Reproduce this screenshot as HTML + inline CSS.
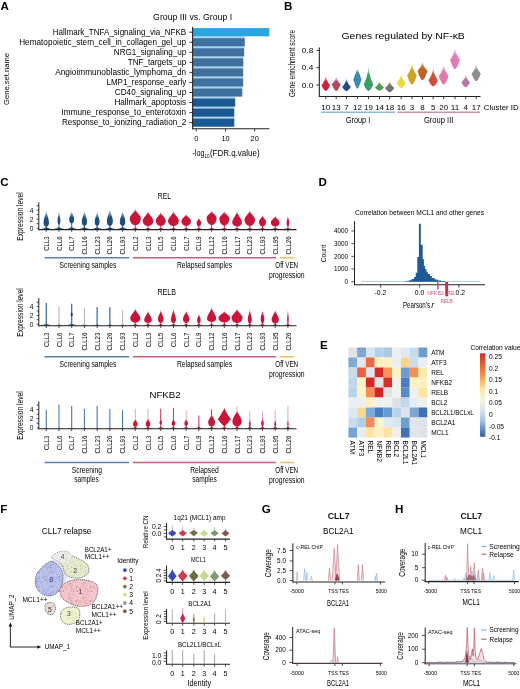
<!DOCTYPE html>
<html><head><meta charset="utf-8"><style>
html,body{margin:0;padding:0;background:#fff;}
svg{display:block;will-change:transform;}
text{font-family:"Liberation Sans", sans-serif;}
</style></head><body>
<svg width="520" height="689" viewBox="0 0 520 689">
<rect width="520" height="689" fill="#fff"/>
<text x="0.40" y="9.60" font-size="11.6" font-weight="bold" fill="#000">A</text>
<text x="284.00" y="9.70" font-size="11.6" font-weight="bold" fill="#000">B</text>
<text x="0.30" y="185.60" font-size="11.6" font-weight="bold" fill="#000">C</text>
<text x="318.50" y="185.90" font-size="11.6" font-weight="bold" fill="#000">D</text>
<text x="320.00" y="348.70" font-size="11.6" font-weight="bold" fill="#000">E</text>
<text x="0.20" y="512.60" font-size="11.6" font-weight="bold" fill="#000">F</text>
<text x="261.80" y="512.50" font-size="11.6" font-weight="bold" fill="#000">G</text>
<text x="395.00" y="512.70" font-size="11.6" font-weight="bold" fill="#000">H</text>
<text x="153.10" y="20.10" font-size="9.9" textLength="79.00" lengthAdjust="spacingAndGlyphs">Group III vs. Group I</text>
<rect x="193.00" y="36.30" width="51.80" height="1.85" fill="#a4d2f0"/>
<rect x="193.00" y="46.35" width="51.20" height="1.85" fill="#a4d2f0"/>
<rect x="193.00" y="56.40" width="50.30" height="1.85" fill="#a4d2f0"/>
<rect x="193.00" y="66.45" width="50.20" height="1.85" fill="#a4d2f0"/>
<rect x="193.00" y="76.50" width="50.20" height="1.85" fill="#a4d2f0"/>
<rect x="193.00" y="86.55" width="49.30" height="1.85" fill="#a4d2f0"/>
<rect x="193.00" y="96.60" width="42.20" height="1.85" fill="#a4d2f0"/>
<rect x="193.00" y="106.65" width="41.30" height="1.85" fill="#a4d2f0"/>
<rect x="193.00" y="116.70" width="41.30" height="1.85" fill="#a4d2f0"/>
<rect x="193.00" y="28.10" width="76.40" height="8.20" fill="#27a6e0"/>
<text x="186.20" y="34.70" font-size="8.2" text-anchor="end" textLength="133.50" lengthAdjust="spacingAndGlyphs">Hallmark_TNFA_signaling_via_NFKB</text>
<line x1="189.30" y1="32.20" x2="192.50" y2="32.20" stroke="#222" stroke-width="0.9"/>
<rect x="193.00" y="38.15" width="51.80" height="8.20" fill="#3f71a0"/>
<text x="186.20" y="44.75" font-size="8.2" text-anchor="end" textLength="167.00" lengthAdjust="spacingAndGlyphs">Hematopoietic_stem_cell_in_collagen_gel_up</text>
<line x1="189.30" y1="42.25" x2="192.50" y2="42.25" stroke="#222" stroke-width="0.9"/>
<rect x="193.00" y="48.20" width="51.20" height="8.20" fill="#3f71a0"/>
<text x="186.20" y="54.80" font-size="8.2" text-anchor="end" textLength="72.40" lengthAdjust="spacingAndGlyphs">NRG1_signaling_up</text>
<line x1="189.30" y1="52.30" x2="192.50" y2="52.30" stroke="#222" stroke-width="0.9"/>
<rect x="193.00" y="58.25" width="50.30" height="8.20" fill="#3f71a0"/>
<text x="186.20" y="64.85" font-size="8.2" text-anchor="end" textLength="58.50" lengthAdjust="spacingAndGlyphs">TNF_targets_up</text>
<line x1="189.30" y1="62.35" x2="192.50" y2="62.35" stroke="#222" stroke-width="0.9"/>
<rect x="193.00" y="68.30" width="50.20" height="8.20" fill="#3f71a0"/>
<text x="186.20" y="74.90" font-size="8.2" text-anchor="end" textLength="131.00" lengthAdjust="spacingAndGlyphs">Angioimmunoblastic_lymphoma_dn</text>
<line x1="189.30" y1="72.40" x2="192.50" y2="72.40" stroke="#222" stroke-width="0.9"/>
<rect x="193.00" y="78.35" width="50.20" height="8.20" fill="#3f71a0"/>
<text x="186.20" y="84.95" font-size="8.2" text-anchor="end" textLength="79.70" lengthAdjust="spacingAndGlyphs">LMP1_response_early</text>
<line x1="189.30" y1="82.45" x2="192.50" y2="82.45" stroke="#222" stroke-width="0.9"/>
<rect x="193.00" y="88.40" width="49.30" height="8.20" fill="#3f71a0"/>
<text x="186.20" y="95.00" font-size="8.2" text-anchor="end" textLength="71.40" lengthAdjust="spacingAndGlyphs">CD40_signaling_up</text>
<line x1="189.30" y1="92.50" x2="192.50" y2="92.50" stroke="#222" stroke-width="0.9"/>
<rect x="193.00" y="98.45" width="42.20" height="8.20" fill="#1a5a93"/>
<text x="186.20" y="105.05" font-size="8.2" text-anchor="end" textLength="71.80" lengthAdjust="spacingAndGlyphs">Hallmark_apoptosis</text>
<line x1="189.30" y1="102.55" x2="192.50" y2="102.55" stroke="#222" stroke-width="0.9"/>
<rect x="193.00" y="108.50" width="41.30" height="8.20" fill="#1a5a93"/>
<text x="186.20" y="115.10" font-size="8.2" text-anchor="end" textLength="124.70" lengthAdjust="spacingAndGlyphs">Immune_response_to_enterotoxin</text>
<line x1="189.30" y1="112.60" x2="192.50" y2="112.60" stroke="#222" stroke-width="0.9"/>
<rect x="193.00" y="118.55" width="41.30" height="8.20" fill="#1a5a93"/>
<text x="186.20" y="125.15" font-size="8.2" text-anchor="end" textLength="124.30" lengthAdjust="spacingAndGlyphs">Response_to_ionizing_radiation_2</text>
<line x1="189.30" y1="122.65" x2="192.50" y2="122.65" stroke="#222" stroke-width="0.9"/>
<line x1="192.60" y1="27.00" x2="192.60" y2="129.20" stroke="#222" stroke-width="1.1"/>
<line x1="192.00" y1="128.80" x2="269.40" y2="128.80" stroke="#222" stroke-width="1.1"/>
<line x1="196.30" y1="128.80" x2="196.30" y2="131.50" stroke="#222" stroke-width="0.9"/>
<text x="196.30" y="141.30" font-size="7.4" text-anchor="middle">0</text>
<line x1="225.50" y1="128.80" x2="225.50" y2="131.50" stroke="#222" stroke-width="0.9"/>
<text x="225.50" y="141.30" font-size="7.4" text-anchor="middle">10</text>
<line x1="254.70" y1="128.80" x2="254.70" y2="131.50" stroke="#222" stroke-width="0.9"/>
<text x="254.70" y="141.30" font-size="7.4" text-anchor="middle">20</text>
<text x="192.40" y="155.60" font-size="8.6" textLength="12.00" lengthAdjust="spacingAndGlyphs">-log</text>
<text x="204.50" y="157.60" font-size="5.8" textLength="5.10" lengthAdjust="spacingAndGlyphs">10</text>
<text x="209.90" y="155.60" font-size="8.6" textLength="49.70" lengthAdjust="spacingAndGlyphs">(FDR.q.value)</text>
<text x="8.60" y="79.00" font-size="7.8" text-anchor="middle" textLength="52.00" lengthAdjust="spacingAndGlyphs" transform="rotate(-90 8.60 79.00)">Gene.set.name</text>
<text x="341.50" y="39.30" font-size="9.4" textLength="123.30" lengthAdjust="spacingAndGlyphs">Genes regulated by NF-κB</text>
<line x1="319.30" y1="47.50" x2="319.30" y2="96.80" stroke="#222" stroke-width="1.1"/>
<line x1="318.80" y1="96.50" x2="480.50" y2="96.50" stroke="#222" stroke-width="1.1"/>
<line x1="316.30" y1="50.40" x2="319.30" y2="50.40" stroke="#222" stroke-width="0.9"/>
<text x="313.30" y="53.10" font-size="7.8" text-anchor="end" textLength="11.50" lengthAdjust="spacingAndGlyphs">0.8</text>
<line x1="316.30" y1="67.70" x2="319.30" y2="67.70" stroke="#222" stroke-width="0.9"/>
<text x="313.30" y="70.40" font-size="7.8" text-anchor="end" textLength="11.50" lengthAdjust="spacingAndGlyphs">0.4</text>
<line x1="316.30" y1="85.00" x2="319.30" y2="85.00" stroke="#222" stroke-width="0.9"/>
<text x="313.30" y="87.70" font-size="7.8" text-anchor="end" textLength="11.50" lengthAdjust="spacingAndGlyphs">0.0</text>
<text x="295.00" y="63.50" font-size="8.6" text-anchor="middle" textLength="67.00" lengthAdjust="spacingAndGlyphs" transform="rotate(-90 295.00 63.50)">Gene enrichment score</text>
<defs><linearGradient id="fg1" x1="0" y1="0" x2="0" y2="1"><stop offset="0" stop-color="#d0203c" stop-opacity="0.15"/><stop offset="0.4" stop-color="#d0203c" stop-opacity="1"/></linearGradient></defs>
<path d="M325.80,74.90 L325.82,75.64 L325.89,76.37 L326.00,77.11 L326.15,77.84 L326.35,78.58 L326.59,79.31 L326.88,80.05 L327.20,80.79 L327.58,81.52 L327.99,82.26 L328.45,82.99 L328.96,83.73 L329.51,84.46 L330.10,85.20 L329.91,85.61 L329.72,86.03 L329.52,86.44 L329.31,86.86 L329.10,87.27 L328.87,87.69 L328.64,88.10 L328.39,88.51 L328.12,88.93 L327.83,89.34 L327.51,89.76 L327.14,90.17 L326.68,90.59 L325.80,91.00 L325.80,91.00 L324.92,90.59 L324.46,90.17 L324.09,89.76 L323.77,89.34 L323.48,88.93 L323.21,88.51 L322.96,88.10 L322.73,87.69 L322.50,87.27 L322.29,86.86 L322.08,86.44 L321.88,86.03 L321.69,85.61 L321.50,85.20 L322.09,84.46 L322.64,83.73 L323.15,82.99 L323.61,82.26 L324.02,81.52 L324.40,80.79 L324.73,80.05 L325.01,79.31 L325.25,78.58 L325.45,77.84 L325.60,77.11 L325.71,76.37 L325.78,75.64 L325.80,74.90Z" fill="url(#fg1)"/>
<line x1="325.80" y1="96.50" x2="325.80" y2="99.20" stroke="#222" stroke-width="0.9"/>
<text x="325.80" y="109.80" font-size="8.0" text-anchor="middle">10</text>
<defs><linearGradient id="fg2" x1="0" y1="0" x2="0" y2="1"><stop offset="0" stop-color="#b04a5e" stop-opacity="0.15"/><stop offset="0.4" stop-color="#b04a5e" stop-opacity="1"/></linearGradient></defs>
<path d="M336.20,75.70 L336.22,76.31 L336.29,76.93 L336.41,77.54 L336.57,78.16 L336.77,78.77 L337.03,79.39 L337.32,80.00 L337.67,80.61 L338.06,81.23 L338.50,81.84 L338.98,82.46 L339.51,83.07 L340.08,83.69 L340.70,84.30 L340.50,84.78 L340.30,85.26 L340.09,85.74 L339.88,86.21 L339.65,86.69 L339.42,87.17 L339.17,87.65 L338.91,88.13 L338.63,88.61 L338.32,89.09 L337.99,89.56 L337.60,90.04 L337.12,90.52 L336.20,91.00 L336.20,91.00 L335.28,90.52 L334.80,90.04 L334.41,89.56 L334.08,89.09 L333.77,88.61 L333.49,88.13 L333.23,87.65 L332.98,87.17 L332.75,86.69 L332.52,86.21 L332.31,85.74 L332.10,85.26 L331.90,84.78 L331.70,84.30 L332.32,83.69 L332.89,83.07 L333.42,82.46 L333.90,81.84 L334.34,81.23 L334.73,80.61 L335.07,80.00 L335.37,79.39 L335.63,78.77 L335.83,78.16 L335.99,77.54 L336.11,76.93 L336.18,76.31 L336.20,75.70Z" fill="url(#fg2)"/>
<line x1="336.20" y1="96.50" x2="336.20" y2="99.20" stroke="#222" stroke-width="0.9"/>
<text x="336.20" y="109.80" font-size="8.0" text-anchor="middle">13</text>
<defs><linearGradient id="fg3" x1="0" y1="0" x2="0" y2="1"><stop offset="0" stop-color="#1d4f80" stop-opacity="0.15"/><stop offset="0.4" stop-color="#1d4f80" stop-opacity="1"/></linearGradient></defs>
<path d="M346.50,77.20 L346.52,77.90 L346.59,78.60 L346.70,79.30 L346.85,80.00 L347.05,80.70 L347.29,81.40 L347.57,82.10 L347.90,82.80 L348.28,83.50 L348.69,84.20 L349.15,84.90 L349.66,85.60 L350.21,86.30 L350.80,87.00 L350.61,87.29 L350.42,87.57 L350.22,87.86 L350.01,88.14 L349.80,88.43 L349.57,88.71 L349.34,89.00 L349.09,89.29 L348.82,89.57 L348.53,89.86 L348.21,90.14 L347.84,90.43 L347.38,90.71 L346.50,91.00 L346.50,91.00 L345.62,90.71 L345.16,90.43 L344.79,90.14 L344.47,89.86 L344.18,89.57 L343.91,89.29 L343.66,89.00 L343.43,88.71 L343.20,88.43 L342.99,88.14 L342.78,87.86 L342.58,87.57 L342.39,87.29 L342.20,87.00 L342.79,86.30 L343.34,85.60 L343.85,84.90 L344.31,84.20 L344.72,83.50 L345.10,82.80 L345.43,82.10 L345.71,81.40 L345.95,80.70 L346.15,80.00 L346.30,79.30 L346.41,78.60 L346.48,77.90 L346.50,77.20Z" fill="url(#fg3)"/>
<line x1="346.50" y1="96.50" x2="346.50" y2="99.20" stroke="#222" stroke-width="0.9"/>
<text x="346.50" y="109.80" font-size="8.0" text-anchor="middle">7</text>
<defs><linearGradient id="fg4" x1="0" y1="0" x2="0" y2="1"><stop offset="0" stop-color="#3a8cb3" stop-opacity="0.3"/><stop offset="0.2" stop-color="#3a8cb3" stop-opacity="1"/></linearGradient></defs>
<path d="M357.40,69.00 L357.78,69.75 L358.11,70.50 L358.42,71.25 L358.73,72.00 L359.02,72.75 L359.31,73.50 L359.60,74.25 L359.88,75.00 L360.15,75.75 L360.43,76.50 L360.70,77.25 L360.97,78.00 L361.24,78.75 L361.50,79.50 L361.29,80.16 L361.08,80.83 L360.86,81.49 L360.64,82.16 L360.41,82.82 L360.17,83.49 L359.92,84.15 L359.67,84.81 L359.39,85.48 L359.11,86.14 L358.79,86.81 L358.45,87.47 L358.05,88.14 L357.40,88.80 L357.40,88.80 L356.75,88.14 L356.35,87.47 L356.01,86.81 L355.69,86.14 L355.41,85.48 L355.13,84.81 L354.88,84.15 L354.63,83.49 L354.39,82.82 L354.16,82.16 L353.94,81.49 L353.72,80.83 L353.51,80.16 L353.30,79.50 L353.56,78.75 L353.83,78.00 L354.10,77.25 L354.37,76.50 L354.65,75.75 L354.92,75.00 L355.20,74.25 L355.49,73.50 L355.78,72.75 L356.07,72.00 L356.38,71.25 L356.69,70.50 L357.02,69.75 L357.40,69.00Z" fill="url(#fg4)"/>
<line x1="357.40" y1="96.50" x2="357.40" y2="99.20" stroke="#222" stroke-width="0.9"/>
<text x="357.40" y="109.80" font-size="8.0" text-anchor="middle">12</text>
<defs><linearGradient id="fg5" x1="0" y1="0" x2="0" y2="1"><stop offset="0" stop-color="#3b9e66" stop-opacity="0.15"/><stop offset="0.4" stop-color="#3b9e66" stop-opacity="1"/></linearGradient></defs>
<path d="M368.50,64.20 L368.52,65.65 L368.60,67.10 L368.72,68.55 L368.89,70.00 L369.11,71.45 L369.38,72.90 L369.70,74.35 L370.07,75.80 L370.48,77.25 L370.95,78.70 L371.46,80.15 L372.03,81.60 L372.64,83.05 L373.30,84.50 L373.09,84.96 L372.88,85.43 L372.65,85.89 L372.42,86.36 L372.18,86.82 L371.93,87.29 L371.67,87.75 L371.39,88.21 L371.09,88.68 L370.76,89.14 L370.40,89.61 L369.99,90.07 L369.49,90.54 L368.50,91.00 L368.50,91.00 L367.51,90.54 L367.01,90.07 L366.60,89.61 L366.24,89.14 L365.91,88.68 L365.61,88.21 L365.33,87.75 L365.07,87.29 L364.82,86.82 L364.58,86.36 L364.35,85.89 L364.12,85.43 L363.91,84.96 L363.70,84.50 L364.36,83.05 L364.97,81.60 L365.54,80.15 L366.05,78.70 L366.52,77.25 L366.93,75.80 L367.30,74.35 L367.62,72.90 L367.89,71.45 L368.11,70.00 L368.28,68.55 L368.40,67.10 L368.48,65.65 L368.50,64.20Z" fill="url(#fg5)"/>
<line x1="368.50" y1="96.50" x2="368.50" y2="99.20" stroke="#222" stroke-width="0.9"/>
<text x="368.50" y="109.80" font-size="8.0" text-anchor="middle">19</text>
<defs><linearGradient id="fg6" x1="0" y1="0" x2="0" y2="1"><stop offset="0" stop-color="#4a9e4e" stop-opacity="0.15"/><stop offset="0.4" stop-color="#4a9e4e" stop-opacity="1"/></linearGradient></defs>
<path d="M379.50,80.30 L379.52,80.81 L379.59,81.33 L379.71,81.84 L379.87,82.36 L380.07,82.87 L380.33,83.39 L380.62,83.90 L380.97,84.41 L381.36,84.93 L381.80,85.44 L382.28,85.96 L382.81,86.47 L383.38,86.99 L384.00,87.50 L383.80,87.72 L383.60,87.94 L383.39,88.16 L383.18,88.39 L382.95,88.61 L382.72,88.83 L382.47,89.05 L382.21,89.27 L381.93,89.49 L381.62,89.71 L381.29,89.94 L380.90,90.16 L380.42,90.38 L379.50,90.60 L379.50,90.60 L378.58,90.38 L378.10,90.16 L377.71,89.94 L377.38,89.71 L377.07,89.49 L376.79,89.27 L376.53,89.05 L376.28,88.83 L376.05,88.61 L375.82,88.39 L375.61,88.16 L375.40,87.94 L375.20,87.72 L375.00,87.50 L375.62,86.99 L376.19,86.47 L376.72,85.96 L377.20,85.44 L377.64,84.93 L378.03,84.41 L378.38,83.90 L378.67,83.39 L378.93,82.87 L379.13,82.36 L379.29,81.84 L379.41,81.33 L379.48,80.81 L379.50,80.30Z" fill="url(#fg6)"/>
<line x1="379.50" y1="96.50" x2="379.50" y2="99.20" stroke="#222" stroke-width="0.9"/>
<text x="379.50" y="109.80" font-size="8.0" text-anchor="middle">14</text>
<defs><linearGradient id="fg7" x1="0" y1="0" x2="0" y2="1"><stop offset="0" stop-color="#727272" stop-opacity="0.15"/><stop offset="0.4" stop-color="#727272" stop-opacity="1"/></linearGradient></defs>
<path d="M389.70,80.30 L389.72,80.85 L389.79,81.40 L389.91,81.95 L390.08,82.50 L390.29,83.05 L390.54,83.60 L390.85,84.15 L391.20,84.70 L391.60,85.25 L392.05,85.80 L392.54,86.35 L393.08,86.90 L393.67,87.45 L394.30,88.00 L394.10,88.30 L393.89,88.60 L393.68,88.90 L393.46,89.20 L393.23,89.50 L392.99,89.80 L392.73,90.10 L392.47,90.40 L392.18,90.70 L391.87,91.00 L391.53,91.30 L391.13,91.60 L390.64,91.90 L389.70,92.20 L389.70,92.20 L388.76,91.90 L388.27,91.60 L387.87,91.30 L387.53,91.00 L387.22,90.70 L386.93,90.40 L386.67,90.10 L386.41,89.80 L386.17,89.50 L385.94,89.20 L385.72,88.90 L385.51,88.60 L385.30,88.30 L385.10,88.00 L385.73,87.45 L386.32,86.90 L386.86,86.35 L387.35,85.80 L387.80,85.25 L388.20,84.70 L388.55,84.15 L388.86,83.60 L389.11,83.05 L389.32,82.50 L389.49,81.95 L389.61,81.40 L389.68,80.85 L389.70,80.30Z" fill="url(#fg7)"/>
<line x1="389.70" y1="96.50" x2="389.70" y2="99.20" stroke="#222" stroke-width="0.9"/>
<text x="389.70" y="109.80" font-size="8.0" text-anchor="middle">18</text>
<defs><linearGradient id="fg8" x1="0" y1="0" x2="0" y2="1"><stop offset="0" stop-color="#e8dc38" stop-opacity="0.15"/><stop offset="0.4" stop-color="#e8dc38" stop-opacity="1"/></linearGradient></defs>
<path d="M401.20,72.60 L401.22,73.34 L401.29,74.07 L401.41,74.81 L401.57,75.54 L401.77,76.28 L402.03,77.01 L402.32,77.75 L402.67,78.49 L403.06,79.22 L403.50,79.96 L403.98,80.69 L404.51,81.43 L405.08,82.16 L405.70,82.90 L405.50,83.27 L405.30,83.64 L405.09,84.01 L404.88,84.39 L404.65,84.76 L404.42,85.13 L404.17,85.50 L403.91,85.87 L403.63,86.24 L403.32,86.61 L402.99,86.99 L402.60,87.36 L402.12,87.73 L401.20,88.10 L401.20,88.10 L400.28,87.73 L399.80,87.36 L399.41,86.99 L399.08,86.61 L398.77,86.24 L398.49,85.87 L398.23,85.50 L397.98,85.13 L397.75,84.76 L397.52,84.39 L397.31,84.01 L397.10,83.64 L396.90,83.27 L396.70,82.90 L397.32,82.16 L397.89,81.43 L398.42,80.69 L398.90,79.96 L399.34,79.22 L399.73,78.49 L400.07,77.75 L400.37,77.01 L400.63,76.28 L400.83,75.54 L400.99,74.81 L401.11,74.07 L401.18,73.34 L401.20,72.60Z" fill="url(#fg8)"/>
<line x1="401.20" y1="96.50" x2="401.20" y2="99.20" stroke="#222" stroke-width="0.9"/>
<text x="401.20" y="109.80" font-size="8.0" text-anchor="middle">16</text>
<defs><linearGradient id="fg9" x1="0" y1="0" x2="0" y2="1"><stop offset="0" stop-color="#d0a22a" stop-opacity="0.15"/><stop offset="0.4" stop-color="#d0a22a" stop-opacity="1"/></linearGradient></defs>
<path d="M412.00,61.30 L412.02,62.29 L412.10,63.29 L412.22,64.28 L412.39,65.27 L412.61,66.26 L412.88,67.26 L413.20,68.25 L413.57,69.24 L413.98,70.24 L414.45,71.23 L414.96,72.22 L415.53,73.21 L416.14,74.21 L416.80,75.20 L416.59,75.88 L416.38,76.56 L416.15,77.24 L415.92,77.91 L415.68,78.59 L415.43,79.27 L415.17,79.95 L414.89,80.63 L414.59,81.31 L414.26,81.99 L413.90,82.66 L413.49,83.34 L412.99,84.02 L412.00,84.70 L412.00,84.70 L411.01,84.02 L410.51,83.34 L410.10,82.66 L409.74,81.99 L409.41,81.31 L409.11,80.63 L408.83,79.95 L408.57,79.27 L408.32,78.59 L408.08,77.91 L407.85,77.24 L407.62,76.56 L407.41,75.88 L407.20,75.20 L407.86,74.21 L408.47,73.21 L409.04,72.22 L409.55,71.23 L410.02,70.24 L410.43,69.24 L410.80,68.25 L411.12,67.26 L411.39,66.26 L411.61,65.27 L411.78,64.28 L411.90,63.29 L411.98,62.29 L412.00,61.30Z" fill="url(#fg9)"/>
<line x1="412.00" y1="96.50" x2="412.00" y2="99.20" stroke="#222" stroke-width="0.9"/>
<text x="412.00" y="109.80" font-size="8.0" text-anchor="middle">3</text>
<defs><linearGradient id="fg10" x1="0" y1="0" x2="0" y2="1"><stop offset="0" stop-color="#c0622a" stop-opacity="0.15"/><stop offset="0.4" stop-color="#c0622a" stop-opacity="1"/></linearGradient></defs>
<path d="M422.50,60.40 L422.53,61.14 L422.60,61.89 L422.73,62.63 L422.91,63.37 L423.14,64.11 L423.42,64.86 L423.75,65.60 L424.13,66.34 L424.57,67.09 L425.05,67.83 L425.59,68.57 L426.17,69.31 L426.81,70.06 L427.50,70.80 L427.28,71.48 L427.06,72.16 L426.83,72.84 L426.59,73.51 L426.34,74.19 L426.07,74.87 L425.80,75.55 L425.51,76.23 L425.20,76.91 L424.86,77.59 L424.48,78.26 L424.06,78.94 L423.53,79.62 L422.50,80.30 L422.50,80.30 L421.47,79.62 L420.94,78.94 L420.52,78.26 L420.14,77.59 L419.80,76.91 L419.49,76.23 L419.20,75.55 L418.93,74.87 L418.66,74.19 L418.41,73.51 L418.17,72.84 L417.94,72.16 L417.72,71.48 L417.50,70.80 L418.19,70.06 L418.83,69.31 L419.41,68.57 L419.95,67.83 L420.43,67.09 L420.87,66.34 L421.25,65.60 L421.58,64.86 L421.86,64.11 L422.09,63.37 L422.27,62.63 L422.40,61.89 L422.47,61.14 L422.50,60.40Z" fill="url(#fg10)"/>
<line x1="422.50" y1="96.50" x2="422.50" y2="99.20" stroke="#222" stroke-width="0.9"/>
<text x="422.50" y="109.80" font-size="8.0" text-anchor="middle">8</text>
<defs><linearGradient id="fg11" x1="0" y1="0" x2="0" y2="1"><stop offset="0" stop-color="#c8523e" stop-opacity="0.15"/><stop offset="0.4" stop-color="#c8523e" stop-opacity="1"/></linearGradient></defs>
<path d="M433.20,66.50 L433.22,67.49 L433.30,68.47 L433.42,69.46 L433.59,70.44 L433.81,71.43 L434.08,72.41 L434.40,73.40 L434.77,74.39 L435.18,75.37 L435.65,76.36 L436.16,77.34 L436.73,78.33 L437.34,79.31 L438.00,80.30 L437.79,80.74 L437.58,81.17 L437.35,81.61 L437.12,82.04 L436.88,82.48 L436.63,82.91 L436.37,83.35 L436.09,83.79 L435.79,84.22 L435.46,84.66 L435.10,85.09 L434.69,85.53 L434.19,85.96 L433.20,86.40 L433.20,86.40 L432.21,85.96 L431.71,85.53 L431.30,85.09 L430.94,84.66 L430.61,84.22 L430.31,83.79 L430.03,83.35 L429.77,82.91 L429.52,82.48 L429.28,82.04 L429.05,81.61 L428.82,81.17 L428.61,80.74 L428.40,80.30 L429.06,79.31 L429.67,78.33 L430.24,77.34 L430.75,76.36 L431.22,75.37 L431.63,74.39 L432.00,73.40 L432.32,72.41 L432.59,71.43 L432.81,70.44 L432.98,69.46 L433.10,68.47 L433.18,67.49 L433.20,66.50Z" fill="url(#fg11)"/>
<line x1="433.20" y1="96.50" x2="433.20" y2="99.20" stroke="#222" stroke-width="0.9"/>
<text x="433.20" y="109.80" font-size="8.0" text-anchor="middle">5</text>
<defs><linearGradient id="fg12" x1="0" y1="0" x2="0" y2="1"><stop offset="0" stop-color="#e478a8" stop-opacity="0.15"/><stop offset="0.4" stop-color="#e478a8" stop-opacity="1"/></linearGradient></defs>
<path d="M443.70,63.00 L443.72,63.93 L443.80,64.86 L443.93,65.79 L444.10,66.71 L444.32,67.64 L444.60,68.57 L444.93,69.50 L445.30,70.43 L445.72,71.36 L446.20,72.29 L446.72,73.21 L447.30,74.14 L447.93,75.07 L448.60,76.00 L448.39,76.62 L448.17,77.24 L447.94,77.86 L447.70,78.49 L447.46,79.11 L447.20,79.73 L446.93,80.35 L446.65,80.97 L446.34,81.59 L446.01,82.21 L445.64,82.84 L445.22,83.46 L444.71,84.08 L443.70,84.70 L443.70,84.70 L442.69,84.08 L442.18,83.46 L441.76,82.84 L441.39,82.21 L441.06,81.59 L440.75,80.97 L440.47,80.35 L440.20,79.73 L439.94,79.11 L439.70,78.49 L439.46,77.86 L439.23,77.24 L439.01,76.62 L438.80,76.00 L439.47,75.07 L440.10,74.14 L440.68,73.21 L441.20,72.29 L441.68,71.36 L442.10,70.43 L442.47,69.50 L442.80,68.57 L443.07,67.64 L443.30,66.71 L443.47,65.79 L443.60,64.86 L443.68,63.93 L443.70,63.00Z" fill="url(#fg12)"/>
<line x1="443.70" y1="96.50" x2="443.70" y2="99.20" stroke="#222" stroke-width="0.9"/>
<text x="443.70" y="109.80" font-size="8.0" text-anchor="middle">20</text>
<defs><linearGradient id="fg13" x1="0" y1="0" x2="0" y2="1"><stop offset="0" stop-color="#e27ab4" stop-opacity="0.15"/><stop offset="0.4" stop-color="#e27ab4" stop-opacity="1"/></linearGradient></defs>
<path d="M455.00,46.60 L455.02,47.53 L455.10,48.46 L455.23,49.39 L455.40,50.31 L455.62,51.24 L455.90,52.17 L456.23,53.10 L456.60,54.03 L457.02,54.96 L457.50,55.89 L458.02,56.81 L458.60,57.74 L459.23,58.67 L459.90,59.60 L459.69,60.28 L459.47,60.96 L459.24,61.64 L459.00,62.31 L458.76,62.99 L458.50,63.67 L458.23,64.35 L457.95,65.03 L457.64,65.71 L457.31,66.39 L456.94,67.06 L456.52,67.74 L456.01,68.42 L455.00,69.10 L455.00,69.10 L453.99,68.42 L453.48,67.74 L453.06,67.06 L452.69,66.39 L452.36,65.71 L452.05,65.03 L451.77,64.35 L451.50,63.67 L451.24,62.99 L451.00,62.31 L450.76,61.64 L450.53,60.96 L450.31,60.28 L450.10,59.60 L450.77,58.67 L451.40,57.74 L451.98,56.81 L452.50,55.89 L452.98,54.96 L453.40,54.03 L453.77,53.10 L454.10,52.17 L454.38,51.24 L454.60,50.31 L454.77,49.39 L454.90,48.46 L454.98,47.53 L455.00,46.60Z" fill="url(#fg13)"/>
<line x1="455.00" y1="96.50" x2="455.00" y2="99.20" stroke="#222" stroke-width="0.9"/>
<text x="455.00" y="109.80" font-size="8.0" text-anchor="middle">11</text>
<defs><linearGradient id="fg14" x1="0" y1="0" x2="0" y2="1"><stop offset="0" stop-color="#b47aa4" stop-opacity="0.15"/><stop offset="0.4" stop-color="#b47aa4" stop-opacity="1"/></linearGradient></defs>
<path d="M465.70,73.40 L465.72,74.04 L465.79,74.69 L465.90,75.33 L466.05,75.97 L466.25,76.61 L466.49,77.26 L466.77,77.90 L467.10,78.54 L467.48,79.19 L467.89,79.83 L468.35,80.47 L468.86,81.11 L469.41,81.76 L470.00,82.40 L469.81,82.75 L469.62,83.10 L469.42,83.45 L469.21,83.80 L469.00,84.15 L468.77,84.50 L468.54,84.85 L468.29,85.20 L468.02,85.55 L467.73,85.90 L467.41,86.25 L467.04,86.60 L466.58,86.95 L465.70,87.30 L465.70,87.30 L464.82,86.95 L464.36,86.60 L463.99,86.25 L463.67,85.90 L463.38,85.55 L463.11,85.20 L462.86,84.85 L462.63,84.50 L462.40,84.15 L462.19,83.80 L461.98,83.45 L461.78,83.10 L461.59,82.75 L461.40,82.40 L461.99,81.76 L462.54,81.11 L463.05,80.47 L463.51,79.83 L463.92,79.19 L464.30,78.54 L464.62,77.90 L464.91,77.26 L465.15,76.61 L465.35,75.97 L465.50,75.33 L465.61,74.69 L465.68,74.04 L465.70,73.40Z" fill="url(#fg14)"/>
<line x1="465.70" y1="96.50" x2="465.70" y2="99.20" stroke="#222" stroke-width="0.9"/>
<text x="465.70" y="109.80" font-size="8.0" text-anchor="middle">4</text>
<defs><linearGradient id="fg15" x1="0" y1="0" x2="0" y2="1"><stop offset="0" stop-color="#8e8e8e" stop-opacity="0.15"/><stop offset="0.4" stop-color="#8e8e8e" stop-opacity="1"/></linearGradient></defs>
<path d="M476.20,63.00 L476.22,63.74 L476.29,64.49 L476.41,65.23 L476.58,65.97 L476.79,66.71 L477.04,67.46 L477.35,68.20 L477.70,68.94 L478.10,69.69 L478.55,70.43 L479.04,71.17 L479.58,71.91 L480.17,72.66 L480.80,73.40 L480.60,73.96 L480.39,74.51 L480.18,75.07 L479.96,75.63 L479.73,76.19 L479.49,76.74 L479.23,77.30 L478.97,77.86 L478.68,78.41 L478.37,78.97 L478.03,79.53 L477.63,80.09 L477.14,80.64 L476.20,81.20 L476.20,81.20 L475.26,80.64 L474.77,80.09 L474.37,79.53 L474.03,78.97 L473.72,78.41 L473.43,77.86 L473.17,77.30 L472.91,76.74 L472.67,76.19 L472.44,75.63 L472.22,75.07 L472.01,74.51 L471.80,73.96 L471.60,73.40 L472.23,72.66 L472.82,71.91 L473.36,71.17 L473.85,70.43 L474.30,69.69 L474.70,68.94 L475.05,68.20 L475.36,67.46 L475.61,66.71 L475.82,65.97 L475.99,65.23 L476.11,64.49 L476.18,63.74 L476.20,63.00Z" fill="url(#fg15)"/>
<line x1="476.20" y1="96.50" x2="476.20" y2="99.20" stroke="#222" stroke-width="0.9"/>
<text x="476.20" y="109.80" font-size="8.0" text-anchor="middle">17</text>
<text x="483.80" y="109.80" font-size="8.0" textLength="34.80" lengthAdjust="spacingAndGlyphs">Cluster ID</text>
<line x1="321.00" y1="112.20" x2="395.00" y2="112.20" stroke="#8fb9cf" stroke-width="1.5"/>
<line x1="397.50" y1="112.20" x2="480.00" y2="112.20" stroke="#c993ab" stroke-width="1.5"/>
<text x="358.00" y="123.20" font-size="9.0" text-anchor="middle" textLength="24.40" lengthAdjust="spacingAndGlyphs">Group I</text>
<text x="438.70" y="123.20" font-size="9.0" text-anchor="middle" textLength="29.50" lengthAdjust="spacingAndGlyphs">Group III</text>
<defs><linearGradient id="gB" x1="0" y1="0" x2="0" y2="1"><stop offset="0" stop-color="#1c4f7e" stop-opacity="0.0"/><stop offset="0.55" stop-color="#1c4f7e" stop-opacity="1"/></linearGradient><linearGradient id="gR" x1="0" y1="0" x2="0" y2="1"><stop offset="0" stop-color="#c8163a" stop-opacity="0.3"/><stop offset="0.3" stop-color="#c8163a" stop-opacity="1"/></linearGradient></defs>
<path d="M39.65,229.30 Q43.94,228.58 46.25,226.90 Q48.56,228.58 52.85,229.30Z" fill="#1c4f7e"/>
<path d="M46.25,208.00 L46.25,208.75 L46.28,209.50 L46.32,210.25 L46.40,211.00 L46.52,211.75 L46.66,212.50 L46.83,213.25 L47.02,214.00 L47.23,214.75 L47.46,215.50 L47.68,216.25 L47.91,217.00 L48.12,217.75 L48.32,218.50 L48.50,219.25 L48.66,220.00 L48.78,220.75 L48.88,221.50 L48.93,222.25 L48.95,223.00 L48.95,223.19 L48.94,223.37 L48.92,223.56 L48.90,223.74 L48.86,223.93 L48.83,224.11 L48.78,224.29 L48.72,224.48 L48.66,224.66 L48.59,224.85 L48.50,225.03 L48.41,225.22 L48.30,225.41 L48.18,225.59 L48.04,225.77 L47.87,225.96 L47.67,226.14 L47.43,226.33 L47.09,226.51 L46.25,226.70 L46.25,226.70 L45.41,226.51 L45.07,226.33 L44.83,226.14 L44.63,225.96 L44.46,225.77 L44.32,225.59 L44.20,225.41 L44.09,225.22 L44.00,225.03 L43.91,224.85 L43.84,224.66 L43.78,224.48 L43.72,224.29 L43.67,224.11 L43.64,223.93 L43.60,223.74 L43.58,223.56 L43.56,223.37 L43.55,223.19 L43.55,223.00 L43.57,222.25 L43.62,221.50 L43.72,220.75 L43.84,220.00 L44.00,219.25 L44.18,218.50 L44.38,217.75 L44.59,217.00 L44.82,216.25 L45.04,215.50 L45.27,214.75 L45.48,214.00 L45.67,213.25 L45.84,212.50 L45.98,211.75 L46.10,211.00 L46.18,210.25 L46.22,209.50 L46.25,208.75 L46.25,208.00Z" fill="url(#gB)"/>
<line x1="46.25" y1="226.20" x2="46.25" y2="229.60" stroke="#1c4f7e" stroke-width="0.9"/>
<path d="M52.37,229.30 Q56.66,228.58 58.97,226.90 Q61.28,228.58 65.57,229.30Z" fill="#1c4f7e"/>
<path d="M58.97,209.00 L58.97,209.62 L58.98,210.25 L59.01,210.88 L59.05,211.50 L59.11,212.12 L59.18,212.75 L59.27,213.38 L59.37,214.00 L59.48,214.62 L59.60,215.25 L59.71,215.88 L59.83,216.50 L59.94,217.12 L60.05,217.75 L60.14,218.38 L60.22,219.00 L60.28,219.62 L60.33,220.25 L60.36,220.88 L60.37,221.50 L60.37,221.65 L60.36,221.80 L60.35,221.95 L60.34,222.10 L60.33,222.25 L60.31,222.40 L60.28,222.55 L60.25,222.70 L60.22,222.85 L60.18,223.00 L60.14,223.15 L60.09,223.30 L60.03,223.45 L59.97,223.60 L59.90,223.75 L59.81,223.90 L59.71,224.05 L59.58,224.20 L59.41,224.35 L58.97,224.50 L58.97,224.50 L58.53,224.35 L58.36,224.20 L58.23,224.05 L58.13,223.90 L58.04,223.75 L57.97,223.60 L57.91,223.45 L57.85,223.30 L57.80,223.15 L57.76,223.00 L57.72,222.85 L57.69,222.70 L57.66,222.55 L57.63,222.40 L57.61,222.25 L57.60,222.10 L57.59,221.95 L57.58,221.80 L57.57,221.65 L57.57,221.50 L57.58,220.88 L57.61,220.25 L57.66,219.62 L57.72,219.00 L57.80,218.38 L57.89,217.75 L58.00,217.12 L58.11,216.50 L58.23,215.88 L58.34,215.25 L58.46,214.62 L58.57,214.00 L58.67,213.38 L58.76,212.75 L58.83,212.12 L58.89,211.50 L58.93,210.88 L58.96,210.25 L58.97,209.62 L58.97,209.00Z" fill="url(#gB)"/>
<line x1="58.97" y1="224.00" x2="58.97" y2="229.60" stroke="#1c4f7e" stroke-width="0.9"/>
<path d="M65.09,229.30 Q69.38,228.58 71.69,226.90 Q74.00,228.58 78.29,229.30Z" fill="#1c4f7e"/>
<path d="M71.69,209.50 L71.69,210.00 L71.71,210.50 L71.76,211.00 L71.83,211.50 L71.94,212.00 L72.07,212.50 L72.23,213.00 L72.41,213.50 L72.60,214.00 L72.81,214.50 L73.02,215.00 L73.22,215.50 L73.42,216.00 L73.61,216.50 L73.78,217.00 L73.92,217.50 L74.04,218.00 L74.12,218.50 L74.17,219.00 L74.19,219.50 L74.19,219.70 L74.18,219.90 L74.16,220.10 L74.14,220.30 L74.11,220.50 L74.07,220.70 L74.03,220.90 L73.98,221.10 L73.92,221.30 L73.86,221.50 L73.78,221.70 L73.69,221.90 L73.59,222.10 L73.48,222.30 L73.34,222.50 L73.19,222.70 L73.01,222.90 L72.78,223.10 L72.47,223.30 L71.69,223.50 L71.69,223.50 L70.91,223.30 L70.60,223.10 L70.37,222.90 L70.19,222.70 L70.04,222.50 L69.90,222.30 L69.79,222.10 L69.69,221.90 L69.60,221.70 L69.52,221.50 L69.46,221.30 L69.40,221.10 L69.35,220.90 L69.31,220.70 L69.27,220.50 L69.24,220.30 L69.22,220.10 L69.20,219.90 L69.19,219.70 L69.19,219.50 L69.21,219.00 L69.26,218.50 L69.34,218.00 L69.46,217.50 L69.60,217.00 L69.77,216.50 L69.96,216.00 L70.16,215.50 L70.36,215.00 L70.57,214.50 L70.78,214.00 L70.97,213.50 L71.15,213.00 L71.31,212.50 L71.44,212.00 L71.55,211.50 L71.62,211.00 L71.67,210.50 L71.69,210.00 L71.69,209.50Z" fill="url(#gB)"/>
<line x1="71.69" y1="223.00" x2="71.69" y2="229.60" stroke="#1c4f7e" stroke-width="0.9"/>
<path d="M77.81,229.30 Q82.10,228.58 84.41,226.90 Q86.72,228.58 91.01,229.30Z" fill="#1c4f7e"/>
<path d="M84.41,208.50 L84.41,209.18 L84.43,209.85 L84.48,210.53 L84.56,211.20 L84.67,211.88 L84.80,212.55 L84.97,213.22 L85.16,213.90 L85.36,214.57 L85.57,215.25 L85.79,215.93 L86.01,216.60 L86.21,217.28 L86.41,217.95 L86.58,218.62 L86.73,219.30 L86.85,219.97 L86.94,220.65 L86.99,221.32 L87.01,222.00 L87.01,222.20 L87.00,222.40 L86.98,222.60 L86.96,222.80 L86.93,223.00 L86.89,223.20 L86.85,223.40 L86.79,223.60 L86.73,223.80 L86.66,224.00 L86.58,224.20 L86.49,224.40 L86.39,224.60 L86.27,224.80 L86.13,225.00 L85.97,225.20 L85.78,225.40 L85.54,225.60 L85.22,225.80 L84.41,226.00 L84.41,226.00 L83.60,225.80 L83.28,225.60 L83.04,225.40 L82.85,225.20 L82.69,225.00 L82.55,224.80 L82.43,224.60 L82.33,224.40 L82.24,224.20 L82.16,224.00 L82.09,223.80 L82.03,223.60 L81.97,223.40 L81.93,223.20 L81.89,223.00 L81.86,222.80 L81.84,222.60 L81.82,222.40 L81.81,222.20 L81.81,222.00 L81.83,221.32 L81.88,220.65 L81.97,219.97 L82.09,219.30 L82.24,218.62 L82.41,217.95 L82.61,217.28 L82.81,216.60 L83.03,215.93 L83.25,215.25 L83.46,214.57 L83.66,213.90 L83.85,213.22 L84.02,212.55 L84.15,211.88 L84.26,211.20 L84.34,210.53 L84.39,209.85 L84.41,209.18 L84.41,208.50Z" fill="url(#gB)"/>
<line x1="84.41" y1="225.50" x2="84.41" y2="229.60" stroke="#1c4f7e" stroke-width="0.9"/>
<path d="M90.53,229.30 Q94.82,228.58 97.13,226.90 Q99.44,228.58 103.73,229.30Z" fill="#1c4f7e"/>
<path d="M97.13,209.50 L97.13,210.12 L97.15,210.75 L97.20,211.38 L97.27,212.00 L97.37,212.62 L97.49,213.25 L97.65,213.88 L97.82,214.50 L98.01,215.12 L98.20,215.75 L98.40,216.38 L98.60,217.00 L98.79,217.62 L98.97,218.25 L99.13,218.88 L99.27,219.50 L99.38,220.12 L99.46,220.75 L99.51,221.38 L99.53,222.00 L99.53,222.20 L99.52,222.40 L99.50,222.60 L99.48,222.80 L99.45,223.00 L99.42,223.20 L99.38,223.40 L99.33,223.60 L99.27,223.80 L99.21,224.00 L99.13,224.20 L99.05,224.40 L98.95,224.60 L98.84,224.80 L98.72,225.00 L98.57,225.20 L98.39,225.40 L98.18,225.60 L97.88,225.80 L97.13,226.00 L97.13,226.00 L96.38,225.80 L96.08,225.60 L95.87,225.40 L95.69,225.20 L95.54,225.00 L95.42,224.80 L95.31,224.60 L95.21,224.40 L95.13,224.20 L95.05,224.00 L94.99,223.80 L94.93,223.60 L94.88,223.40 L94.84,223.20 L94.81,223.00 L94.78,222.80 L94.76,222.60 L94.74,222.40 L94.73,222.20 L94.73,222.00 L94.75,221.38 L94.80,220.75 L94.88,220.12 L94.99,219.50 L95.13,218.88 L95.29,218.25 L95.47,217.62 L95.66,217.00 L95.86,216.38 L96.06,215.75 L96.25,215.12 L96.44,214.50 L96.61,213.88 L96.77,213.25 L96.89,212.62 L96.99,212.00 L97.06,211.38 L97.11,210.75 L97.13,210.12 L97.13,209.50Z" fill="url(#gB)"/>
<line x1="97.13" y1="225.50" x2="97.13" y2="229.60" stroke="#1c4f7e" stroke-width="0.9"/>
<path d="M103.25,229.30 Q107.54,228.58 109.85,226.90 Q112.16,228.58 116.45,229.30Z" fill="#1c4f7e"/>
<path d="M109.85,207.00 L109.85,207.72 L109.88,208.45 L109.93,209.18 L110.02,209.90 L110.15,210.62 L110.31,211.35 L110.49,212.07 L110.71,212.80 L110.94,213.53 L111.19,214.25 L111.44,214.97 L111.69,215.70 L111.93,216.43 L112.15,217.15 L112.35,217.88 L112.53,218.60 L112.66,219.32 L112.77,220.05 L112.83,220.78 L112.85,221.50 L112.85,221.72 L112.83,221.95 L112.82,222.18 L112.79,222.40 L112.75,222.62 L112.71,222.85 L112.66,223.07 L112.60,223.30 L112.53,223.53 L112.45,223.75 L112.36,223.97 L112.25,224.20 L112.13,224.43 L111.99,224.65 L111.83,224.88 L111.65,225.10 L111.43,225.32 L111.16,225.55 L110.79,225.78 L109.85,226.00 L109.85,226.00 L108.91,225.78 L108.54,225.55 L108.27,225.32 L108.05,225.10 L107.87,224.88 L107.71,224.65 L107.57,224.43 L107.45,224.20 L107.34,223.97 L107.25,223.75 L107.17,223.53 L107.10,223.30 L107.04,223.07 L106.99,222.85 L106.95,222.62 L106.91,222.40 L106.88,222.18 L106.87,221.95 L106.85,221.72 L106.85,221.50 L106.87,220.78 L106.93,220.05 L107.04,219.32 L107.17,218.60 L107.35,217.88 L107.55,217.15 L107.77,216.43 L108.01,215.70 L108.26,214.97 L108.51,214.25 L108.76,213.53 L108.99,212.80 L109.21,212.07 L109.39,211.35 L109.55,210.62 L109.68,209.90 L109.77,209.18 L109.82,208.45 L109.85,207.72 L109.85,207.00Z" fill="url(#gB)"/>
<line x1="109.85" y1="225.50" x2="109.85" y2="229.60" stroke="#1c4f7e" stroke-width="0.9"/>
<path d="M115.97,229.30 Q120.26,228.58 122.57,226.90 Q124.88,228.58 129.17,229.30Z" fill="#1c4f7e"/>
<path d="M122.57,208.50 L122.57,209.18 L122.60,209.85 L122.64,210.53 L122.72,211.20 L122.84,211.88 L122.98,212.55 L123.15,213.22 L123.34,213.90 L123.55,214.57 L123.78,215.25 L124.00,215.93 L124.23,216.60 L124.44,217.28 L124.64,217.95 L124.82,218.62 L124.98,219.30 L125.10,219.97 L125.20,220.65 L125.25,221.32 L125.27,222.00 L125.27,222.20 L125.26,222.40 L125.24,222.60 L125.22,222.80 L125.18,223.00 L125.15,223.20 L125.10,223.40 L125.04,223.60 L124.98,223.80 L124.91,224.00 L124.82,224.20 L124.73,224.40 L124.62,224.60 L124.50,224.80 L124.36,225.00 L124.19,225.20 L123.99,225.40 L123.75,225.60 L123.41,225.80 L122.57,226.00 L122.57,226.00 L121.73,225.80 L121.39,225.60 L121.15,225.40 L120.95,225.20 L120.78,225.00 L120.64,224.80 L120.52,224.60 L120.41,224.40 L120.32,224.20 L120.23,224.00 L120.16,223.80 L120.10,223.60 L120.04,223.40 L119.99,223.20 L119.96,223.00 L119.92,222.80 L119.90,222.60 L119.88,222.40 L119.87,222.20 L119.87,222.00 L119.89,221.32 L119.94,220.65 L120.04,219.97 L120.16,219.30 L120.32,218.62 L120.50,217.95 L120.70,217.28 L120.91,216.60 L121.14,215.93 L121.36,215.25 L121.59,214.57 L121.80,213.90 L121.99,213.22 L122.16,212.55 L122.30,211.88 L122.42,211.20 L122.50,210.53 L122.54,209.85 L122.57,209.18 L122.57,208.50Z" fill="url(#gB)"/>
<line x1="122.57" y1="225.50" x2="122.57" y2="229.60" stroke="#1c4f7e" stroke-width="0.9"/>
<path d="M129.79,229.30 Q133.37,228.91 135.29,228.00 Q137.22,228.91 140.79,229.30Z" fill="#7a1426"/>
<path d="M135.29,207.50 L135.30,208.04 L135.33,208.59 L135.41,209.13 L135.55,209.68 L135.75,210.22 L136.02,210.77 L136.35,211.31 L136.73,211.86 L137.16,212.41 L137.61,212.95 L138.08,213.50 L138.55,214.04 L139.01,214.59 L139.43,215.13 L139.82,215.68 L140.16,216.22 L140.43,216.77 L140.63,217.31 L140.75,217.86 L140.79,218.40 L140.78,218.75 L140.76,219.09 L140.73,219.44 L140.68,219.78 L140.62,220.12 L140.54,220.47 L140.44,220.81 L140.33,221.16 L140.20,221.50 L140.05,221.85 L139.88,222.20 L139.69,222.54 L139.47,222.89 L139.22,223.23 L138.93,223.58 L138.59,223.92 L138.19,224.27 L137.69,224.61 L137.01,224.96 L135.29,225.30 L135.29,225.30 L133.57,224.96 L132.89,224.61 L132.39,224.27 L131.99,223.92 L131.65,223.58 L131.36,223.23 L131.11,222.89 L130.89,222.54 L130.70,222.20 L130.53,221.85 L130.38,221.50 L130.25,221.16 L130.14,220.81 L130.04,220.47 L129.96,220.12 L129.90,219.78 L129.85,219.44 L129.82,219.09 L129.80,218.75 L129.79,218.40 L129.83,217.86 L129.95,217.31 L130.15,216.77 L130.42,216.22 L130.76,215.68 L131.15,215.13 L131.57,214.59 L132.03,214.04 L132.50,213.50 L132.97,212.95 L133.42,212.41 L133.85,211.86 L134.23,211.31 L134.56,210.77 L134.83,210.22 L135.03,209.68 L135.17,209.13 L135.25,208.59 L135.28,208.04 L135.29,207.50Z" fill="url(#gR)"/>
<line x1="135.29" y1="224.80" x2="135.29" y2="229.60" stroke="#c8163a" stroke-width="0.9"/>
<path d="M142.51,229.30 Q146.08,228.91 148.01,228.00 Q149.94,228.91 153.51,229.30Z" fill="#7a1426"/>
<path d="M148.01,209.70 L148.01,210.26 L148.05,210.83 L148.12,211.39 L148.26,211.96 L148.45,212.52 L148.71,213.09 L149.03,213.66 L149.40,214.22 L149.81,214.78 L150.25,215.35 L150.70,215.91 L151.15,216.48 L151.59,217.04 L152.00,217.61 L152.38,218.18 L152.70,218.74 L152.96,219.31 L153.15,219.87 L153.27,220.44 L153.31,221.00 L153.30,221.25 L153.28,221.50 L153.25,221.75 L153.20,222.00 L153.14,222.25 L153.07,222.50 L152.97,222.75 L152.87,223.00 L152.74,223.25 L152.60,223.50 L152.44,223.75 L152.25,224.00 L152.04,224.25 L151.79,224.50 L151.52,224.75 L151.19,225.00 L150.80,225.25 L150.32,225.50 L149.66,225.75 L148.01,226.00 L148.01,226.00 L146.36,225.75 L145.70,225.50 L145.22,225.25 L144.83,225.00 L144.50,224.75 L144.23,224.50 L143.98,224.25 L143.77,224.00 L143.58,223.75 L143.42,223.50 L143.28,223.25 L143.15,223.00 L143.05,222.75 L142.95,222.50 L142.88,222.25 L142.82,222.00 L142.77,221.75 L142.74,221.50 L142.72,221.25 L142.71,221.00 L142.75,220.44 L142.87,219.87 L143.06,219.31 L143.32,218.74 L143.64,218.18 L144.02,217.61 L144.43,217.04 L144.87,216.48 L145.32,215.91 L145.77,215.35 L146.21,214.78 L146.62,214.22 L146.99,213.66 L147.31,213.09 L147.57,212.52 L147.76,211.96 L147.90,211.39 L147.97,210.83 L148.01,210.26 L148.01,209.70Z" fill="url(#gR)"/>
<line x1="148.01" y1="225.50" x2="148.01" y2="229.60" stroke="#c8163a" stroke-width="0.9"/>
<path d="M155.23,229.30 Q158.81,228.91 160.73,228.00 Q162.66,228.91 166.23,229.30Z" fill="#7a1426"/>
<path d="M160.73,211.00 L160.73,211.48 L160.76,211.96 L160.84,212.44 L160.96,212.92 L161.15,213.40 L161.39,213.88 L161.69,214.36 L162.04,214.84 L162.43,215.32 L162.84,215.80 L163.27,216.28 L163.69,216.76 L164.11,217.24 L164.50,217.72 L164.85,218.20 L165.15,218.68 L165.40,219.16 L165.58,219.64 L165.69,220.12 L165.73,220.60 L165.72,220.87 L165.70,221.14 L165.67,221.41 L165.63,221.68 L165.57,221.95 L165.50,222.22 L165.41,222.49 L165.31,222.76 L165.20,223.03 L165.06,223.30 L164.91,223.57 L164.73,223.84 L164.53,224.11 L164.30,224.38 L164.04,224.65 L163.73,224.92 L163.36,225.19 L162.91,225.46 L162.29,225.73 L160.73,226.00 L160.73,226.00 L159.17,225.73 L158.55,225.46 L158.10,225.19 L157.73,224.92 L157.42,224.65 L157.16,224.38 L156.93,224.11 L156.73,223.84 L156.55,223.57 L156.40,223.30 L156.26,223.03 L156.15,222.76 L156.05,222.49 L155.96,222.22 L155.89,221.95 L155.83,221.68 L155.79,221.41 L155.76,221.14 L155.74,220.87 L155.73,220.60 L155.77,220.12 L155.88,219.64 L156.06,219.16 L156.31,218.68 L156.61,218.20 L156.96,217.72 L157.35,217.24 L157.77,216.76 L158.19,216.28 L158.62,215.80 L159.03,215.32 L159.42,214.84 L159.77,214.36 L160.07,213.88 L160.31,213.40 L160.50,212.92 L160.62,212.44 L160.70,211.96 L160.73,211.48 L160.73,211.00Z" fill="url(#gR)"/>
<line x1="160.73" y1="225.50" x2="160.73" y2="229.60" stroke="#c8163a" stroke-width="0.9"/>
<path d="M167.95,229.30 Q171.52,228.91 173.45,228.00 Q175.38,228.91 178.95,229.30Z" fill="#7a1426"/>
<path d="M173.45,209.70 L173.46,210.26 L173.49,210.83 L173.57,211.39 L173.70,211.96 L173.90,212.52 L174.17,213.09 L174.49,213.66 L174.87,214.22 L175.28,214.78 L175.73,215.35 L176.19,215.91 L176.65,216.48 L177.10,217.04 L177.52,217.61 L177.90,218.18 L178.23,218.74 L178.49,219.31 L178.69,219.87 L178.81,220.44 L178.85,221.00 L178.84,221.25 L178.82,221.50 L178.79,221.75 L178.74,222.00 L178.68,222.25 L178.60,222.50 L178.51,222.75 L178.40,223.00 L178.27,223.25 L178.13,223.50 L177.96,223.75 L177.77,224.00 L177.55,224.25 L177.31,224.50 L177.02,224.75 L176.69,225.00 L176.29,225.25 L175.80,225.50 L175.14,225.75 L173.45,226.00 L173.45,226.00 L171.76,225.75 L171.10,225.50 L170.61,225.25 L170.21,225.00 L169.88,224.75 L169.59,224.50 L169.35,224.25 L169.13,224.00 L168.94,223.75 L168.77,223.50 L168.63,223.25 L168.50,223.00 L168.39,222.75 L168.30,222.50 L168.22,222.25 L168.16,222.00 L168.11,221.75 L168.08,221.50 L168.06,221.25 L168.05,221.00 L168.09,220.44 L168.21,219.87 L168.41,219.31 L168.67,218.74 L169.00,218.18 L169.38,217.61 L169.80,217.04 L170.25,216.48 L170.71,215.91 L171.17,215.35 L171.62,214.78 L172.03,214.22 L172.41,213.66 L172.73,213.09 L173.00,212.52 L173.20,211.96 L173.33,211.39 L173.41,210.83 L173.44,210.26 L173.45,209.70Z" fill="url(#gR)"/>
<line x1="173.45" y1="225.50" x2="173.45" y2="229.60" stroke="#c8163a" stroke-width="0.9"/>
<path d="M180.67,229.30 Q184.25,228.91 186.17,228.00 Q188.10,228.91 191.67,229.30Z" fill="#7a1426"/>
<path d="M186.17,213.00 L186.17,213.40 L186.20,213.80 L186.27,214.20 L186.39,214.60 L186.57,215.00 L186.81,215.40 L187.09,215.80 L187.43,216.20 L187.80,216.60 L188.20,217.00 L188.60,217.40 L189.01,217.80 L189.41,218.20 L189.79,218.60 L190.13,219.00 L190.42,219.40 L190.65,219.80 L190.83,220.20 L190.93,220.60 L190.97,221.00 L190.96,221.25 L190.95,221.50 L190.92,221.75 L190.87,222.00 L190.82,222.25 L190.75,222.50 L190.67,222.75 L190.57,223.00 L190.46,223.25 L190.33,223.50 L190.18,223.75 L190.01,224.00 L189.82,224.25 L189.60,224.50 L189.34,224.75 L189.05,225.00 L188.70,225.25 L188.26,225.50 L187.67,225.75 L186.17,226.00 L186.17,226.00 L184.67,225.75 L184.08,225.50 L183.64,225.25 L183.29,225.00 L183.00,224.75 L182.74,224.50 L182.52,224.25 L182.33,224.00 L182.16,223.75 L182.01,223.50 L181.88,223.25 L181.77,223.00 L181.67,222.75 L181.59,222.50 L181.52,222.25 L181.47,222.00 L181.42,221.75 L181.39,221.50 L181.38,221.25 L181.37,221.00 L181.41,220.60 L181.51,220.20 L181.69,219.80 L181.92,219.40 L182.21,219.00 L182.55,218.60 L182.93,218.20 L183.33,217.80 L183.74,217.40 L184.15,217.00 L184.54,216.60 L184.91,216.20 L185.25,215.80 L185.53,215.40 L185.77,215.00 L185.95,214.60 L186.07,214.20 L186.14,213.80 L186.17,213.40 L186.17,213.00Z" fill="url(#gR)"/>
<line x1="186.17" y1="225.50" x2="186.17" y2="229.60" stroke="#c8163a" stroke-width="0.9"/>
<path d="M193.39,229.30 Q196.97,228.91 198.89,228.00 Q200.82,228.91 204.39,229.30Z" fill="#7a1426"/>
<path d="M198.89,217.00 L198.89,217.28 L198.91,217.57 L198.94,217.85 L199.00,218.14 L199.08,218.43 L199.20,218.71 L199.33,219.00 L199.49,219.28 L199.67,219.56 L199.86,219.85 L200.06,220.13 L200.25,220.42 L200.44,220.70 L200.62,220.99 L200.79,221.27 L200.92,221.56 L201.04,221.84 L201.12,222.13 L201.17,222.41 L201.19,222.70 L201.19,222.89 L201.18,223.08 L201.16,223.27 L201.14,223.46 L201.12,223.65 L201.08,223.84 L201.04,224.03 L201.00,224.22 L200.94,224.41 L200.88,224.60 L200.81,224.79 L200.73,224.98 L200.64,225.17 L200.53,225.36 L200.41,225.55 L200.27,225.74 L200.10,225.93 L199.89,226.12 L199.61,226.31 L198.89,226.50 L198.89,226.50 L198.17,226.31 L197.89,226.12 L197.68,225.93 L197.51,225.74 L197.37,225.55 L197.25,225.36 L197.14,225.17 L197.05,224.98 L196.97,224.79 L196.90,224.60 L196.84,224.41 L196.78,224.22 L196.74,224.03 L196.70,223.84 L196.66,223.65 L196.64,223.46 L196.62,223.27 L196.60,223.08 L196.59,222.89 L196.59,222.70 L196.61,222.41 L196.66,222.13 L196.74,221.84 L196.86,221.56 L196.99,221.27 L197.16,220.99 L197.34,220.70 L197.53,220.42 L197.72,220.13 L197.92,219.85 L198.11,219.56 L198.29,219.28 L198.45,219.00 L198.58,218.71 L198.70,218.43 L198.78,218.14 L198.84,217.85 L198.87,217.57 L198.89,217.28 L198.89,217.00Z" fill="url(#gR)"/>
<line x1="198.89" y1="226.00" x2="198.89" y2="229.60" stroke="#c8163a" stroke-width="0.9"/>
<path d="M206.11,229.30 Q209.69,228.91 211.61,228.00 Q213.54,228.91 217.11,229.30Z" fill="#7a1426"/>
<path d="M211.61,209.50 L211.61,209.91 L211.64,210.33 L211.72,210.75 L211.84,211.16 L212.03,211.57 L212.27,211.99 L212.57,212.41 L212.92,212.82 L213.31,213.24 L213.72,213.65 L214.15,214.06 L214.57,214.48 L214.99,214.90 L215.38,215.31 L215.73,215.73 L216.03,216.14 L216.28,216.56 L216.46,216.97 L216.57,217.39 L216.61,217.80 L216.60,218.16 L216.58,218.52 L216.55,218.88 L216.51,219.24 L216.45,219.60 L216.38,219.96 L216.29,220.32 L216.19,220.68 L216.08,221.04 L215.94,221.40 L215.79,221.76 L215.61,222.12 L215.41,222.48 L215.18,222.84 L214.92,223.20 L214.61,223.56 L214.24,223.92 L213.79,224.28 L213.17,224.64 L211.61,225.00 L211.61,225.00 L210.05,224.64 L209.43,224.28 L208.98,223.92 L208.61,223.56 L208.30,223.20 L208.04,222.84 L207.81,222.48 L207.61,222.12 L207.43,221.76 L207.28,221.40 L207.14,221.04 L207.03,220.68 L206.93,220.32 L206.84,219.96 L206.77,219.60 L206.71,219.24 L206.67,218.88 L206.64,218.52 L206.62,218.16 L206.61,217.80 L206.65,217.39 L206.76,216.97 L206.94,216.56 L207.19,216.14 L207.49,215.73 L207.84,215.31 L208.23,214.90 L208.65,214.48 L209.07,214.06 L209.50,213.65 L209.91,213.24 L210.30,212.82 L210.65,212.41 L210.95,211.99 L211.19,211.57 L211.38,211.16 L211.50,210.75 L211.58,210.33 L211.61,209.91 L211.61,209.50Z" fill="url(#gR)"/>
<line x1="211.61" y1="224.50" x2="211.61" y2="229.60" stroke="#c8163a" stroke-width="0.9"/>
<path d="M218.83,229.30 Q222.41,228.91 224.33,228.00 Q226.26,228.91 229.83,229.30Z" fill="#7a1426"/>
<path d="M224.33,210.00 L224.33,210.44 L224.36,210.87 L224.44,211.31 L224.56,211.74 L224.75,212.18 L224.99,212.61 L225.29,213.04 L225.64,213.48 L226.03,213.91 L226.44,214.35 L226.87,214.78 L227.29,215.22 L227.71,215.66 L228.10,216.09 L228.45,216.52 L228.75,216.96 L229.00,217.39 L229.18,217.83 L229.29,218.26 L229.33,218.70 L229.32,219.04 L229.30,219.38 L229.27,219.72 L229.23,220.06 L229.17,220.40 L229.10,220.74 L229.01,221.08 L228.91,221.42 L228.80,221.76 L228.66,222.10 L228.51,222.44 L228.33,222.78 L228.13,223.12 L227.90,223.46 L227.64,223.80 L227.33,224.14 L226.96,224.48 L226.51,224.82 L225.89,225.16 L224.33,225.50 L224.33,225.50 L222.77,225.16 L222.15,224.82 L221.70,224.48 L221.33,224.14 L221.02,223.80 L220.76,223.46 L220.53,223.12 L220.33,222.78 L220.15,222.44 L220.00,222.10 L219.86,221.76 L219.75,221.42 L219.65,221.08 L219.56,220.74 L219.49,220.40 L219.43,220.06 L219.39,219.72 L219.36,219.38 L219.34,219.04 L219.33,218.70 L219.37,218.26 L219.48,217.83 L219.66,217.39 L219.91,216.96 L220.21,216.52 L220.56,216.09 L220.95,215.66 L221.37,215.22 L221.79,214.78 L222.22,214.35 L222.63,213.91 L223.02,213.48 L223.37,213.04 L223.67,212.61 L223.91,212.18 L224.10,211.74 L224.22,211.31 L224.30,210.87 L224.33,210.44 L224.33,210.00Z" fill="url(#gR)"/>
<line x1="224.33" y1="225.00" x2="224.33" y2="229.60" stroke="#c8163a" stroke-width="0.9"/>
<path d="M231.55,229.30 Q235.12,228.91 237.05,228.00 Q238.98,228.91 242.55,229.30Z" fill="#7a1426"/>
<path d="M237.05,209.60 L237.05,210.24 L237.08,210.88 L237.15,211.52 L237.27,212.16 L237.45,212.80 L237.69,213.44 L237.97,214.08 L238.31,214.72 L238.68,215.36 L239.08,216.00 L239.48,216.64 L239.89,217.28 L240.29,217.92 L240.67,218.56 L241.01,219.20 L241.30,219.84 L241.53,220.48 L241.71,221.12 L241.81,221.76 L241.85,222.40 L241.84,222.61 L241.83,222.81 L241.80,223.02 L241.75,223.22 L241.70,223.43 L241.63,223.63 L241.55,223.84 L241.45,224.04 L241.34,224.25 L241.21,224.45 L241.06,224.66 L240.89,224.86 L240.70,225.06 L240.48,225.27 L240.22,225.47 L239.93,225.68 L239.58,225.88 L239.14,226.09 L238.55,226.29 L237.05,226.50 L237.05,226.50 L235.55,226.29 L234.96,226.09 L234.52,225.88 L234.17,225.68 L233.88,225.47 L233.62,225.27 L233.40,225.06 L233.21,224.86 L233.04,224.66 L232.89,224.45 L232.76,224.25 L232.65,224.04 L232.55,223.84 L232.47,223.63 L232.40,223.43 L232.35,223.22 L232.30,223.02 L232.27,222.81 L232.26,222.61 L232.25,222.40 L232.29,221.76 L232.39,221.12 L232.57,220.48 L232.80,219.84 L233.09,219.20 L233.43,218.56 L233.81,217.92 L234.21,217.28 L234.62,216.64 L235.03,216.00 L235.42,215.36 L235.79,214.72 L236.13,214.08 L236.41,213.44 L236.65,212.80 L236.83,212.16 L236.95,211.52 L237.02,210.88 L237.05,210.24 L237.05,209.60Z" fill="url(#gR)"/>
<line x1="237.05" y1="226.00" x2="237.05" y2="229.60" stroke="#c8163a" stroke-width="0.9"/>
<path d="M244.27,229.30 Q247.84,228.91 249.77,228.00 Q251.70,228.91 255.27,229.30Z" fill="#7a1426"/>
<path d="M249.77,209.00 L249.77,209.53 L249.81,210.07 L249.88,210.60 L250.01,211.14 L250.21,211.68 L250.46,212.21 L250.77,212.75 L251.13,213.28 L251.53,213.81 L251.96,214.35 L252.41,214.88 L252.85,215.42 L253.28,215.95 L253.69,216.49 L254.05,217.02 L254.37,217.56 L254.63,218.09 L254.82,218.63 L254.93,219.16 L254.97,219.70 L254.96,220.01 L254.94,220.33 L254.91,220.64 L254.86,220.96 L254.80,221.27 L254.73,221.59 L254.64,221.91 L254.54,222.22 L254.41,222.53 L254.27,222.85 L254.11,223.16 L253.93,223.48 L253.72,223.79 L253.48,224.11 L253.21,224.43 L252.89,224.74 L252.51,225.06 L252.04,225.37 L251.39,225.69 L249.77,226.00 L249.77,226.00 L248.15,225.69 L247.50,225.37 L247.03,225.06 L246.65,224.74 L246.33,224.43 L246.06,224.11 L245.82,223.79 L245.61,223.48 L245.43,223.16 L245.27,222.85 L245.13,222.53 L245.00,222.22 L244.90,221.91 L244.81,221.59 L244.74,221.27 L244.68,220.96 L244.63,220.64 L244.60,220.33 L244.58,220.01 L244.57,219.70 L244.61,219.16 L244.72,218.63 L244.91,218.09 L245.17,217.56 L245.49,217.02 L245.85,216.49 L246.26,215.95 L246.69,215.42 L247.13,214.88 L247.58,214.35 L248.01,213.81 L248.41,213.28 L248.77,212.75 L249.08,212.21 L249.33,211.68 L249.53,211.14 L249.66,210.60 L249.73,210.07 L249.77,209.53 L249.77,209.00Z" fill="url(#gR)"/>
<line x1="249.77" y1="225.50" x2="249.77" y2="229.60" stroke="#c8163a" stroke-width="0.9"/>
<path d="M256.99,229.30 Q260.56,228.91 262.49,228.00 Q264.42,228.91 267.99,229.30Z" fill="#7a1426"/>
<path d="M262.49,214.00 L262.49,214.40 L262.51,214.80 L262.56,215.20 L262.65,215.60 L262.78,216.00 L262.95,216.40 L263.16,216.80 L263.41,217.20 L263.68,217.60 L263.97,218.00 L264.27,218.40 L264.56,218.80 L264.85,219.20 L265.13,219.60 L265.37,220.00 L265.59,220.40 L265.76,220.80 L265.89,221.20 L265.96,221.60 L265.99,222.00 L265.99,222.22 L265.97,222.45 L265.95,222.68 L265.92,222.90 L265.88,223.12 L265.83,223.35 L265.77,223.57 L265.70,223.80 L265.62,224.03 L265.52,224.25 L265.41,224.47 L265.29,224.70 L265.15,224.93 L264.99,225.15 L264.81,225.38 L264.59,225.60 L264.33,225.82 L264.02,226.05 L263.58,226.28 L262.49,226.50 L262.49,226.50 L261.40,226.28 L260.96,226.05 L260.65,225.82 L260.39,225.60 L260.17,225.38 L259.99,225.15 L259.83,224.93 L259.69,224.70 L259.57,224.47 L259.46,224.25 L259.36,224.03 L259.28,223.80 L259.21,223.57 L259.15,223.35 L259.10,223.12 L259.06,222.90 L259.03,222.68 L259.01,222.45 L258.99,222.22 L258.99,222.00 L259.02,221.60 L259.09,221.20 L259.22,220.80 L259.39,220.40 L259.61,220.00 L259.85,219.60 L260.13,219.20 L260.42,218.80 L260.71,218.40 L261.01,218.00 L261.30,217.60 L261.57,217.20 L261.82,216.80 L262.03,216.40 L262.20,216.00 L262.33,215.60 L262.42,215.20 L262.47,214.80 L262.49,214.40 L262.49,214.00Z" fill="url(#gR)"/>
<line x1="262.49" y1="226.00" x2="262.49" y2="229.60" stroke="#c8163a" stroke-width="0.9"/>
<path d="M269.71,229.30 Q273.29,228.91 275.21,228.00 Q277.14,228.91 280.71,229.30Z" fill="#7a1426"/>
<path d="M275.21,215.00 L275.21,215.37 L275.24,215.74 L275.30,216.11 L275.42,216.48 L275.58,216.85 L275.79,217.22 L276.06,217.59 L276.36,217.96 L276.70,218.33 L277.07,218.70 L277.44,219.07 L277.82,219.44 L278.18,219.81 L278.53,220.18 L278.84,220.55 L279.10,220.92 L279.32,221.29 L279.48,221.66 L279.58,222.03 L279.61,222.40 L279.60,222.61 L279.59,222.81 L279.56,223.02 L279.52,223.22 L279.47,223.43 L279.41,223.63 L279.33,223.84 L279.24,224.04 L279.14,224.25 L279.02,224.45 L278.88,224.66 L278.73,224.86 L278.55,225.06 L278.35,225.27 L278.12,225.47 L277.85,225.68 L277.53,225.88 L277.13,226.09 L276.58,226.29 L275.21,226.50 L275.21,226.50 L273.84,226.29 L273.29,226.09 L272.89,225.88 L272.57,225.68 L272.30,225.47 L272.07,225.27 L271.87,225.06 L271.69,224.86 L271.54,224.66 L271.40,224.45 L271.28,224.25 L271.18,224.04 L271.09,223.84 L271.01,223.63 L270.95,223.43 L270.90,223.22 L270.86,223.02 L270.83,222.81 L270.82,222.61 L270.81,222.40 L270.84,222.03 L270.94,221.66 L271.10,221.29 L271.32,220.92 L271.58,220.55 L271.89,220.18 L272.24,219.81 L272.60,219.44 L272.98,219.07 L273.35,218.70 L273.72,218.33 L274.06,217.96 L274.36,217.59 L274.63,217.22 L274.84,216.85 L275.00,216.48 L275.12,216.11 L275.18,215.74 L275.21,215.37 L275.21,215.00Z" fill="url(#gR)"/>
<line x1="275.21" y1="226.00" x2="275.21" y2="229.60" stroke="#c8163a" stroke-width="0.9"/>
<path d="M282.43,229.30 Q286.00,228.91 287.93,228.00 Q289.86,228.91 293.43,229.30Z" fill="#7a1426"/>
<path d="M287.93,215.00 L287.93,215.37 L287.94,215.74 L287.96,216.11 L287.99,216.48 L288.04,216.85 L288.10,217.22 L288.18,217.59 L288.27,217.96 L288.37,218.33 L288.48,218.70 L288.59,219.07 L288.70,219.44 L288.81,219.81 L288.91,220.18 L289.00,220.55 L289.08,220.92 L289.14,221.29 L289.19,221.66 L289.22,222.03 L289.23,222.40 L289.23,222.61 L289.22,222.81 L289.22,223.02 L289.20,223.22 L289.19,223.43 L289.17,223.63 L289.15,223.84 L289.12,224.04 L289.09,224.25 L289.06,224.45 L289.02,224.66 L288.97,224.86 L288.92,225.06 L288.86,225.27 L288.79,225.47 L288.71,225.68 L288.61,225.88 L288.50,226.09 L288.34,226.29 L287.93,226.50 L287.93,226.50 L287.52,226.29 L287.36,226.09 L287.25,225.88 L287.15,225.68 L287.07,225.47 L287.00,225.27 L286.94,225.06 L286.89,224.86 L286.84,224.66 L286.80,224.45 L286.77,224.25 L286.74,224.04 L286.71,223.84 L286.69,223.63 L286.67,223.43 L286.66,223.22 L286.64,223.02 L286.64,222.81 L286.63,222.61 L286.63,222.40 L286.64,222.03 L286.67,221.66 L286.72,221.29 L286.78,220.92 L286.86,220.55 L286.95,220.18 L287.05,219.81 L287.16,219.44 L287.27,219.07 L287.38,218.70 L287.49,218.33 L287.59,217.96 L287.68,217.59 L287.76,217.22 L287.82,216.85 L287.87,216.48 L287.90,216.11 L287.92,215.74 L287.93,215.37 L287.93,215.00Z" fill="url(#gR)"/>
<line x1="287.93" y1="226.00" x2="287.93" y2="229.60" stroke="#c8163a" stroke-width="0.9"/>
<line x1="38.80" y1="202.40" x2="38.80" y2="230.10" stroke="#222" stroke-width="1.0"/>
<line x1="38.30" y1="229.60" x2="296.50" y2="229.60" stroke="#222" stroke-width="1.1"/>
<line x1="36.60" y1="228.20" x2="38.80" y2="228.20" stroke="#222" stroke-width="0.8"/>
<line x1="36.60" y1="223.70" x2="38.80" y2="223.70" stroke="#222" stroke-width="0.8"/>
<line x1="36.60" y1="219.20" x2="38.80" y2="219.20" stroke="#222" stroke-width="0.8"/>
<line x1="36.60" y1="214.70" x2="38.80" y2="214.70" stroke="#222" stroke-width="0.8"/>
<line x1="36.60" y1="210.20" x2="38.80" y2="210.20" stroke="#222" stroke-width="0.8"/>
<line x1="36.60" y1="205.70" x2="38.80" y2="205.70" stroke="#222" stroke-width="0.8"/>
<text x="33.30" y="230.50" font-size="6.6" text-anchor="end">0</text>
<text x="33.30" y="221.50" font-size="6.6" text-anchor="end">2</text>
<text x="33.30" y="212.50" font-size="6.6" text-anchor="end">4</text>
<line x1="46.25" y1="229.60" x2="46.25" y2="231.80" stroke="#222" stroke-width="0.8"/>
<line x1="58.97" y1="229.60" x2="58.97" y2="231.80" stroke="#222" stroke-width="0.8"/>
<line x1="71.69" y1="229.60" x2="71.69" y2="231.80" stroke="#222" stroke-width="0.8"/>
<line x1="84.41" y1="229.60" x2="84.41" y2="231.80" stroke="#222" stroke-width="0.8"/>
<line x1="97.13" y1="229.60" x2="97.13" y2="231.80" stroke="#222" stroke-width="0.8"/>
<line x1="109.85" y1="229.60" x2="109.85" y2="231.80" stroke="#222" stroke-width="0.8"/>
<line x1="122.57" y1="229.60" x2="122.57" y2="231.80" stroke="#222" stroke-width="0.8"/>
<line x1="135.29" y1="229.60" x2="135.29" y2="231.80" stroke="#222" stroke-width="0.8"/>
<line x1="148.01" y1="229.60" x2="148.01" y2="231.80" stroke="#222" stroke-width="0.8"/>
<line x1="160.73" y1="229.60" x2="160.73" y2="231.80" stroke="#222" stroke-width="0.8"/>
<line x1="173.45" y1="229.60" x2="173.45" y2="231.80" stroke="#222" stroke-width="0.8"/>
<line x1="186.17" y1="229.60" x2="186.17" y2="231.80" stroke="#222" stroke-width="0.8"/>
<line x1="198.89" y1="229.60" x2="198.89" y2="231.80" stroke="#222" stroke-width="0.8"/>
<line x1="211.61" y1="229.60" x2="211.61" y2="231.80" stroke="#222" stroke-width="0.8"/>
<line x1="224.33" y1="229.60" x2="224.33" y2="231.80" stroke="#222" stroke-width="0.8"/>
<line x1="237.05" y1="229.60" x2="237.05" y2="231.80" stroke="#222" stroke-width="0.8"/>
<line x1="249.77" y1="229.60" x2="249.77" y2="231.80" stroke="#222" stroke-width="0.8"/>
<line x1="262.49" y1="229.60" x2="262.49" y2="231.80" stroke="#222" stroke-width="0.8"/>
<line x1="275.21" y1="229.60" x2="275.21" y2="231.80" stroke="#222" stroke-width="0.8"/>
<line x1="287.93" y1="229.60" x2="287.93" y2="231.80" stroke="#222" stroke-width="0.8"/>
<text x="157.80" y="199.00" font-size="8.4" textLength="13.20" lengthAdjust="spacingAndGlyphs">REL</text>
<text x="22.60" y="216.50" font-size="8.2" text-anchor="middle" textLength="48.50" lengthAdjust="spacingAndGlyphs" transform="rotate(-90 22.60 216.50)">Expression level</text>
<text x="48.85" y="236.40" font-size="7.2" text-anchor="end" textLength="14.40" lengthAdjust="spacingAndGlyphs" transform="rotate(-90 48.85 236.40)">CLL3</text>
<text x="61.57" y="236.40" font-size="7.2" text-anchor="end" textLength="14.40" lengthAdjust="spacingAndGlyphs" transform="rotate(-90 61.57 236.40)">CLL6</text>
<text x="74.29" y="236.40" font-size="7.2" text-anchor="end" textLength="14.40" lengthAdjust="spacingAndGlyphs" transform="rotate(-90 74.29 236.40)">CLL7</text>
<text x="87.01" y="236.40" font-size="7.2" text-anchor="end" textLength="18.00" lengthAdjust="spacingAndGlyphs" transform="rotate(-90 87.01 236.40)">CLL16</text>
<text x="99.73" y="236.40" font-size="7.2" text-anchor="end" textLength="18.00" lengthAdjust="spacingAndGlyphs" transform="rotate(-90 99.73 236.40)">CLL23</text>
<text x="112.45" y="236.40" font-size="7.2" text-anchor="end" textLength="18.00" lengthAdjust="spacingAndGlyphs" transform="rotate(-90 112.45 236.40)">CLL26</text>
<text x="125.17" y="236.40" font-size="7.2" text-anchor="end" textLength="18.00" lengthAdjust="spacingAndGlyphs" transform="rotate(-90 125.17 236.40)">CLL93</text>
<text x="137.89" y="236.40" font-size="7.2" text-anchor="end" textLength="14.40" lengthAdjust="spacingAndGlyphs" transform="rotate(-90 137.89 236.40)">CLL2</text>
<text x="150.61" y="236.40" font-size="7.2" text-anchor="end" textLength="14.40" lengthAdjust="spacingAndGlyphs" transform="rotate(-90 150.61 236.40)">CLL3</text>
<text x="163.33" y="236.40" font-size="7.2" text-anchor="end" textLength="14.40" lengthAdjust="spacingAndGlyphs" transform="rotate(-90 163.33 236.40)">CLL5</text>
<text x="176.05" y="236.40" font-size="7.2" text-anchor="end" textLength="14.40" lengthAdjust="spacingAndGlyphs" transform="rotate(-90 176.05 236.40)">CLL6</text>
<text x="188.77" y="236.40" font-size="7.2" text-anchor="end" textLength="14.40" lengthAdjust="spacingAndGlyphs" transform="rotate(-90 188.77 236.40)">CLL7</text>
<text x="201.49" y="236.40" font-size="7.2" text-anchor="end" textLength="14.40" lengthAdjust="spacingAndGlyphs" transform="rotate(-90 201.49 236.40)">CLL9</text>
<text x="214.21" y="236.40" font-size="7.2" text-anchor="end" textLength="18.00" lengthAdjust="spacingAndGlyphs" transform="rotate(-90 214.21 236.40)">CLL12</text>
<text x="226.93" y="236.40" font-size="7.2" text-anchor="end" textLength="18.00" lengthAdjust="spacingAndGlyphs" transform="rotate(-90 226.93 236.40)">CLL16</text>
<text x="239.65" y="236.40" font-size="7.2" text-anchor="end" textLength="18.00" lengthAdjust="spacingAndGlyphs" transform="rotate(-90 239.65 236.40)">CLL17</text>
<text x="252.37" y="236.40" font-size="7.2" text-anchor="end" textLength="18.00" lengthAdjust="spacingAndGlyphs" transform="rotate(-90 252.37 236.40)">CLL23</text>
<text x="265.09" y="236.40" font-size="7.2" text-anchor="end" textLength="18.00" lengthAdjust="spacingAndGlyphs" transform="rotate(-90 265.09 236.40)">CLL93</text>
<text x="277.81" y="236.40" font-size="7.2" text-anchor="end" textLength="18.00" lengthAdjust="spacingAndGlyphs" transform="rotate(-90 277.81 236.40)">CLL95</text>
<text x="290.53" y="236.40" font-size="7.2" text-anchor="end" textLength="18.00" lengthAdjust="spacingAndGlyphs" transform="rotate(-90 290.53 236.40)">CLL26</text>
<line x1="44.50" y1="257.80" x2="129.20" y2="257.80" stroke="#5a82aa" stroke-width="1.4"/>
<line x1="133.00" y1="257.80" x2="276.10" y2="257.80" stroke="#c0627a" stroke-width="1.4"/>
<line x1="279.80" y1="257.80" x2="294.20" y2="257.80" stroke="#f2b865" stroke-width="1.4"/>
<text x="88.00" y="267.60" font-size="8.7" text-anchor="middle" textLength="56.80" lengthAdjust="spacingAndGlyphs">Screening samples</text>
<text x="204.50" y="267.60" font-size="8.7" text-anchor="middle" textLength="55.20" lengthAdjust="spacingAndGlyphs">Relapsed samples</text>
<text x="286.70" y="267.60" font-size="8.7" text-anchor="middle" textLength="22.80" lengthAdjust="spacingAndGlyphs">Off VEN</text>
<text x="286.80" y="277.90" font-size="8.7" text-anchor="middle" textLength="35.60" lengthAdjust="spacingAndGlyphs">progression</text>
<path d="M39.75,325.50 Q43.98,324.96 46.25,323.70 Q48.52,324.96 52.75,325.50Z" fill="#1c4f7e"/>
<line x1="46.25" y1="303.10" x2="46.25" y2="325.80" stroke="#2f6a9c" stroke-width="1.2"/>
<path d="M54.47,325.50 Q57.39,325.23 58.97,324.60 Q60.55,325.23 63.47,325.50Z" fill="#1c4f7e"/>
<line x1="58.97" y1="305.90" x2="58.97" y2="325.80" stroke="#9a9a9a" stroke-width="0.8"/>
<path d="M65.19,325.50 Q69.41,324.96 71.69,323.70 Q73.97,324.96 78.19,325.50Z" fill="#1c4f7e"/>
<line x1="71.69" y1="303.80" x2="71.69" y2="325.80" stroke="#2f6a9c" stroke-width="1.2"/>
<path d="M79.91,325.50 Q82.83,325.23 84.41,324.60 Q85.98,325.23 88.91,325.50Z" fill="#1c4f7e"/>
<line x1="84.41" y1="308.00" x2="84.41" y2="325.80" stroke="#a0a0a0" stroke-width="0.8"/>
<path d="M92.63,325.50 Q95.55,325.23 97.13,324.60 Q98.70,325.23 101.63,325.50Z" fill="#1c4f7e"/>
<line x1="97.13" y1="306.90" x2="97.13" y2="325.80" stroke="#2f6a9c" stroke-width="1.2"/>
<path d="M105.35,325.50 Q108.27,325.23 109.85,324.60 Q111.42,325.23 114.35,325.50Z" fill="#1c4f7e"/>
<line x1="109.85" y1="307.30" x2="109.85" y2="325.80" stroke="#2f6a9c" stroke-width="1.2"/>
<path d="M118.07,325.50 Q121.00,325.23 122.57,324.60 Q124.15,325.23 127.07,325.50Z" fill="#1c4f7e"/>
<line x1="122.57" y1="310.10" x2="122.57" y2="325.80" stroke="#a8a8a8" stroke-width="0.8"/>
<path d="M71.69,311.50 L71.78,311.72 L71.88,311.94 L71.97,312.16 L72.06,312.39 L72.15,312.61 L72.25,312.83 L72.34,313.05 L72.43,313.27 L72.53,313.49 L72.62,313.71 L72.71,313.94 L72.80,314.16 L72.90,314.38 L72.99,314.60 L72.90,314.81 L72.80,315.01 L72.71,315.22 L72.62,315.43 L72.53,315.64 L72.43,315.84 L72.34,316.05 L72.25,316.26 L72.15,316.46 L72.06,316.67 L71.97,316.88 L71.88,317.09 L71.78,317.29 L71.69,317.50 L71.69,317.50 L71.60,317.29 L71.50,317.09 L71.41,316.88 L71.32,316.67 L71.23,316.46 L71.13,316.26 L71.04,316.05 L70.95,315.84 L70.85,315.64 L70.76,315.43 L70.67,315.22 L70.58,315.01 L70.48,314.81 L70.39,314.60 L70.48,314.38 L70.58,314.16 L70.67,313.94 L70.76,313.71 L70.85,313.49 L70.95,313.27 L71.04,313.05 L71.13,312.83 L71.23,312.61 L71.32,312.39 L71.41,312.16 L71.50,311.94 L71.60,311.72 L71.69,311.50Z" fill="#1c4f7e"/>
<path d="M129.79,325.50 Q133.37,325.05 135.29,324.00 Q137.22,325.05 140.79,325.50Z" fill="#6a1020"/>
<path d="M135.29,307.00 L135.29,307.57 L135.32,308.14 L135.40,308.71 L135.52,309.28 L135.71,309.85 L135.95,310.42 L136.25,310.99 L136.60,311.56 L136.99,312.13 L137.40,312.70 L137.83,313.27 L138.25,313.84 L138.67,314.41 L139.06,314.98 L139.41,315.55 L139.71,316.12 L139.96,316.69 L140.14,317.26 L140.25,317.83 L140.29,318.40 L140.28,318.61 L140.26,318.83 L140.23,319.04 L140.19,319.26 L140.13,319.47 L140.06,319.69 L139.97,319.90 L139.87,320.12 L139.76,320.33 L139.62,320.55 L139.47,320.76 L139.29,320.98 L139.09,321.19 L138.86,321.41 L138.60,321.62 L138.29,321.84 L137.92,322.06 L137.47,322.27 L136.85,322.49 L135.29,322.70 L135.29,322.70 L133.73,322.49 L133.11,322.27 L132.66,322.06 L132.29,321.84 L131.98,321.62 L131.72,321.41 L131.49,321.19 L131.29,320.98 L131.11,320.76 L130.96,320.55 L130.82,320.33 L130.71,320.12 L130.61,319.90 L130.52,319.69 L130.45,319.47 L130.39,319.26 L130.35,319.04 L130.32,318.83 L130.30,318.61 L130.29,318.40 L130.33,317.83 L130.44,317.26 L130.62,316.69 L130.87,316.12 L131.17,315.55 L131.52,314.98 L131.91,314.41 L132.33,313.84 L132.75,313.27 L133.18,312.70 L133.59,312.13 L133.98,311.56 L134.33,310.99 L134.63,310.42 L134.87,309.85 L135.06,309.28 L135.18,308.71 L135.26,308.14 L135.29,307.57 L135.29,307.00Z" fill="url(#gR)"/>
<line x1="135.29" y1="322.20" x2="135.29" y2="325.80" stroke="#c8163a" stroke-width="0.9"/>
<path d="M142.51,325.50 Q146.08,325.05 148.01,324.00 Q149.94,325.05 153.51,325.50Z" fill="#6a1020"/>
<path d="M148.01,309.50 L148.01,310.02 L148.04,310.55 L148.09,311.07 L148.19,311.60 L148.33,312.12 L148.51,312.65 L148.74,313.18 L149.01,313.70 L149.30,314.23 L149.61,314.75 L149.94,315.27 L150.26,315.80 L150.58,316.32 L150.87,316.85 L151.14,317.38 L151.37,317.90 L151.56,318.43 L151.70,318.95 L151.78,319.48 L151.81,320.00 L151.81,320.15 L151.79,320.30 L151.77,320.45 L151.73,320.60 L151.69,320.75 L151.63,320.90 L151.57,321.05 L151.49,321.20 L151.40,321.35 L151.30,321.50 L151.18,321.65 L151.05,321.80 L150.90,321.95 L150.72,322.10 L150.52,322.25 L150.29,322.40 L150.01,322.55 L149.67,322.70 L149.20,322.85 L148.01,323.00 L148.01,323.00 L146.82,322.85 L146.35,322.70 L146.01,322.55 L145.73,322.40 L145.50,322.25 L145.30,322.10 L145.12,321.95 L144.97,321.80 L144.84,321.65 L144.72,321.50 L144.62,321.35 L144.53,321.20 L144.45,321.05 L144.39,320.90 L144.33,320.75 L144.29,320.60 L144.25,320.45 L144.23,320.30 L144.21,320.15 L144.21,320.00 L144.24,319.48 L144.32,318.95 L144.46,318.43 L144.65,317.90 L144.88,317.38 L145.15,316.85 L145.44,316.32 L145.76,315.80 L146.08,315.27 L146.41,314.75 L146.72,314.23 L147.01,313.70 L147.28,313.18 L147.51,312.65 L147.69,312.12 L147.83,311.60 L147.93,311.07 L147.98,310.55 L148.01,310.02 L148.01,309.50Z" fill="url(#gR)"/>
<line x1="148.01" y1="322.50" x2="148.01" y2="325.80" stroke="#c8163a" stroke-width="0.9"/>
<path d="M155.23,325.50 Q158.81,325.05 160.73,324.00 Q162.66,325.05 166.23,325.50Z" fill="#6a1020"/>
<path d="M160.73,308.50 L160.73,309.04 L160.75,309.57 L160.79,310.11 L160.86,310.64 L160.96,311.18 L161.10,311.71 L161.27,312.25 L161.46,312.78 L161.68,313.31 L161.91,313.85 L162.15,314.38 L162.39,314.92 L162.62,315.45 L162.84,315.99 L163.04,316.52 L163.21,317.06 L163.35,317.59 L163.45,318.13 L163.51,318.66 L163.53,319.20 L163.53,319.39 L163.52,319.58 L163.50,319.77 L163.47,319.96 L163.44,320.15 L163.40,320.34 L163.35,320.53 L163.30,320.72 L163.23,320.91 L163.15,321.10 L163.07,321.29 L162.97,321.48 L162.86,321.67 L162.73,321.86 L162.58,322.05 L162.41,322.24 L162.20,322.43 L161.95,322.62 L161.60,322.81 L160.73,323.00 L160.73,323.00 L159.86,322.81 L159.51,322.62 L159.26,322.43 L159.05,322.24 L158.88,322.05 L158.73,321.86 L158.60,321.67 L158.49,321.48 L158.39,321.29 L158.31,321.10 L158.23,320.91 L158.16,320.72 L158.11,320.53 L158.06,320.34 L158.02,320.15 L157.99,319.96 L157.96,319.77 L157.94,319.58 L157.93,319.39 L157.93,319.20 L157.95,318.66 L158.01,318.13 L158.11,317.59 L158.25,317.06 L158.42,316.52 L158.62,315.99 L158.84,315.45 L159.07,314.92 L159.31,314.38 L159.55,313.85 L159.78,313.31 L160.00,312.78 L160.19,312.25 L160.36,311.71 L160.50,311.18 L160.60,310.64 L160.67,310.11 L160.71,309.57 L160.73,309.04 L160.73,308.50Z" fill="url(#gR)"/>
<line x1="160.73" y1="322.50" x2="160.73" y2="325.80" stroke="#c8163a" stroke-width="0.9"/>
<path d="M167.95,325.50 Q171.52,325.05 173.45,324.00 Q175.38,325.05 178.95,325.50Z" fill="#6a1020"/>
<path d="M173.45,307.00 L173.45,307.65 L173.47,308.30 L173.50,308.95 L173.57,309.60 L173.66,310.25 L173.78,310.90 L173.93,311.55 L174.11,312.20 L174.30,312.85 L174.50,313.50 L174.72,314.15 L174.93,314.80 L175.14,315.45 L175.33,316.10 L175.51,316.75 L175.66,317.40 L175.79,318.05 L175.88,318.70 L175.93,319.35 L175.95,320.00 L175.95,320.15 L175.94,320.30 L175.92,320.45 L175.90,320.60 L175.87,320.75 L175.83,320.90 L175.79,321.05 L175.74,321.20 L175.68,321.35 L175.62,321.50 L175.54,321.65 L175.45,321.80 L175.35,321.95 L175.24,322.10 L175.10,322.25 L174.95,322.40 L174.77,322.55 L174.54,322.70 L174.23,322.85 L173.45,323.00 L173.45,323.00 L172.67,322.85 L172.36,322.70 L172.13,322.55 L171.95,322.40 L171.80,322.25 L171.66,322.10 L171.55,321.95 L171.45,321.80 L171.36,321.65 L171.28,321.50 L171.22,321.35 L171.16,321.20 L171.11,321.05 L171.07,320.90 L171.03,320.75 L171.00,320.60 L170.98,320.45 L170.96,320.30 L170.95,320.15 L170.95,320.00 L170.97,319.35 L171.02,318.70 L171.11,318.05 L171.24,317.40 L171.39,316.75 L171.57,316.10 L171.76,315.45 L171.97,314.80 L172.18,314.15 L172.40,313.50 L172.60,312.85 L172.79,312.20 L172.97,311.55 L173.12,310.90 L173.24,310.25 L173.33,309.60 L173.40,308.95 L173.43,308.30 L173.45,307.65 L173.45,307.00Z" fill="url(#gR)"/>
<line x1="173.45" y1="322.50" x2="173.45" y2="325.80" stroke="#c8163a" stroke-width="0.9"/>
<path d="M180.67,325.50 Q184.25,325.05 186.17,324.00 Q188.10,325.05 191.67,325.50Z" fill="#6a1020"/>
<path d="M186.17,309.50 L186.17,309.99 L186.19,310.47 L186.24,310.95 L186.32,311.44 L186.44,311.93 L186.59,312.41 L186.79,312.89 L187.01,313.38 L187.26,313.87 L187.52,314.35 L187.79,314.83 L188.07,315.32 L188.33,315.81 L188.58,316.29 L188.81,316.77 L189.00,317.26 L189.16,317.75 L189.27,318.23 L189.35,318.71 L189.37,319.20 L189.37,319.39 L189.35,319.58 L189.33,319.77 L189.31,319.96 L189.27,320.15 L189.22,320.34 L189.17,320.53 L189.10,320.72 L189.03,320.91 L188.94,321.10 L188.84,321.29 L188.73,321.48 L188.60,321.67 L188.46,321.86 L188.29,322.05 L188.09,322.24 L187.86,322.43 L187.56,322.62 L187.17,322.81 L186.17,323.00 L186.17,323.00 L185.17,322.81 L184.78,322.62 L184.48,322.43 L184.25,322.24 L184.05,322.05 L183.88,321.86 L183.74,321.67 L183.61,321.48 L183.50,321.29 L183.40,321.10 L183.31,320.91 L183.24,320.72 L183.17,320.53 L183.12,320.34 L183.07,320.15 L183.03,319.96 L183.01,319.77 L182.99,319.58 L182.97,319.39 L182.97,319.20 L182.99,318.71 L183.07,318.23 L183.18,317.75 L183.34,317.26 L183.53,316.77 L183.76,316.29 L184.01,315.81 L184.27,315.32 L184.55,314.83 L184.82,314.35 L185.08,313.87 L185.33,313.38 L185.55,312.89 L185.75,312.41 L185.90,311.93 L186.02,311.44 L186.10,310.95 L186.15,310.47 L186.17,309.99 L186.17,309.50Z" fill="url(#gR)"/>
<line x1="186.17" y1="322.50" x2="186.17" y2="325.80" stroke="#c8163a" stroke-width="0.9"/>
<path d="M193.39,325.50 Q196.97,325.05 198.89,324.00 Q200.82,325.05 204.39,325.50Z" fill="#6a1020"/>
<path d="M198.89,313.00 L198.89,313.35 L198.90,313.70 L198.93,314.05 L198.97,314.40 L199.04,314.75 L199.13,315.10 L199.24,315.45 L199.36,315.80 L199.50,316.15 L199.65,316.50 L199.80,316.85 L199.96,317.20 L200.11,317.55 L200.25,317.90 L200.37,318.25 L200.48,318.60 L200.57,318.95 L200.64,319.30 L200.68,319.65 L200.69,320.00 L200.69,320.18 L200.68,320.35 L200.67,320.52 L200.65,320.70 L200.63,320.88 L200.61,321.05 L200.58,321.23 L200.54,321.40 L200.50,321.57 L200.45,321.75 L200.39,321.93 L200.33,322.10 L200.26,322.27 L200.18,322.45 L200.08,322.62 L199.97,322.80 L199.84,322.98 L199.67,323.15 L199.45,323.32 L198.89,323.50 L198.89,323.50 L198.33,323.32 L198.11,323.15 L197.94,322.98 L197.81,322.80 L197.70,322.62 L197.60,322.45 L197.52,322.27 L197.45,322.10 L197.39,321.93 L197.33,321.75 L197.28,321.57 L197.24,321.40 L197.20,321.23 L197.17,321.05 L197.15,320.88 L197.13,320.70 L197.11,320.52 L197.10,320.35 L197.09,320.18 L197.09,320.00 L197.10,319.65 L197.14,319.30 L197.21,318.95 L197.30,318.60 L197.41,318.25 L197.53,317.90 L197.67,317.55 L197.82,317.20 L197.98,316.85 L198.13,316.50 L198.28,316.15 L198.42,315.80 L198.54,315.45 L198.65,315.10 L198.74,314.75 L198.81,314.40 L198.85,314.05 L198.88,313.70 L198.89,313.35 L198.89,313.00Z" fill="url(#gR)"/>
<line x1="198.89" y1="323.00" x2="198.89" y2="325.80" stroke="#c8163a" stroke-width="0.9"/>
<path d="M206.11,325.50 Q209.69,325.05 211.61,324.00 Q213.54,325.05 217.11,325.50Z" fill="#6a1020"/>
<path d="M211.61,305.50 L211.61,306.16 L211.64,306.82 L211.71,307.48 L211.82,308.14 L212.00,308.80 L212.22,309.46 L212.50,310.12 L212.82,310.78 L213.17,311.44 L213.55,312.10 L213.94,312.76 L214.34,313.42 L214.72,314.08 L215.08,314.74 L215.40,315.40 L215.68,316.06 L215.91,316.72 L216.07,317.38 L216.18,318.04 L216.21,318.70 L216.20,318.87 L216.19,319.03 L216.16,319.19 L216.12,319.36 L216.06,319.52 L216.00,319.69 L215.92,319.86 L215.83,320.02 L215.72,320.19 L215.59,320.35 L215.45,320.51 L215.29,320.68 L215.11,320.84 L214.90,321.01 L214.65,321.18 L214.37,321.34 L214.03,321.50 L213.62,321.67 L213.05,321.83 L211.61,322.00 L211.61,322.00 L210.17,321.83 L209.60,321.67 L209.19,321.50 L208.85,321.34 L208.57,321.18 L208.32,321.01 L208.11,320.84 L207.93,320.68 L207.77,320.51 L207.63,320.35 L207.50,320.19 L207.39,320.02 L207.30,319.86 L207.22,319.69 L207.16,319.52 L207.10,319.36 L207.06,319.19 L207.03,319.03 L207.02,318.87 L207.01,318.70 L207.04,318.04 L207.15,317.38 L207.31,316.72 L207.54,316.06 L207.82,315.40 L208.14,314.74 L208.50,314.08 L208.88,313.42 L209.28,312.76 L209.67,312.10 L210.05,311.44 L210.40,310.78 L210.72,310.12 L211.00,309.46 L211.22,308.80 L211.40,308.14 L211.51,307.48 L211.58,306.82 L211.61,306.16 L211.61,305.50Z" fill="url(#gR)"/>
<line x1="211.61" y1="321.50" x2="211.61" y2="325.80" stroke="#c8163a" stroke-width="0.9"/>
<path d="M218.83,325.50 Q222.41,325.05 224.33,324.00 Q226.26,325.05 229.83,325.50Z" fill="#6a1020"/>
<path d="M224.33,310.00 L224.34,310.39 L224.37,310.78 L224.46,311.17 L224.61,311.56 L224.82,311.95 L225.11,312.34 L225.47,312.73 L225.88,313.12 L226.33,313.51 L226.82,313.90 L227.32,314.29 L227.83,314.68 L228.32,315.07 L228.78,315.46 L229.19,315.85 L229.55,316.24 L229.84,316.63 L230.05,317.02 L230.19,317.41 L230.23,317.80 L230.22,318.04 L230.20,318.27 L230.16,318.50 L230.11,318.74 L230.04,318.98 L229.96,319.21 L229.86,319.44 L229.74,319.68 L229.60,319.92 L229.44,320.15 L229.26,320.38 L229.05,320.62 L228.81,320.86 L228.54,321.09 L228.23,321.32 L227.87,321.56 L227.44,321.80 L226.90,322.03 L226.17,322.26 L224.33,322.50 L224.33,322.50 L222.49,322.26 L221.76,322.03 L221.22,321.80 L220.79,321.56 L220.43,321.32 L220.12,321.09 L219.85,320.86 L219.61,320.62 L219.40,320.38 L219.22,320.15 L219.06,319.92 L218.92,319.68 L218.80,319.44 L218.70,319.21 L218.62,318.98 L218.55,318.74 L218.50,318.50 L218.46,318.27 L218.44,318.04 L218.43,317.80 L218.47,317.41 L218.61,317.02 L218.82,316.63 L219.11,316.24 L219.47,315.85 L219.88,315.46 L220.34,315.07 L220.83,314.68 L221.34,314.29 L221.84,313.90 L222.33,313.51 L222.78,313.12 L223.19,312.73 L223.55,312.34 L223.84,311.95 L224.05,311.56 L224.20,311.17 L224.29,310.78 L224.32,310.39 L224.33,310.00Z" fill="url(#gR)"/>
<line x1="224.33" y1="322.00" x2="224.33" y2="325.80" stroke="#c8163a" stroke-width="0.9"/>
<path d="M231.55,325.50 Q235.12,325.05 237.05,324.00 Q238.98,325.05 242.55,325.50Z" fill="#6a1020"/>
<path d="M237.05,307.50 L237.06,308.01 L237.09,308.53 L237.17,309.05 L237.31,309.56 L237.51,310.07 L237.78,310.59 L238.11,311.11 L238.49,311.62 L238.92,312.13 L239.37,312.65 L239.84,313.17 L240.31,313.68 L240.77,314.19 L241.19,314.71 L241.58,315.23 L241.92,315.74 L242.19,316.25 L242.39,316.77 L242.51,317.29 L242.55,317.80 L242.54,318.06 L242.52,318.32 L242.49,318.58 L242.44,318.84 L242.38,319.10 L242.30,319.36 L242.20,319.62 L242.09,319.88 L241.96,320.14 L241.81,320.40 L241.64,320.66 L241.45,320.92 L241.23,321.18 L240.98,321.44 L240.69,321.70 L240.35,321.96 L239.95,322.22 L239.45,322.48 L238.77,322.74 L237.05,323.00 L237.05,323.00 L235.33,322.74 L234.65,322.48 L234.15,322.22 L233.75,321.96 L233.41,321.70 L233.12,321.44 L232.87,321.18 L232.65,320.92 L232.46,320.66 L232.29,320.40 L232.14,320.14 L232.01,319.88 L231.90,319.62 L231.80,319.36 L231.72,319.10 L231.66,318.84 L231.61,318.58 L231.58,318.32 L231.56,318.06 L231.55,317.80 L231.59,317.29 L231.71,316.77 L231.91,316.25 L232.18,315.74 L232.52,315.23 L232.91,314.71 L233.33,314.19 L233.79,313.68 L234.26,313.17 L234.73,312.65 L235.18,312.13 L235.61,311.62 L235.99,311.11 L236.32,310.59 L236.59,310.07 L236.79,309.56 L236.93,309.05 L237.01,308.53 L237.04,308.01 L237.05,307.50Z" fill="url(#gR)"/>
<line x1="237.05" y1="322.50" x2="237.05" y2="325.80" stroke="#c8163a" stroke-width="0.9"/>
<path d="M244.27,325.50 Q247.84,325.05 249.77,324.00 Q251.70,325.05 255.27,325.50Z" fill="#6a1020"/>
<path d="M249.77,307.80 L249.77,308.39 L249.78,308.99 L249.81,309.59 L249.86,310.18 L249.94,310.77 L250.04,311.37 L250.16,311.97 L250.29,312.56 L250.45,313.15 L250.61,313.75 L250.78,314.35 L250.96,314.94 L251.12,315.53 L251.28,316.13 L251.42,316.73 L251.54,317.32 L251.64,317.91 L251.71,318.51 L251.76,319.11 L251.77,319.70 L251.77,319.89 L251.76,320.08 L251.75,320.27 L251.73,320.46 L251.71,320.65 L251.68,320.84 L251.64,321.03 L251.60,321.22 L251.56,321.41 L251.50,321.60 L251.44,321.79 L251.37,321.98 L251.29,322.17 L251.20,322.36 L251.09,322.55 L250.97,322.74 L250.82,322.93 L250.64,323.12 L250.39,323.31 L249.77,323.50 L249.77,323.50 L249.15,323.31 L248.90,323.12 L248.72,322.93 L248.57,322.74 L248.45,322.55 L248.34,322.36 L248.25,322.17 L248.17,321.98 L248.10,321.79 L248.04,321.60 L247.98,321.41 L247.94,321.22 L247.90,321.03 L247.86,320.84 L247.83,320.65 L247.81,320.46 L247.79,320.27 L247.78,320.08 L247.77,319.89 L247.77,319.70 L247.78,319.11 L247.83,318.51 L247.90,317.91 L248.00,317.32 L248.12,316.73 L248.26,316.13 L248.42,315.53 L248.58,314.94 L248.76,314.35 L248.93,313.75 L249.09,313.15 L249.25,312.56 L249.38,311.97 L249.50,311.37 L249.60,310.77 L249.68,310.18 L249.73,309.59 L249.76,308.99 L249.77,308.39 L249.77,307.80Z" fill="url(#gR)"/>
<line x1="249.77" y1="323.00" x2="249.77" y2="325.80" stroke="#c8163a" stroke-width="0.9"/>
<path d="M256.99,325.50 Q260.56,325.05 262.49,324.00 Q264.42,325.05 267.99,325.50Z" fill="#6a1020"/>
<path d="M262.49,309.20 L262.49,309.68 L262.50,310.15 L262.53,310.62 L262.57,311.10 L262.64,311.57 L262.73,312.05 L262.84,312.52 L262.96,313.00 L263.10,313.47 L263.25,313.95 L263.40,314.43 L263.56,314.90 L263.71,315.38 L263.85,315.85 L263.97,316.32 L264.08,316.80 L264.17,317.27 L264.24,317.75 L264.28,318.22 L264.29,318.70 L264.29,318.94 L264.28,319.18 L264.27,319.42 L264.25,319.66 L264.23,319.90 L264.21,320.14 L264.18,320.38 L264.14,320.62 L264.10,320.86 L264.05,321.10 L263.99,321.34 L263.93,321.58 L263.86,321.82 L263.78,322.06 L263.68,322.30 L263.57,322.54 L263.44,322.78 L263.27,323.02 L263.05,323.26 L262.49,323.50 L262.49,323.50 L261.93,323.26 L261.71,323.02 L261.54,322.78 L261.41,322.54 L261.30,322.30 L261.20,322.06 L261.12,321.82 L261.05,321.58 L260.99,321.34 L260.93,321.10 L260.88,320.86 L260.84,320.62 L260.80,320.38 L260.77,320.14 L260.75,319.90 L260.73,319.66 L260.71,319.42 L260.70,319.18 L260.69,318.94 L260.69,318.70 L260.70,318.22 L260.74,317.75 L260.81,317.27 L260.90,316.80 L261.01,316.32 L261.13,315.85 L261.27,315.38 L261.42,314.90 L261.58,314.43 L261.73,313.95 L261.88,313.47 L262.02,313.00 L262.14,312.52 L262.25,312.05 L262.34,311.57 L262.41,311.10 L262.45,310.62 L262.48,310.15 L262.49,309.68 L262.49,309.20Z" fill="url(#gR)"/>
<line x1="262.49" y1="323.00" x2="262.49" y2="325.80" stroke="#c8163a" stroke-width="0.9"/>
<path d="M269.71,325.50 Q273.29,325.05 275.21,324.00 Q277.14,325.05 280.71,325.50Z" fill="#6a1020"/>
<path d="M275.21,308.50 L275.21,309.06 L275.23,309.62 L275.29,310.18 L275.38,310.74 L275.51,311.30 L275.69,311.86 L275.90,312.42 L276.15,312.98 L276.43,313.54 L276.73,314.10 L277.04,314.66 L277.34,315.22 L277.64,315.78 L277.92,316.34 L278.18,316.90 L278.40,317.46 L278.57,318.02 L278.70,318.58 L278.78,319.14 L278.81,319.70 L278.81,319.89 L278.79,320.08 L278.77,320.27 L278.74,320.46 L278.70,320.65 L278.64,320.84 L278.58,321.03 L278.51,321.22 L278.42,321.41 L278.33,321.60 L278.22,321.79 L278.09,321.98 L277.95,322.17 L277.78,322.36 L277.59,322.55 L277.37,322.74 L277.11,322.93 L276.78,323.12 L276.33,323.31 L275.21,323.50 L275.21,323.50 L274.09,323.31 L273.64,323.12 L273.31,322.93 L273.05,322.74 L272.83,322.55 L272.64,322.36 L272.47,322.17 L272.33,321.98 L272.20,321.79 L272.09,321.60 L272.00,321.41 L271.91,321.22 L271.84,321.03 L271.78,320.84 L271.72,320.65 L271.68,320.46 L271.65,320.27 L271.63,320.08 L271.61,319.89 L271.61,319.70 L271.64,319.14 L271.72,318.58 L271.85,318.02 L272.02,317.46 L272.24,316.90 L272.50,316.34 L272.78,315.78 L273.08,315.22 L273.38,314.66 L273.69,314.10 L273.99,313.54 L274.27,312.98 L274.52,312.42 L274.73,311.86 L274.91,311.30 L275.04,310.74 L275.13,310.18 L275.19,309.62 L275.21,309.06 L275.21,308.50Z" fill="url(#gR)"/>
<line x1="275.21" y1="323.00" x2="275.21" y2="325.80" stroke="#c8163a" stroke-width="0.9"/>
<path d="M282.43,325.50 Q286.00,325.05 287.93,324.00 Q289.86,325.05 293.43,325.50Z" fill="#6a1020"/>
<path d="M287.93,307.80 L287.93,308.41 L287.94,309.02 L287.95,309.63 L287.97,310.24 L288.00,310.85 L288.04,311.46 L288.08,312.07 L288.14,312.68 L288.20,313.29 L288.27,313.90 L288.34,314.51 L288.40,315.12 L288.47,315.73 L288.53,316.34 L288.59,316.95 L288.64,317.56 L288.68,318.17 L288.71,318.78 L288.72,319.39 L288.73,320.00 L288.73,320.20 L288.73,320.40 L288.72,320.60 L288.71,320.80 L288.70,321.00 L288.69,321.20 L288.68,321.40 L288.66,321.60 L288.64,321.80 L288.62,322.00 L288.60,322.20 L288.57,322.40 L288.54,322.60 L288.50,322.80 L288.46,323.00 L288.41,323.20 L288.35,323.40 L288.28,323.60 L288.18,323.80 L287.93,324.00 L287.93,324.00 L287.68,323.80 L287.58,323.60 L287.51,323.40 L287.45,323.20 L287.40,323.00 L287.36,322.80 L287.32,322.60 L287.29,322.40 L287.26,322.20 L287.24,322.00 L287.22,321.80 L287.20,321.60 L287.18,321.40 L287.17,321.20 L287.16,321.00 L287.15,320.80 L287.14,320.60 L287.13,320.40 L287.13,320.20 L287.13,320.00 L287.14,319.39 L287.15,318.78 L287.18,318.17 L287.22,317.56 L287.27,316.95 L287.33,316.34 L287.39,315.73 L287.46,315.12 L287.52,314.51 L287.59,313.90 L287.66,313.29 L287.72,312.68 L287.78,312.07 L287.82,311.46 L287.86,310.85 L287.89,310.24 L287.91,309.63 L287.92,309.02 L287.93,308.41 L287.93,307.80Z" fill="url(#gR)"/>
<line x1="287.93" y1="323.50" x2="287.93" y2="325.80" stroke="#c8163a" stroke-width="0.9"/>
<line x1="38.80" y1="298.00" x2="38.80" y2="326.30" stroke="#222" stroke-width="1.0"/>
<line x1="38.30" y1="325.80" x2="296.50" y2="325.80" stroke="#222" stroke-width="1.1"/>
<line x1="36.60" y1="324.20" x2="38.80" y2="324.20" stroke="#222" stroke-width="0.8"/>
<line x1="36.60" y1="319.80" x2="38.80" y2="319.80" stroke="#222" stroke-width="0.8"/>
<line x1="36.60" y1="315.40" x2="38.80" y2="315.40" stroke="#222" stroke-width="0.8"/>
<line x1="36.60" y1="311.00" x2="38.80" y2="311.00" stroke="#222" stroke-width="0.8"/>
<line x1="36.60" y1="306.60" x2="38.80" y2="306.60" stroke="#222" stroke-width="0.8"/>
<line x1="36.60" y1="302.20" x2="38.80" y2="302.20" stroke="#222" stroke-width="0.8"/>
<text x="33.30" y="326.50" font-size="6.6" text-anchor="end">0</text>
<text x="33.30" y="317.70" font-size="6.6" text-anchor="end">2</text>
<text x="33.30" y="308.90" font-size="6.6" text-anchor="end">4</text>
<line x1="46.25" y1="325.80" x2="46.25" y2="328.00" stroke="#222" stroke-width="0.8"/>
<line x1="58.97" y1="325.80" x2="58.97" y2="328.00" stroke="#222" stroke-width="0.8"/>
<line x1="71.69" y1="325.80" x2="71.69" y2="328.00" stroke="#222" stroke-width="0.8"/>
<line x1="84.41" y1="325.80" x2="84.41" y2="328.00" stroke="#222" stroke-width="0.8"/>
<line x1="97.13" y1="325.80" x2="97.13" y2="328.00" stroke="#222" stroke-width="0.8"/>
<line x1="109.85" y1="325.80" x2="109.85" y2="328.00" stroke="#222" stroke-width="0.8"/>
<line x1="122.57" y1="325.80" x2="122.57" y2="328.00" stroke="#222" stroke-width="0.8"/>
<line x1="135.29" y1="325.80" x2="135.29" y2="328.00" stroke="#222" stroke-width="0.8"/>
<line x1="148.01" y1="325.80" x2="148.01" y2="328.00" stroke="#222" stroke-width="0.8"/>
<line x1="160.73" y1="325.80" x2="160.73" y2="328.00" stroke="#222" stroke-width="0.8"/>
<line x1="173.45" y1="325.80" x2="173.45" y2="328.00" stroke="#222" stroke-width="0.8"/>
<line x1="186.17" y1="325.80" x2="186.17" y2="328.00" stroke="#222" stroke-width="0.8"/>
<line x1="198.89" y1="325.80" x2="198.89" y2="328.00" stroke="#222" stroke-width="0.8"/>
<line x1="211.61" y1="325.80" x2="211.61" y2="328.00" stroke="#222" stroke-width="0.8"/>
<line x1="224.33" y1="325.80" x2="224.33" y2="328.00" stroke="#222" stroke-width="0.8"/>
<line x1="237.05" y1="325.80" x2="237.05" y2="328.00" stroke="#222" stroke-width="0.8"/>
<line x1="249.77" y1="325.80" x2="249.77" y2="328.00" stroke="#222" stroke-width="0.8"/>
<line x1="262.49" y1="325.80" x2="262.49" y2="328.00" stroke="#222" stroke-width="0.8"/>
<line x1="275.21" y1="325.80" x2="275.21" y2="328.00" stroke="#222" stroke-width="0.8"/>
<line x1="287.93" y1="325.80" x2="287.93" y2="328.00" stroke="#222" stroke-width="0.8"/>
<text x="157.40" y="295.30" font-size="8.4" textLength="18.60" lengthAdjust="spacingAndGlyphs">RELB</text>
<text x="22.60" y="312.40" font-size="8.2" text-anchor="middle" textLength="48.50" lengthAdjust="spacingAndGlyphs" transform="rotate(-90 22.60 312.40)">Expression level</text>
<text x="48.85" y="332.60" font-size="7.2" text-anchor="end" textLength="14.40" lengthAdjust="spacingAndGlyphs" transform="rotate(-90 48.85 332.60)">CLL3</text>
<text x="61.57" y="332.60" font-size="7.2" text-anchor="end" textLength="14.40" lengthAdjust="spacingAndGlyphs" transform="rotate(-90 61.57 332.60)">CLL6</text>
<text x="74.29" y="332.60" font-size="7.2" text-anchor="end" textLength="14.40" lengthAdjust="spacingAndGlyphs" transform="rotate(-90 74.29 332.60)">CLL7</text>
<text x="87.01" y="332.60" font-size="7.2" text-anchor="end" textLength="18.00" lengthAdjust="spacingAndGlyphs" transform="rotate(-90 87.01 332.60)">CLL16</text>
<text x="99.73" y="332.60" font-size="7.2" text-anchor="end" textLength="18.00" lengthAdjust="spacingAndGlyphs" transform="rotate(-90 99.73 332.60)">CLL23</text>
<text x="112.45" y="332.60" font-size="7.2" text-anchor="end" textLength="18.00" lengthAdjust="spacingAndGlyphs" transform="rotate(-90 112.45 332.60)">CLL26</text>
<text x="125.17" y="332.60" font-size="7.2" text-anchor="end" textLength="18.00" lengthAdjust="spacingAndGlyphs" transform="rotate(-90 125.17 332.60)">CLL93</text>
<text x="137.89" y="332.60" font-size="7.2" text-anchor="end" textLength="14.40" lengthAdjust="spacingAndGlyphs" transform="rotate(-90 137.89 332.60)">CLL2</text>
<text x="150.61" y="332.60" font-size="7.2" text-anchor="end" textLength="14.40" lengthAdjust="spacingAndGlyphs" transform="rotate(-90 150.61 332.60)">CLL3</text>
<text x="163.33" y="332.60" font-size="7.2" text-anchor="end" textLength="14.40" lengthAdjust="spacingAndGlyphs" transform="rotate(-90 163.33 332.60)">CLL5</text>
<text x="176.05" y="332.60" font-size="7.2" text-anchor="end" textLength="14.40" lengthAdjust="spacingAndGlyphs" transform="rotate(-90 176.05 332.60)">CLL6</text>
<text x="188.77" y="332.60" font-size="7.2" text-anchor="end" textLength="14.40" lengthAdjust="spacingAndGlyphs" transform="rotate(-90 188.77 332.60)">CLL7</text>
<text x="201.49" y="332.60" font-size="7.2" text-anchor="end" textLength="14.40" lengthAdjust="spacingAndGlyphs" transform="rotate(-90 201.49 332.60)">CLL9</text>
<text x="214.21" y="332.60" font-size="7.2" text-anchor="end" textLength="18.00" lengthAdjust="spacingAndGlyphs" transform="rotate(-90 214.21 332.60)">CLL12</text>
<text x="226.93" y="332.60" font-size="7.2" text-anchor="end" textLength="18.00" lengthAdjust="spacingAndGlyphs" transform="rotate(-90 226.93 332.60)">CLL16</text>
<text x="239.65" y="332.60" font-size="7.2" text-anchor="end" textLength="18.00" lengthAdjust="spacingAndGlyphs" transform="rotate(-90 239.65 332.60)">CLL17</text>
<text x="252.37" y="332.60" font-size="7.2" text-anchor="end" textLength="18.00" lengthAdjust="spacingAndGlyphs" transform="rotate(-90 252.37 332.60)">CLL23</text>
<text x="265.09" y="332.60" font-size="7.2" text-anchor="end" textLength="18.00" lengthAdjust="spacingAndGlyphs" transform="rotate(-90 265.09 332.60)">CLL93</text>
<text x="277.81" y="332.60" font-size="7.2" text-anchor="end" textLength="18.00" lengthAdjust="spacingAndGlyphs" transform="rotate(-90 277.81 332.60)">CLL95</text>
<text x="290.53" y="332.60" font-size="7.2" text-anchor="end" textLength="18.00" lengthAdjust="spacingAndGlyphs" transform="rotate(-90 290.53 332.60)">CLL26</text>
<line x1="44.50" y1="356.80" x2="129.20" y2="356.80" stroke="#5a82aa" stroke-width="1.4"/>
<line x1="133.00" y1="356.80" x2="276.10" y2="356.80" stroke="#c0627a" stroke-width="1.4"/>
<line x1="279.80" y1="356.80" x2="294.20" y2="356.80" stroke="#f2b865" stroke-width="1.4"/>
<text x="88.00" y="367.00" font-size="8.7" text-anchor="middle" textLength="56.80" lengthAdjust="spacingAndGlyphs">Screening samples</text>
<text x="204.50" y="367.00" font-size="8.7" text-anchor="middle" textLength="55.20" lengthAdjust="spacingAndGlyphs">Relapsed samples</text>
<text x="286.70" y="367.00" font-size="8.7" text-anchor="middle" textLength="22.80" lengthAdjust="spacingAndGlyphs">Off VEN</text>
<text x="286.80" y="377.30" font-size="8.7" text-anchor="middle" textLength="35.60" lengthAdjust="spacingAndGlyphs">progression</text>
<path d="M42.25,428.50 Q44.85,428.26 46.25,427.70 Q47.65,428.26 50.25,428.50Z" fill="#1c4f7e"/>
<line x1="46.25" y1="409.80" x2="46.25" y2="428.80" stroke="#4a7aa8" stroke-width="1.1"/>
<path d="M54.97,428.50 Q57.57,428.26 58.97,427.70 Q60.37,428.26 62.97,428.50Z" fill="#1c4f7e"/>
<line x1="58.97" y1="404.50" x2="58.97" y2="428.80" stroke="#4a7aa8" stroke-width="1.1"/>
<path d="M67.69,428.50 Q70.29,428.26 71.69,427.70 Q73.09,428.26 75.69,428.50Z" fill="#1c4f7e"/>
<line x1="71.69" y1="406.00" x2="71.69" y2="428.80" stroke="#4a7aa8" stroke-width="1.1"/>
<path d="M80.41,428.50 Q83.01,428.26 84.41,427.70 Q85.81,428.26 88.41,428.50Z" fill="#1c4f7e"/>
<line x1="84.41" y1="408.80" x2="84.41" y2="428.80" stroke="#4a7aa8" stroke-width="1.1"/>
<path d="M93.13,428.50 Q95.73,428.26 97.13,427.70 Q98.53,428.26 101.13,428.50Z" fill="#1c4f7e"/>
<line x1="97.13" y1="406.00" x2="97.13" y2="428.80" stroke="#4a7aa8" stroke-width="1.1"/>
<path d="M105.85,428.50 Q108.45,428.26 109.85,427.70 Q111.25,428.26 113.85,428.50Z" fill="#1c4f7e"/>
<line x1="109.85" y1="408.80" x2="109.85" y2="428.80" stroke="#4a7aa8" stroke-width="1.1"/>
<path d="M118.57,428.50 Q121.17,428.26 122.57,427.70 Q123.97,428.26 126.57,428.50Z" fill="#1c4f7e"/>
<line x1="122.57" y1="410.20" x2="122.57" y2="428.80" stroke="#4a7aa8" stroke-width="1.1"/>
<path d="M129.79,428.50 Q133.37,428.05 135.29,427.00 Q137.22,428.05 140.79,428.50Z" fill="#6a1020"/>
<line x1="135.29" y1="408.70" x2="135.29" y2="420.40" stroke="#e39aae" stroke-width="0.9"/>
<path d="M135.29,419.40 L135.36,419.64 L135.48,419.88 L135.63,420.12 L135.79,420.36 L135.96,420.60 L136.13,420.84 L136.30,421.08 L136.47,421.32 L136.63,421.56 L136.78,421.80 L136.93,422.04 L137.06,422.28 L137.18,422.52 L137.29,422.76 L137.38,423.00 L137.45,423.24 L137.51,423.48 L137.56,423.72 L137.58,423.96 L137.59,424.20 L137.59,424.33 L137.58,424.46 L137.56,424.59 L137.54,424.72 L137.52,424.85 L137.48,424.98 L137.44,425.11 L137.40,425.24 L137.34,425.37 L137.28,425.50 L137.21,425.63 L137.13,425.76 L137.04,425.89 L136.93,426.02 L136.81,426.15 L136.67,426.28 L136.50,426.41 L136.29,426.54 L136.01,426.67 L135.29,426.80 L135.29,426.80 L134.57,426.67 L134.29,426.54 L134.08,426.41 L133.91,426.28 L133.77,426.15 L133.65,426.02 L133.54,425.89 L133.45,425.76 L133.37,425.63 L133.30,425.50 L133.24,425.37 L133.18,425.24 L133.14,425.11 L133.10,424.98 L133.06,424.85 L133.04,424.72 L133.02,424.59 L133.00,424.46 L132.99,424.33 L132.99,424.20 L133.00,423.96 L133.02,423.72 L133.07,423.48 L133.13,423.24 L133.20,423.00 L133.29,422.76 L133.40,422.52 L133.52,422.28 L133.65,422.04 L133.80,421.80 L133.95,421.56 L134.11,421.32 L134.28,421.08 L134.45,420.84 L134.62,420.60 L134.79,420.36 L134.95,420.12 L135.10,419.88 L135.22,419.64 L135.29,419.40Z" fill="#c8163a"/>
<line x1="135.29" y1="426.30" x2="135.29" y2="428.80" stroke="#c8163a" stroke-width="0.9"/>
<path d="M142.51,428.50 Q146.08,428.05 148.01,427.00 Q149.94,428.05 153.51,428.50Z" fill="#6a1020"/>
<line x1="148.01" y1="408.70" x2="148.01" y2="420.00" stroke="#e39aae" stroke-width="0.9"/>
<path d="M148.01,419.00 L148.08,419.25 L148.20,419.50 L148.35,419.75 L148.51,420.00 L148.68,420.25 L148.85,420.50 L149.02,420.75 L149.19,421.00 L149.35,421.25 L149.50,421.50 L149.65,421.75 L149.78,422.00 L149.90,422.25 L150.01,422.50 L150.10,422.75 L150.17,423.00 L150.23,423.25 L150.28,423.50 L150.30,423.75 L150.31,424.00 L150.31,424.14 L150.30,424.28 L150.28,424.42 L150.26,424.56 L150.24,424.70 L150.20,424.84 L150.16,424.98 L150.12,425.12 L150.06,425.26 L150.00,425.40 L149.93,425.54 L149.85,425.68 L149.76,425.82 L149.65,425.96 L149.53,426.10 L149.39,426.24 L149.22,426.38 L149.01,426.52 L148.73,426.66 L148.01,426.80 L148.01,426.80 L147.29,426.66 L147.01,426.52 L146.80,426.38 L146.63,426.24 L146.49,426.10 L146.37,425.96 L146.26,425.82 L146.17,425.68 L146.09,425.54 L146.02,425.40 L145.96,425.26 L145.90,425.12 L145.86,424.98 L145.82,424.84 L145.78,424.70 L145.76,424.56 L145.74,424.42 L145.72,424.28 L145.71,424.14 L145.71,424.00 L145.72,423.75 L145.74,423.50 L145.79,423.25 L145.85,423.00 L145.92,422.75 L146.01,422.50 L146.12,422.25 L146.24,422.00 L146.37,421.75 L146.52,421.50 L146.67,421.25 L146.83,421.00 L147.00,420.75 L147.17,420.50 L147.34,420.25 L147.51,420.00 L147.67,419.75 L147.82,419.50 L147.94,419.25 L148.01,419.00Z" fill="#c8163a"/>
<line x1="148.01" y1="426.30" x2="148.01" y2="428.80" stroke="#c8163a" stroke-width="0.9"/>
<path d="M155.23,428.50 Q158.81,428.05 160.73,427.00 Q162.66,428.05 166.23,428.50Z" fill="#6a1020"/>
<line x1="160.73" y1="408.70" x2="160.73" y2="420.50" stroke="#c8163a" stroke-width="0.9"/>
<path d="M160.73,419.50 L160.77,419.63 L160.83,419.77 L160.91,419.90 L160.99,420.04 L161.08,420.18 L161.17,420.31 L161.26,420.44 L161.34,420.58 L161.43,420.71 L161.51,420.85 L161.58,420.99 L161.65,421.12 L161.72,421.25 L161.77,421.39 L161.82,421.52 L161.86,421.66 L161.89,421.80 L161.91,421.93 L161.93,422.06 L161.93,422.20 L161.93,422.34 L161.92,422.48 L161.92,422.62 L161.91,422.76 L161.89,422.90 L161.87,423.04 L161.85,423.18 L161.83,423.32 L161.80,423.46 L161.77,423.60 L161.73,423.74 L161.69,423.88 L161.64,424.02 L161.59,424.16 L161.52,424.30 L161.45,424.44 L161.36,424.58 L161.25,424.72 L161.10,424.86 L160.73,425.00 L160.73,425.00 L160.36,424.86 L160.21,424.72 L160.10,424.58 L160.01,424.44 L159.94,424.30 L159.87,424.16 L159.82,424.02 L159.77,423.88 L159.73,423.74 L159.69,423.60 L159.66,423.46 L159.63,423.32 L159.61,423.18 L159.59,423.04 L159.57,422.90 L159.55,422.76 L159.54,422.62 L159.54,422.48 L159.53,422.34 L159.53,422.20 L159.53,422.06 L159.55,421.93 L159.57,421.80 L159.60,421.66 L159.64,421.52 L159.69,421.39 L159.74,421.25 L159.81,421.12 L159.88,420.99 L159.95,420.85 L160.03,420.71 L160.12,420.58 L160.20,420.44 L160.29,420.31 L160.38,420.18 L160.47,420.04 L160.55,419.90 L160.63,419.77 L160.69,419.63 L160.73,419.50Z" fill="#c8163a"/>
<line x1="160.73" y1="424.50" x2="160.73" y2="428.80" stroke="#c8163a" stroke-width="0.9"/>
<path d="M167.95,428.50 Q171.52,428.05 173.45,427.00 Q175.38,428.05 178.95,428.50Z" fill="#6a1020"/>
<line x1="173.45" y1="407.80" x2="173.45" y2="420.50" stroke="#c8163a" stroke-width="0.9"/>
<path d="M173.45,419.50 L173.50,419.69 L173.60,419.89 L173.71,420.08 L173.84,420.28 L173.97,420.48 L174.11,420.67 L174.24,420.87 L174.37,421.06 L174.50,421.25 L174.62,421.45 L174.73,421.64 L174.84,421.84 L174.93,422.03 L175.01,422.23 L175.08,422.42 L175.14,422.62 L175.19,422.81 L175.22,423.01 L175.24,423.20 L175.25,423.40 L175.25,423.53 L175.24,423.66 L175.23,423.79 L175.21,423.92 L175.19,424.05 L175.17,424.18 L175.14,424.31 L175.10,424.44 L175.06,424.57 L175.01,424.70 L174.95,424.83 L174.89,424.96 L174.82,425.09 L174.74,425.22 L174.64,425.35 L174.53,425.48 L174.40,425.61 L174.23,425.74 L174.01,425.87 L173.45,426.00 L173.45,426.00 L172.89,425.87 L172.67,425.74 L172.50,425.61 L172.37,425.48 L172.26,425.35 L172.16,425.22 L172.08,425.09 L172.01,424.96 L171.95,424.83 L171.89,424.70 L171.84,424.57 L171.80,424.44 L171.76,424.31 L171.73,424.18 L171.71,424.05 L171.69,423.92 L171.67,423.79 L171.66,423.66 L171.65,423.53 L171.65,423.40 L171.66,423.20 L171.68,423.01 L171.71,422.81 L171.76,422.62 L171.82,422.42 L171.89,422.23 L171.97,422.03 L172.06,421.84 L172.17,421.64 L172.28,421.45 L172.40,421.25 L172.53,421.06 L172.66,420.87 L172.79,420.67 L172.93,420.48 L173.06,420.28 L173.19,420.08 L173.30,419.89 L173.40,419.69 L173.45,419.50Z" fill="#c8163a"/>
<line x1="173.45" y1="425.50" x2="173.45" y2="428.80" stroke="#c8163a" stroke-width="0.9"/>
<path d="M180.67,428.50 Q184.25,428.05 186.17,427.00 Q188.10,428.05 191.67,428.50Z" fill="#6a1020"/>
<line x1="186.17" y1="410.40" x2="186.17" y2="420.50" stroke="#e39aae" stroke-width="0.9"/>
<path d="M186.17,419.50 L186.22,419.69 L186.32,419.89 L186.43,420.08 L186.56,420.28 L186.69,420.48 L186.83,420.67 L186.96,420.87 L187.09,421.06 L187.22,421.25 L187.34,421.45 L187.45,421.64 L187.56,421.84 L187.65,422.03 L187.73,422.23 L187.80,422.42 L187.86,422.62 L187.91,422.81 L187.94,423.01 L187.96,423.20 L187.97,423.40 L187.97,423.53 L187.96,423.66 L187.95,423.79 L187.93,423.92 L187.91,424.05 L187.89,424.18 L187.86,424.31 L187.82,424.44 L187.78,424.57 L187.73,424.70 L187.67,424.83 L187.61,424.96 L187.54,425.09 L187.46,425.22 L187.36,425.35 L187.25,425.48 L187.12,425.61 L186.95,425.74 L186.73,425.87 L186.17,426.00 L186.17,426.00 L185.61,425.87 L185.39,425.74 L185.22,425.61 L185.09,425.48 L184.98,425.35 L184.88,425.22 L184.80,425.09 L184.73,424.96 L184.67,424.83 L184.61,424.70 L184.56,424.57 L184.52,424.44 L184.48,424.31 L184.45,424.18 L184.43,424.05 L184.41,423.92 L184.39,423.79 L184.38,423.66 L184.37,423.53 L184.37,423.40 L184.38,423.20 L184.40,423.01 L184.43,422.81 L184.48,422.62 L184.54,422.42 L184.61,422.23 L184.69,422.03 L184.78,421.84 L184.89,421.64 L185.00,421.45 L185.12,421.25 L185.25,421.06 L185.38,420.87 L185.51,420.67 L185.65,420.48 L185.78,420.28 L185.91,420.08 L186.02,419.89 L186.12,419.69 L186.17,419.50Z" fill="#c8163a"/>
<line x1="186.17" y1="425.50" x2="186.17" y2="428.80" stroke="#c8163a" stroke-width="0.9"/>
<path d="M193.39,428.50 Q196.97,428.05 198.89,427.00 Q200.82,428.05 204.39,428.50Z" fill="#6a1020"/>
<line x1="198.89" y1="415.60" x2="198.89" y2="425.00" stroke="#c8163a" stroke-width="0.9"/>
<path d="M198.89,424.00 L198.91,424.10 L198.94,424.20 L198.98,424.30 L199.02,424.40 L199.06,424.50 L199.11,424.60 L199.15,424.70 L199.20,424.80 L199.24,424.90 L199.28,425.00 L199.32,425.10 L199.35,425.20 L199.38,425.30 L199.41,425.40 L199.43,425.50 L199.45,425.60 L199.47,425.70 L199.48,425.80 L199.49,425.90 L199.49,426.00 L199.49,426.07 L199.49,426.15 L199.48,426.23 L199.48,426.30 L199.47,426.38 L199.46,426.45 L199.45,426.52 L199.44,426.60 L199.43,426.68 L199.41,426.75 L199.39,426.82 L199.37,426.90 L199.35,426.98 L199.32,427.05 L199.29,427.12 L199.25,427.20 L199.21,427.27 L199.15,427.35 L199.08,427.43 L198.89,427.50 L198.89,427.50 L198.70,427.43 L198.63,427.35 L198.57,427.27 L198.53,427.20 L198.49,427.12 L198.46,427.05 L198.43,426.98 L198.41,426.90 L198.39,426.82 L198.37,426.75 L198.35,426.68 L198.34,426.60 L198.33,426.52 L198.32,426.45 L198.31,426.38 L198.30,426.30 L198.30,426.23 L198.29,426.15 L198.29,426.07 L198.29,426.00 L198.29,425.90 L198.30,425.80 L198.31,425.70 L198.33,425.60 L198.35,425.50 L198.37,425.40 L198.40,425.30 L198.43,425.20 L198.46,425.10 L198.50,425.00 L198.54,424.90 L198.58,424.80 L198.63,424.70 L198.67,424.60 L198.72,424.50 L198.76,424.40 L198.80,424.30 L198.84,424.20 L198.87,424.10 L198.89,424.00Z" fill="#c8163a"/>
<line x1="198.89" y1="427.00" x2="198.89" y2="428.80" stroke="#c8163a" stroke-width="0.9"/>
<path d="M206.11,428.50 Q209.69,428.05 211.61,427.00 Q213.54,428.05 217.11,428.50Z" fill="#6a1020"/>
<line x1="211.61" y1="409.50" x2="211.61" y2="415.70" stroke="#c8163a" stroke-width="0.9"/>
<path d="M211.61,414.70 L211.71,415.09 L211.89,415.48 L212.11,415.87 L212.34,416.26 L212.59,416.65 L212.85,417.04 L213.10,417.43 L213.35,417.82 L213.59,418.21 L213.82,418.60 L214.03,418.99 L214.23,419.38 L214.40,419.77 L214.56,420.16 L214.70,420.55 L214.81,420.94 L214.90,421.33 L214.96,421.72 L215.00,422.11 L215.01,422.50 L215.01,422.70 L214.99,422.90 L214.97,423.10 L214.94,423.30 L214.90,423.50 L214.85,423.70 L214.79,423.90 L214.73,424.10 L214.65,424.30 L214.55,424.50 L214.45,424.70 L214.33,424.90 L214.19,425.10 L214.04,425.30 L213.86,425.50 L213.65,425.70 L213.40,425.90 L213.09,426.10 L212.67,426.30 L211.61,426.50 L211.61,426.50 L210.55,426.30 L210.13,426.10 L209.82,425.90 L209.57,425.70 L209.36,425.50 L209.18,425.30 L209.03,425.10 L208.89,424.90 L208.77,424.70 L208.67,424.50 L208.57,424.30 L208.49,424.10 L208.43,423.90 L208.37,423.70 L208.32,423.50 L208.28,423.30 L208.25,423.10 L208.23,422.90 L208.21,422.70 L208.21,422.50 L208.22,422.11 L208.26,421.72 L208.32,421.33 L208.41,420.94 L208.52,420.55 L208.66,420.16 L208.82,419.77 L208.99,419.38 L209.19,418.99 L209.40,418.60 L209.63,418.21 L209.87,417.82 L210.12,417.43 L210.37,417.04 L210.63,416.65 L210.88,416.26 L211.11,415.87 L211.33,415.48 L211.51,415.09 L211.61,414.70Z" fill="#c8163a"/>
<line x1="211.61" y1="426.00" x2="211.61" y2="428.80" stroke="#c8163a" stroke-width="0.9"/>
<path d="M218.83,428.50 Q222.41,428.05 224.33,427.00 Q226.26,428.05 229.83,428.50Z" fill="#6a1020"/>
<line x1="224.33" y1="407.90" x2="224.33" y2="411.00" stroke="#e39aae" stroke-width="0.9"/>
<path d="M224.33,408.50 L224.69,409.27 L225.11,410.04 L225.54,410.81 L225.99,411.59 L226.46,412.36 L226.93,413.13 L227.41,413.90 L227.90,414.67 L228.39,415.44 L228.89,416.21 L229.39,416.99 L229.90,417.76 L230.41,418.53 L230.93,419.30 L230.50,419.81 L230.08,420.33 L229.64,420.84 L229.21,421.36 L228.76,421.87 L228.32,422.39 L227.87,422.90 L227.41,423.41 L226.94,423.93 L226.47,424.44 L225.98,424.96 L225.48,425.47 L224.94,425.99 L224.33,426.50 L224.33,426.50 L223.72,425.99 L223.18,425.47 L222.68,424.96 L222.19,424.44 L221.72,423.93 L221.25,423.41 L220.79,422.90 L220.34,422.39 L219.90,421.87 L219.45,421.36 L219.02,420.84 L218.58,420.33 L218.16,419.81 L217.73,419.30 L218.25,418.53 L218.76,417.76 L219.27,416.99 L219.77,416.21 L220.27,415.44 L220.76,414.67 L221.25,413.90 L221.73,413.13 L222.20,412.36 L222.67,411.59 L223.12,410.81 L223.55,410.04 L223.97,409.27 L224.33,408.50Z" fill="#c8163a"/>
<line x1="224.33" y1="426.00" x2="224.33" y2="428.80" stroke="#c8163a" stroke-width="0.9"/>
<path d="M231.55,428.50 Q235.12,428.05 237.05,427.00 Q238.98,428.05 242.55,428.50Z" fill="#6a1020"/>
<line x1="237.05" y1="406.20" x2="237.05" y2="412.00" stroke="#e39aae" stroke-width="0.9"/>
<path d="M237.05,411.00 L237.19,411.54 L237.43,412.07 L237.72,412.61 L238.04,413.14 L238.38,413.68 L238.73,414.21 L239.07,414.75 L239.41,415.28 L239.73,415.81 L240.04,416.35 L240.33,416.88 L240.59,417.42 L240.83,417.95 L241.04,418.49 L241.23,419.02 L241.38,419.56 L241.50,420.09 L241.58,420.63 L241.63,421.16 L241.65,421.70 L241.64,421.94 L241.63,422.18 L241.60,422.42 L241.56,422.66 L241.50,422.90 L241.44,423.14 L241.36,423.38 L241.27,423.62 L241.16,423.86 L241.03,424.10 L240.89,424.34 L240.73,424.58 L240.55,424.82 L240.34,425.06 L240.09,425.30 L239.81,425.54 L239.47,425.78 L239.06,426.02 L238.49,426.26 L237.05,426.50 L237.05,426.50 L235.61,426.26 L235.04,426.02 L234.63,425.78 L234.29,425.54 L234.01,425.30 L233.76,425.06 L233.55,424.82 L233.37,424.58 L233.21,424.34 L233.07,424.10 L232.94,423.86 L232.83,423.62 L232.74,423.38 L232.66,423.14 L232.60,422.90 L232.54,422.66 L232.50,422.42 L232.47,422.18 L232.46,421.94 L232.45,421.70 L232.47,421.16 L232.52,420.63 L232.60,420.09 L232.72,419.56 L232.87,419.02 L233.06,418.49 L233.27,417.95 L233.51,417.42 L233.77,416.88 L234.06,416.35 L234.37,415.81 L234.69,415.28 L235.03,414.75 L235.37,414.21 L235.72,413.68 L236.06,413.14 L236.38,412.61 L236.67,412.07 L236.91,411.54 L237.05,411.00Z" fill="#c8163a"/>
<line x1="237.05" y1="426.00" x2="237.05" y2="428.80" stroke="#c8163a" stroke-width="0.9"/>
<path d="M244.27,428.50 Q247.84,428.05 249.77,427.00 Q251.70,428.05 255.27,428.50Z" fill="#6a1020"/>
<line x1="249.77" y1="411.30" x2="249.77" y2="421.00" stroke="#e39aae" stroke-width="0.9"/>
<path d="M249.77,420.00 L249.80,420.20 L249.84,420.40 L249.90,420.60 L249.96,420.80 L250.03,421.00 L250.10,421.20 L250.16,421.40 L250.23,421.60 L250.29,421.80 L250.35,422.00 L250.41,422.20 L250.46,422.40 L250.51,422.60 L250.55,422.80 L250.59,423.00 L250.62,423.20 L250.64,423.40 L250.66,423.60 L250.67,423.80 L250.67,424.00 L250.67,424.15 L250.67,424.30 L250.66,424.45 L250.65,424.60 L250.64,424.75 L250.63,424.90 L250.61,425.05 L250.59,425.20 L250.57,425.35 L250.55,425.50 L250.52,425.65 L250.49,425.80 L250.45,425.95 L250.41,426.10 L250.37,426.25 L250.31,426.40 L250.24,426.55 L250.16,426.70 L250.05,426.85 L249.77,427.00 L249.77,427.00 L249.49,426.85 L249.38,426.70 L249.30,426.55 L249.23,426.40 L249.17,426.25 L249.13,426.10 L249.09,425.95 L249.05,425.80 L249.02,425.65 L248.99,425.50 L248.97,425.35 L248.95,425.20 L248.93,425.05 L248.91,424.90 L248.90,424.75 L248.89,424.60 L248.88,424.45 L248.87,424.30 L248.87,424.15 L248.87,424.00 L248.87,423.80 L248.88,423.60 L248.90,423.40 L248.92,423.20 L248.95,423.00 L248.99,422.80 L249.03,422.60 L249.08,422.40 L249.13,422.20 L249.19,422.00 L249.25,421.80 L249.31,421.60 L249.38,421.40 L249.44,421.20 L249.51,421.00 L249.58,420.80 L249.64,420.60 L249.70,420.40 L249.74,420.20 L249.77,420.00Z" fill="#c8163a"/>
<line x1="249.77" y1="426.50" x2="249.77" y2="428.80" stroke="#c8163a" stroke-width="0.9"/>
<path d="M256.99,428.50 Q260.56,428.05 262.49,427.00 Q264.42,428.05 267.99,428.50Z" fill="#6a1020"/>
<line x1="262.49" y1="411.30" x2="262.49" y2="420.00" stroke="#e39aae" stroke-width="0.9"/>
<path d="M262.49,419.00 L262.53,419.20 L262.60,419.40 L262.68,419.60 L262.77,419.80 L262.87,420.00 L262.96,420.20 L263.06,420.40 L263.16,420.60 L263.25,420.80 L263.33,421.00 L263.42,421.20 L263.49,421.40 L263.56,421.60 L263.62,421.80 L263.67,422.00 L263.71,422.20 L263.75,422.40 L263.77,422.60 L263.79,422.80 L263.79,423.00 L263.79,423.18 L263.78,423.35 L263.78,423.52 L263.76,423.70 L263.75,423.88 L263.73,424.05 L263.71,424.23 L263.68,424.40 L263.65,424.57 L263.62,424.75 L263.58,424.93 L263.53,425.10 L263.48,425.27 L263.42,425.45 L263.35,425.62 L263.27,425.80 L263.17,425.98 L263.06,426.15 L262.90,426.32 L262.49,426.50 L262.49,426.50 L262.08,426.32 L261.92,426.15 L261.81,425.98 L261.71,425.80 L261.63,425.62 L261.56,425.45 L261.50,425.27 L261.45,425.10 L261.40,424.93 L261.36,424.75 L261.33,424.57 L261.30,424.40 L261.27,424.23 L261.25,424.05 L261.23,423.88 L261.22,423.70 L261.20,423.52 L261.20,423.35 L261.19,423.18 L261.19,423.00 L261.19,422.80 L261.21,422.60 L261.23,422.40 L261.27,422.20 L261.31,422.00 L261.36,421.80 L261.42,421.60 L261.49,421.40 L261.56,421.20 L261.65,421.00 L261.73,420.80 L261.82,420.60 L261.92,420.40 L262.02,420.20 L262.11,420.00 L262.21,419.80 L262.30,419.60 L262.38,419.40 L262.45,419.20 L262.49,419.00Z" fill="#c8163a"/>
<line x1="262.49" y1="426.00" x2="262.49" y2="428.80" stroke="#c8163a" stroke-width="0.9"/>
<path d="M269.71,428.50 Q273.29,428.05 275.21,427.00 Q277.14,428.05 280.71,428.50Z" fill="#6a1020"/>
<line x1="275.21" y1="410.60" x2="275.21" y2="421.00" stroke="#e39aae" stroke-width="0.9"/>
<path d="M275.21,420.00 L275.24,420.20 L275.28,420.40 L275.34,420.60 L275.40,420.80 L275.47,421.00 L275.54,421.20 L275.60,421.40 L275.67,421.60 L275.73,421.80 L275.79,422.00 L275.85,422.20 L275.90,422.40 L275.95,422.60 L275.99,422.80 L276.03,423.00 L276.06,423.20 L276.08,423.40 L276.10,423.60 L276.11,423.80 L276.11,424.00 L276.11,424.15 L276.11,424.30 L276.10,424.45 L276.09,424.60 L276.08,424.75 L276.07,424.90 L276.05,425.05 L276.03,425.20 L276.01,425.35 L275.99,425.50 L275.96,425.65 L275.93,425.80 L275.89,425.95 L275.85,426.10 L275.81,426.25 L275.75,426.40 L275.68,426.55 L275.60,426.70 L275.49,426.85 L275.21,427.00 L275.21,427.00 L274.93,426.85 L274.82,426.70 L274.74,426.55 L274.67,426.40 L274.61,426.25 L274.57,426.10 L274.53,425.95 L274.49,425.80 L274.46,425.65 L274.43,425.50 L274.41,425.35 L274.39,425.20 L274.37,425.05 L274.35,424.90 L274.34,424.75 L274.33,424.60 L274.32,424.45 L274.31,424.30 L274.31,424.15 L274.31,424.00 L274.31,423.80 L274.32,423.60 L274.34,423.40 L274.36,423.20 L274.39,423.00 L274.43,422.80 L274.47,422.60 L274.52,422.40 L274.57,422.20 L274.63,422.00 L274.69,421.80 L274.75,421.60 L274.82,421.40 L274.88,421.20 L274.95,421.00 L275.02,420.80 L275.08,420.60 L275.14,420.40 L275.18,420.20 L275.21,420.00Z" fill="#c8163a"/>
<line x1="275.21" y1="426.50" x2="275.21" y2="428.80" stroke="#c8163a" stroke-width="0.9"/>
<path d="M282.43,428.50 Q286.00,428.05 287.93,427.00 Q289.86,428.05 293.43,428.50Z" fill="#6a1020"/>
<line x1="287.93" y1="406.20" x2="287.93" y2="421.00" stroke="#e39aae" stroke-width="0.9"/>
<path d="M287.93,420.00 L287.95,420.20 L287.99,420.40 L288.03,420.60 L288.08,420.80 L288.13,421.00 L288.18,421.20 L288.24,421.40 L288.29,421.60 L288.34,421.80 L288.38,422.00 L288.43,422.20 L288.47,422.40 L288.51,422.60 L288.54,422.80 L288.57,423.00 L288.59,423.20 L288.61,423.40 L288.62,423.60 L288.63,423.80 L288.63,424.00 L288.63,424.15 L288.63,424.30 L288.62,424.45 L288.62,424.60 L288.61,424.75 L288.60,424.90 L288.59,425.05 L288.57,425.20 L288.56,425.35 L288.54,425.50 L288.51,425.65 L288.49,425.80 L288.46,425.95 L288.43,426.10 L288.39,426.25 L288.35,426.40 L288.30,426.55 L288.24,426.70 L288.15,426.85 L287.93,427.00 L287.93,427.00 L287.71,426.85 L287.62,426.70 L287.56,426.55 L287.51,426.40 L287.47,426.25 L287.43,426.10 L287.40,425.95 L287.37,425.80 L287.35,425.65 L287.32,425.50 L287.30,425.35 L287.29,425.20 L287.27,425.05 L287.26,424.90 L287.25,424.75 L287.24,424.60 L287.24,424.45 L287.23,424.30 L287.23,424.15 L287.23,424.00 L287.23,423.80 L287.24,423.60 L287.25,423.40 L287.27,423.20 L287.29,423.00 L287.32,422.80 L287.35,422.60 L287.39,422.40 L287.43,422.20 L287.48,422.00 L287.52,421.80 L287.57,421.60 L287.62,421.40 L287.68,421.20 L287.73,421.00 L287.78,420.80 L287.83,420.60 L287.87,420.40 L287.91,420.20 L287.93,420.00Z" fill="#c8163a"/>
<line x1="287.93" y1="426.50" x2="287.93" y2="428.80" stroke="#c8163a" stroke-width="0.9"/>
<line x1="38.80" y1="401.30" x2="38.80" y2="429.30" stroke="#222" stroke-width="1.0"/>
<line x1="38.30" y1="428.80" x2="296.50" y2="428.80" stroke="#222" stroke-width="1.1"/>
<line x1="36.60" y1="427.80" x2="38.80" y2="427.80" stroke="#222" stroke-width="0.8"/>
<line x1="36.60" y1="423.25" x2="38.80" y2="423.25" stroke="#222" stroke-width="0.8"/>
<line x1="36.60" y1="418.70" x2="38.80" y2="418.70" stroke="#222" stroke-width="0.8"/>
<line x1="36.60" y1="414.15" x2="38.80" y2="414.15" stroke="#222" stroke-width="0.8"/>
<line x1="36.60" y1="409.60" x2="38.80" y2="409.60" stroke="#222" stroke-width="0.8"/>
<line x1="36.60" y1="405.05" x2="38.80" y2="405.05" stroke="#222" stroke-width="0.8"/>
<text x="33.30" y="430.10" font-size="6.6" text-anchor="end">0</text>
<text x="33.30" y="421.00" font-size="6.6" text-anchor="end">2</text>
<text x="33.30" y="411.90" font-size="6.6" text-anchor="end">4</text>
<line x1="46.25" y1="428.80" x2="46.25" y2="431.00" stroke="#222" stroke-width="0.8"/>
<line x1="58.97" y1="428.80" x2="58.97" y2="431.00" stroke="#222" stroke-width="0.8"/>
<line x1="71.69" y1="428.80" x2="71.69" y2="431.00" stroke="#222" stroke-width="0.8"/>
<line x1="84.41" y1="428.80" x2="84.41" y2="431.00" stroke="#222" stroke-width="0.8"/>
<line x1="97.13" y1="428.80" x2="97.13" y2="431.00" stroke="#222" stroke-width="0.8"/>
<line x1="109.85" y1="428.80" x2="109.85" y2="431.00" stroke="#222" stroke-width="0.8"/>
<line x1="122.57" y1="428.80" x2="122.57" y2="431.00" stroke="#222" stroke-width="0.8"/>
<line x1="135.29" y1="428.80" x2="135.29" y2="431.00" stroke="#222" stroke-width="0.8"/>
<line x1="148.01" y1="428.80" x2="148.01" y2="431.00" stroke="#222" stroke-width="0.8"/>
<line x1="160.73" y1="428.80" x2="160.73" y2="431.00" stroke="#222" stroke-width="0.8"/>
<line x1="173.45" y1="428.80" x2="173.45" y2="431.00" stroke="#222" stroke-width="0.8"/>
<line x1="186.17" y1="428.80" x2="186.17" y2="431.00" stroke="#222" stroke-width="0.8"/>
<line x1="198.89" y1="428.80" x2="198.89" y2="431.00" stroke="#222" stroke-width="0.8"/>
<line x1="211.61" y1="428.80" x2="211.61" y2="431.00" stroke="#222" stroke-width="0.8"/>
<line x1="224.33" y1="428.80" x2="224.33" y2="431.00" stroke="#222" stroke-width="0.8"/>
<line x1="237.05" y1="428.80" x2="237.05" y2="431.00" stroke="#222" stroke-width="0.8"/>
<line x1="249.77" y1="428.80" x2="249.77" y2="431.00" stroke="#222" stroke-width="0.8"/>
<line x1="262.49" y1="428.80" x2="262.49" y2="431.00" stroke="#222" stroke-width="0.8"/>
<line x1="275.21" y1="428.80" x2="275.21" y2="431.00" stroke="#222" stroke-width="0.8"/>
<line x1="287.93" y1="428.80" x2="287.93" y2="431.00" stroke="#222" stroke-width="0.8"/>
<text x="149.40" y="397.50" font-size="8.4" textLength="31.20" lengthAdjust="spacingAndGlyphs">NFKB2</text>
<text x="22.60" y="415.55" font-size="8.2" text-anchor="middle" textLength="48.50" lengthAdjust="spacingAndGlyphs" transform="rotate(-90 22.60 415.55)">Expression level</text>
<text x="48.85" y="435.60" font-size="7.2" text-anchor="end" textLength="14.40" lengthAdjust="spacingAndGlyphs" transform="rotate(-90 48.85 435.60)">CLL3</text>
<text x="61.57" y="435.60" font-size="7.2" text-anchor="end" textLength="14.40" lengthAdjust="spacingAndGlyphs" transform="rotate(-90 61.57 435.60)">CLL6</text>
<text x="74.29" y="435.60" font-size="7.2" text-anchor="end" textLength="14.40" lengthAdjust="spacingAndGlyphs" transform="rotate(-90 74.29 435.60)">CLL7</text>
<text x="87.01" y="435.60" font-size="7.2" text-anchor="end" textLength="18.00" lengthAdjust="spacingAndGlyphs" transform="rotate(-90 87.01 435.60)">CLL16</text>
<text x="99.73" y="435.60" font-size="7.2" text-anchor="end" textLength="18.00" lengthAdjust="spacingAndGlyphs" transform="rotate(-90 99.73 435.60)">CLL23</text>
<text x="112.45" y="435.60" font-size="7.2" text-anchor="end" textLength="18.00" lengthAdjust="spacingAndGlyphs" transform="rotate(-90 112.45 435.60)">CLL26</text>
<text x="125.17" y="435.60" font-size="7.2" text-anchor="end" textLength="18.00" lengthAdjust="spacingAndGlyphs" transform="rotate(-90 125.17 435.60)">CLL93</text>
<text x="137.89" y="435.60" font-size="7.2" text-anchor="end" textLength="14.40" lengthAdjust="spacingAndGlyphs" transform="rotate(-90 137.89 435.60)">CLL2</text>
<text x="150.61" y="435.60" font-size="7.2" text-anchor="end" textLength="14.40" lengthAdjust="spacingAndGlyphs" transform="rotate(-90 150.61 435.60)">CLL3</text>
<text x="163.33" y="435.60" font-size="7.2" text-anchor="end" textLength="14.40" lengthAdjust="spacingAndGlyphs" transform="rotate(-90 163.33 435.60)">CLL5</text>
<text x="176.05" y="435.60" font-size="7.2" text-anchor="end" textLength="14.40" lengthAdjust="spacingAndGlyphs" transform="rotate(-90 176.05 435.60)">CLL6</text>
<text x="188.77" y="435.60" font-size="7.2" text-anchor="end" textLength="14.40" lengthAdjust="spacingAndGlyphs" transform="rotate(-90 188.77 435.60)">CLL7</text>
<text x="201.49" y="435.60" font-size="7.2" text-anchor="end" textLength="14.40" lengthAdjust="spacingAndGlyphs" transform="rotate(-90 201.49 435.60)">CLL9</text>
<text x="214.21" y="435.60" font-size="7.2" text-anchor="end" textLength="18.00" lengthAdjust="spacingAndGlyphs" transform="rotate(-90 214.21 435.60)">CLL12</text>
<text x="226.93" y="435.60" font-size="7.2" text-anchor="end" textLength="18.00" lengthAdjust="spacingAndGlyphs" transform="rotate(-90 226.93 435.60)">CLL16</text>
<text x="239.65" y="435.60" font-size="7.2" text-anchor="end" textLength="18.00" lengthAdjust="spacingAndGlyphs" transform="rotate(-90 239.65 435.60)">CLL17</text>
<text x="252.37" y="435.60" font-size="7.2" text-anchor="end" textLength="18.00" lengthAdjust="spacingAndGlyphs" transform="rotate(-90 252.37 435.60)">CLL23</text>
<text x="265.09" y="435.60" font-size="7.2" text-anchor="end" textLength="18.00" lengthAdjust="spacingAndGlyphs" transform="rotate(-90 265.09 435.60)">CLL93</text>
<text x="277.81" y="435.60" font-size="7.2" text-anchor="end" textLength="18.00" lengthAdjust="spacingAndGlyphs" transform="rotate(-90 277.81 435.60)">CLL95</text>
<text x="290.53" y="435.60" font-size="7.2" text-anchor="end" textLength="18.00" lengthAdjust="spacingAndGlyphs" transform="rotate(-90 290.53 435.60)">CLL26</text>
<line x1="44.50" y1="462.50" x2="129.20" y2="462.50" stroke="#5a82aa" stroke-width="1.4"/>
<line x1="133.00" y1="462.50" x2="276.10" y2="462.50" stroke="#c0627a" stroke-width="1.4"/>
<line x1="279.80" y1="462.50" x2="294.20" y2="462.50" stroke="#f2b865" stroke-width="1.4"/>
<text x="86.80" y="473.10" font-size="8.7" text-anchor="middle" textLength="30.20" lengthAdjust="spacingAndGlyphs">Screening</text>
<text x="86.50" y="481.70" font-size="8.7" text-anchor="middle" textLength="24.50" lengthAdjust="spacingAndGlyphs">samples</text>
<text x="204.50" y="473.10" font-size="8.7" text-anchor="middle" textLength="28.50" lengthAdjust="spacingAndGlyphs">Relapsed</text>
<text x="204.50" y="481.70" font-size="8.7" text-anchor="middle" textLength="24.50" lengthAdjust="spacingAndGlyphs">samples</text>
<text x="286.70" y="473.10" font-size="8.7" text-anchor="middle" textLength="22.80" lengthAdjust="spacingAndGlyphs">Off VEN</text>
<text x="286.80" y="483.40" font-size="8.7" text-anchor="middle" textLength="35.60" lengthAdjust="spacingAndGlyphs">progression</text>
<text x="355.00" y="214.80" font-size="6.4" textLength="129.00" lengthAdjust="spacingAndGlyphs">Correlation between MCL1 and other genes</text>
<line x1="354.50" y1="221.20" x2="354.50" y2="285.20" stroke="#222" stroke-width="1.0"/>
<line x1="354.00" y1="284.80" x2="485.00" y2="284.80" stroke="#222" stroke-width="1.1"/>
<line x1="351.40" y1="281.70" x2="354.50" y2="281.70" stroke="#222" stroke-width="0.8"/>
<text x="348.10" y="283.90" font-size="6.4" text-anchor="end">0</text>
<line x1="351.40" y1="269.02" x2="354.50" y2="269.02" stroke="#222" stroke-width="0.8"/>
<text x="348.10" y="271.22" font-size="6.4" text-anchor="end">1000</text>
<line x1="351.40" y1="256.34" x2="354.50" y2="256.34" stroke="#222" stroke-width="0.8"/>
<text x="348.10" y="258.54" font-size="6.4" text-anchor="end">2000</text>
<line x1="351.40" y1="243.66" x2="354.50" y2="243.66" stroke="#222" stroke-width="0.8"/>
<text x="348.10" y="245.86" font-size="6.4" text-anchor="end">3000</text>
<line x1="351.40" y1="230.98" x2="354.50" y2="230.98" stroke="#222" stroke-width="0.8"/>
<text x="348.10" y="233.18" font-size="6.4" text-anchor="end">4000</text>
<text x="326.40" y="253.30" font-size="7.6" text-anchor="middle" textLength="17.80" lengthAdjust="spacingAndGlyphs" transform="rotate(-90 326.40 253.30)">Count</text>
<line x1="380.60" y1="284.80" x2="380.60" y2="287.50" stroke="#222" stroke-width="0.8"/>
<text x="380.40" y="295.20" font-size="6.8" text-anchor="middle">-0.2</text>
<line x1="419.70" y1="284.80" x2="419.70" y2="287.50" stroke="#222" stroke-width="0.8"/>
<text x="419.60" y="295.20" font-size="6.8" text-anchor="middle">0.0</text>
<line x1="458.80" y1="284.80" x2="458.80" y2="287.50" stroke="#222" stroke-width="0.8"/>
<text x="460.20" y="295.20" font-size="6.8" text-anchor="middle">0.2</text>
<line x1="361.50" y1="281.40" x2="480.00" y2="281.40" stroke="#a9c3da" stroke-width="0.9"/>
<path d="M405,281.8 L405,281.3 L408.8,281.3 L408.8,280.3 L411.7,280.3 L411.7,278.9 L414.1,278.9 L414.1,277.0 L415.7,277.0 L415.7,272.7 L417.3,272.7 L417.3,256.9 L418.9,256.9 L418.9,223.8 L420.8,223.8 L420.8,244.7 L422.7,244.7 L422.7,259.3 L423.9,259.3 L423.9,266.0 L425.1,266.0 L425.1,269.3 L426.6,269.3 L426.6,272.2 L428.0,272.2 L428.0,274.1 L429.9,274.1 L429.9,276.0 L431.8,276.0 L431.8,277.9 L434.7,277.9 L434.7,279.4 L437.6,279.4 L437.6,280.4 L441.0,280.4 L441.0,281.0 L445.0,281.0 L445,281.8Z" fill="#1f5a96"/>
<line x1="437.90" y1="282.00" x2="437.90" y2="289.40" stroke="#b84868" stroke-width="1.4"/>
<rect x="445.20" y="282.00" width="2.90" height="14.30" fill="#d02a4c"/>
<text x="427.20" y="295.20" font-size="5.6" textLength="16.60" lengthAdjust="spacingAndGlyphs" fill="#d8507a">NFKB2</text>
<text x="447.30" y="295.20" font-size="5.6" textLength="8.50" lengthAdjust="spacingAndGlyphs" fill="#d8507a">REL</text>
<text x="440.40" y="302.70" font-size="5.6" textLength="12.20" lengthAdjust="spacingAndGlyphs" fill="#d8507a">RELB</text>
<text x="403.00" y="308.40" font-size="8.6" textLength="27.00" lengthAdjust="spacingAndGlyphs">Pearson's</text>
<text x="431.20" y="308.40" font-size="8.6" font-style="italic">r</text>
<rect x="348.40" y="347.50" width="8.81" height="10.05" fill="#dfe3e8"/>
<rect x="357.16" y="347.50" width="8.81" height="10.05" fill="#7aa6d0"/>
<rect x="365.92" y="347.50" width="8.81" height="10.05" fill="#d4e6f4"/>
<rect x="374.68" y="347.50" width="8.81" height="10.05" fill="#b4d0e8"/>
<rect x="383.44" y="347.50" width="8.81" height="10.05" fill="#a8c8e6"/>
<rect x="392.20" y="347.50" width="8.81" height="10.05" fill="#e8f0f2"/>
<rect x="400.96" y="347.50" width="8.81" height="10.05" fill="#dce8f2"/>
<rect x="409.72" y="347.50" width="8.81" height="10.05" fill="#c4dbec"/>
<rect x="418.48" y="347.50" width="8.81" height="10.05" fill="#6c9ccc"/>
<rect x="348.40" y="357.50" width="8.81" height="10.05" fill="#7eaad2"/>
<rect x="357.16" y="357.50" width="8.81" height="10.05" fill="#e4e6ea"/>
<rect x="365.92" y="357.50" width="8.81" height="10.05" fill="#ea6a44"/>
<rect x="374.68" y="357.50" width="8.81" height="10.05" fill="#fff0c0"/>
<rect x="383.44" y="357.50" width="8.81" height="10.05" fill="#fff0c4"/>
<rect x="392.20" y="357.50" width="8.81" height="10.05" fill="#eaf0f0"/>
<rect x="400.96" y="357.50" width="8.81" height="10.05" fill="#fdd488"/>
<rect x="409.72" y="357.50" width="8.81" height="10.05" fill="#c8dcec"/>
<rect x="418.48" y="357.50" width="8.81" height="10.05" fill="#e8eef4"/>
<rect x="348.40" y="367.50" width="8.81" height="10.05" fill="#c4dcec"/>
<rect x="357.16" y="367.50" width="8.81" height="10.05" fill="#ea6040"/>
<rect x="365.92" y="367.50" width="8.81" height="10.05" fill="#e2e4e8"/>
<rect x="374.68" y="367.50" width="8.81" height="10.05" fill="#d62a26"/>
<rect x="383.44" y="367.50" width="8.81" height="10.05" fill="#f4945a"/>
<rect x="392.20" y="367.50" width="8.81" height="10.05" fill="#fff2c0"/>
<rect x="400.96" y="367.50" width="8.81" height="10.05" fill="#6a9cd0"/>
<rect x="409.72" y="367.50" width="8.81" height="10.05" fill="#f49050"/>
<rect x="418.48" y="367.50" width="8.81" height="10.05" fill="#ffe9a8"/>
<rect x="348.40" y="377.50" width="8.81" height="10.05" fill="#bcd6ea"/>
<rect x="357.16" y="377.50" width="8.81" height="10.05" fill="#fff2c2"/>
<rect x="365.92" y="377.50" width="8.81" height="10.05" fill="#d42a26"/>
<rect x="374.68" y="377.50" width="8.81" height="10.05" fill="#e2e4e8"/>
<rect x="383.44" y="377.50" width="8.81" height="10.05" fill="#d83028"/>
<rect x="392.20" y="377.50" width="8.81" height="10.05" fill="#eef2ea"/>
<rect x="400.96" y="377.50" width="8.81" height="10.05" fill="#4a7cc0"/>
<rect x="409.72" y="377.50" width="8.81" height="10.05" fill="#fff0c0"/>
<rect x="418.48" y="377.50" width="8.81" height="10.05" fill="#ffeec0"/>
<rect x="348.40" y="387.50" width="8.81" height="10.05" fill="#b8d4ea"/>
<rect x="357.16" y="387.50" width="8.81" height="10.05" fill="#fff2c4"/>
<rect x="365.92" y="387.50" width="8.81" height="10.05" fill="#f48c58"/>
<rect x="374.68" y="387.50" width="8.81" height="10.05" fill="#d42426"/>
<rect x="383.44" y="387.50" width="8.81" height="10.05" fill="#e0e2e6"/>
<rect x="392.20" y="387.50" width="8.81" height="10.05" fill="#eef2f0"/>
<rect x="400.96" y="387.50" width="8.81" height="10.05" fill="#5a8cc8"/>
<rect x="409.72" y="387.50" width="8.81" height="10.05" fill="#eef0f0"/>
<rect x="418.48" y="387.50" width="8.81" height="10.05" fill="#ffe4a0"/>
<rect x="348.40" y="397.50" width="8.81" height="10.05" fill="#e8eef2"/>
<rect x="357.16" y="397.50" width="8.81" height="10.05" fill="#eaeff2"/>
<rect x="365.92" y="397.50" width="8.81" height="10.05" fill="#fff0c4"/>
<rect x="374.68" y="397.50" width="8.81" height="10.05" fill="#edf1ee"/>
<rect x="383.44" y="397.50" width="8.81" height="10.05" fill="#eef2ee"/>
<rect x="392.20" y="397.50" width="8.81" height="10.05" fill="#dddfe4"/>
<rect x="400.96" y="397.50" width="8.81" height="10.05" fill="#c0d8ec"/>
<rect x="409.72" y="397.50" width="8.81" height="10.05" fill="#e6eef4"/>
<rect x="418.48" y="397.50" width="8.81" height="10.05" fill="#f0f0e8"/>
<rect x="348.40" y="407.50" width="8.81" height="10.05" fill="#dce8f2"/>
<rect x="357.16" y="407.50" width="8.81" height="10.05" fill="#fdd890"/>
<rect x="365.92" y="407.50" width="8.81" height="10.05" fill="#7aaad6"/>
<rect x="374.68" y="407.50" width="8.81" height="10.05" fill="#4a7cc4"/>
<rect x="383.44" y="407.50" width="8.81" height="10.05" fill="#6a9ad0"/>
<rect x="392.20" y="407.50" width="8.81" height="10.05" fill="#b8d4ea"/>
<rect x="400.96" y="407.50" width="8.81" height="10.05" fill="#e0e2e8"/>
<rect x="409.72" y="407.50" width="8.81" height="10.05" fill="#7aa6d2"/>
<rect x="418.48" y="407.50" width="8.81" height="10.05" fill="#3f6fb8"/>
<rect x="348.40" y="417.50" width="8.81" height="10.05" fill="#c8dcec"/>
<rect x="357.16" y="417.50" width="8.81" height="10.05" fill="#b0d0e8"/>
<rect x="365.92" y="417.50" width="8.81" height="10.05" fill="#f48a55"/>
<rect x="374.68" y="417.50" width="8.81" height="10.05" fill="#fff4c8"/>
<rect x="383.44" y="417.50" width="8.81" height="10.05" fill="#dde9f3"/>
<rect x="392.20" y="417.50" width="8.81" height="10.05" fill="#d8e6f2"/>
<rect x="400.96" y="417.50" width="8.81" height="10.05" fill="#6e9ed0"/>
<rect x="409.72" y="417.50" width="8.81" height="10.05" fill="#e2e4e8"/>
<rect x="418.48" y="417.50" width="8.81" height="10.05" fill="#dde3ea"/>
<rect x="348.40" y="427.50" width="8.81" height="10.05" fill="#76a4d2"/>
<rect x="357.16" y="427.50" width="8.81" height="10.05" fill="#e6eef4"/>
<rect x="365.92" y="427.50" width="8.81" height="10.05" fill="#ffe4a4"/>
<rect x="374.68" y="427.50" width="8.81" height="10.05" fill="#fff0c2"/>
<rect x="383.44" y="427.50" width="8.81" height="10.05" fill="#ffe2a0"/>
<rect x="392.20" y="427.50" width="8.81" height="10.05" fill="#f0f0e8"/>
<rect x="400.96" y="427.50" width="8.81" height="10.05" fill="#3e70bc"/>
<rect x="409.72" y="427.50" width="8.81" height="10.05" fill="#dfe5ec"/>
<rect x="418.48" y="427.50" width="8.81" height="10.05" fill="#dee2e8"/>
<text x="431.20" y="354.70" font-size="6.5">ATM</text>
<text x="431.20" y="364.70" font-size="6.5">ATF3</text>
<text x="431.20" y="374.70" font-size="6.5">REL</text>
<text x="431.20" y="384.70" font-size="6.5">NFKB2</text>
<text x="431.20" y="394.70" font-size="6.5">RELB</text>
<text x="431.20" y="404.70" font-size="6.5">BCL2</text>
<text x="431.20" y="414.70" font-size="6.5" textLength="42.60" lengthAdjust="spacingAndGlyphs">BCL2L1/BCLxL</text>
<text x="431.20" y="424.70" font-size="6.5">BCL2A1</text>
<text x="431.20" y="434.70" font-size="6.5">MCL1</text>
<text x="350.48" y="440.60" font-size="6.6" transform="rotate(90 350.48 440.60)">ATM</text>
<text x="359.24" y="440.60" font-size="6.6" transform="rotate(90 359.24 440.60)">ATF3</text>
<text x="368.00" y="440.60" font-size="6.6" transform="rotate(90 368.00 440.60)">REL</text>
<text x="376.76" y="440.60" font-size="6.6" transform="rotate(90 376.76 440.60)">NFKB2</text>
<text x="385.52" y="440.60" font-size="6.6" transform="rotate(90 385.52 440.60)">RELB</text>
<text x="394.28" y="440.60" font-size="6.6" transform="rotate(90 394.28 440.60)">BCL2</text>
<text x="403.04" y="440.60" font-size="6.6" transform="rotate(90 403.04 440.60)">BCL2L1</text>
<text x="411.80" y="440.60" font-size="6.6" transform="rotate(90 411.80 440.60)">BCL2A1</text>
<text x="420.56" y="440.60" font-size="6.6" transform="rotate(90 420.56 440.60)">MCL1</text>
<defs><linearGradient id="cb" x1="0" y1="1" x2="0" y2="0"><stop offset="0" stop-color="#3a62a6"/><stop offset="0.10" stop-color="#6890c4"/><stop offset="0.195" stop-color="#a8c4e0"/><stop offset="0.31" stop-color="#d8e4ec"/><stop offset="0.445" stop-color="#f4f4e0"/><stop offset="0.57" stop-color="#fce8a0"/><stop offset="0.68" stop-color="#f8b060"/><stop offset="0.80" stop-color="#f07838"/><stop offset="0.955" stop-color="#d84030"/><stop offset="1" stop-color="#c83030"/></linearGradient></defs>
<rect x="480.00" y="353.30" width="5.40" height="83.50" fill="url(#cb)"/>
<text x="489.00" y="359.30" font-size="6.6">0.25</text>
<text x="489.00" y="370.80" font-size="6.6">0.2</text>
<text x="489.00" y="382.30" font-size="6.6">0.15</text>
<text x="489.00" y="393.80" font-size="6.6">0.1</text>
<text x="489.00" y="405.30" font-size="6.6">0.05</text>
<text x="489.00" y="416.90" font-size="6.6">0</text>
<text x="489.00" y="428.50" font-size="6.6">-0.05</text>
<text x="489.00" y="440.00" font-size="6.6">-0.1</text>
<text x="470.40" y="349.60" font-size="6.8" textLength="50.00" lengthAdjust="spacingAndGlyphs">Correlation value</text>
<text x="41.70" y="534.00" font-size="9.2" textLength="49.80" lengthAdjust="spacingAndGlyphs">CLL7 relapse</text>
<defs><pattern id="s0" width="14" height="14" patternUnits="userSpaceOnUse"><rect width="14" height="14" fill="#b8bfe8"/><circle cx="4.53" cy="2.11" r="0.43" fill="#5a68c4"/><circle cx="1.01" cy="7.50" r="0.37" fill="#8a94d8"/><circle cx="0.81" cy="7.10" r="0.31" fill="#e8eaf8"/><circle cx="6.07" cy="0.98" r="0.32" fill="#5a68c4"/><circle cx="5.94" cy="11.58" r="0.32" fill="#8a94d8"/><circle cx="3.13" cy="8.78" r="0.49" fill="#e8eaf8"/><circle cx="8.08" cy="5.55" r="0.50" fill="#5a68c4"/><circle cx="0.65" cy="12.02" r="0.36" fill="#8a94d8"/><circle cx="2.02" cy="1.65" r="0.36" fill="#e8eaf8"/><circle cx="11.43" cy="2.53" r="0.42" fill="#5a68c4"/><circle cx="8.94" cy="5.21" r="0.41" fill="#8a94d8"/><circle cx="0.88" cy="0.83" r="0.34" fill="#e8eaf8"/><circle cx="9.53" cy="5.99" r="0.36" fill="#5a68c4"/><circle cx="8.20" cy="6.34" r="0.36" fill="#8a94d8"/><circle cx="11.12" cy="9.79" r="0.35" fill="#e8eaf8"/><circle cx="8.04" cy="7.35" r="0.48" fill="#5a68c4"/><circle cx="10.21" cy="4.03" r="0.50" fill="#8a94d8"/><circle cx="1.65" cy="5.85" r="0.45" fill="#e8eaf8"/><circle cx="2.13" cy="6.85" r="0.31" fill="#5a68c4"/><circle cx="9.36" cy="10.70" r="0.41" fill="#8a94d8"/><circle cx="12.26" cy="4.39" r="0.44" fill="#e8eaf8"/><circle cx="8.32" cy="8.12" r="0.39" fill="#5a68c4"/><circle cx="11.76" cy="13.23" r="0.39" fill="#8a94d8"/><circle cx="9.30" cy="0.85" r="0.44" fill="#e8eaf8"/><circle cx="9.06" cy="13.90" r="0.46" fill="#5a68c4"/><circle cx="3.98" cy="5.40" r="0.43" fill="#8a94d8"/><circle cx="0.32" cy="6.46" r="0.33" fill="#e8eaf8"/><circle cx="1.64" cy="0.83" r="0.45" fill="#5a68c4"/><circle cx="1.81" cy="3.47" r="0.38" fill="#8a94d8"/><circle cx="12.20" cy="1.13" r="0.39" fill="#e8eaf8"/><circle cx="7.69" cy="12.37" r="0.46" fill="#5a68c4"/><circle cx="12.10" cy="3.90" r="0.38" fill="#8a94d8"/><circle cx="5.02" cy="12.38" r="0.49" fill="#e8eaf8"/><circle cx="2.11" cy="2.47" r="0.35" fill="#5a68c4"/><circle cx="3.27" cy="6.79" r="0.42" fill="#8a94d8"/><circle cx="3.68" cy="0.06" r="0.38" fill="#e8eaf8"/><circle cx="5.17" cy="7.93" r="0.49" fill="#5a68c4"/><circle cx="9.67" cy="7.22" r="0.42" fill="#8a94d8"/><circle cx="9.47" cy="0.76" r="0.48" fill="#e8eaf8"/><circle cx="10.92" cy="12.24" r="0.46" fill="#5a68c4"/><circle cx="5.49" cy="5.59" r="0.32" fill="#8a94d8"/><circle cx="8.88" cy="0.87" r="0.31" fill="#e8eaf8"/><circle cx="2.92" cy="2.27" r="0.37" fill="#5a68c4"/><circle cx="0.74" cy="0.00" r="0.33" fill="#8a94d8"/><circle cx="1.42" cy="5.09" r="0.31" fill="#e8eaf8"/><circle cx="12.24" cy="8.60" r="0.33" fill="#5a68c4"/><circle cx="3.53" cy="4.86" r="0.37" fill="#8a94d8"/><circle cx="1.72" cy="11.89" r="0.50" fill="#e8eaf8"/><circle cx="6.52" cy="6.77" r="0.32" fill="#5a68c4"/><circle cx="1.43" cy="4.80" r="0.35" fill="#8a94d8"/><circle cx="11.60" cy="2.26" r="0.30" fill="#e8eaf8"/><circle cx="13.31" cy="7.40" r="0.33" fill="#5a68c4"/><circle cx="7.60" cy="0.38" r="0.41" fill="#8a94d8"/><circle cx="13.70" cy="12.09" r="0.44" fill="#e8eaf8"/><circle cx="3.66" cy="5.13" r="0.33" fill="#5a68c4"/><circle cx="10.81" cy="7.46" r="0.46" fill="#8a94d8"/><circle cx="4.62" cy="3.12" r="0.46" fill="#e8eaf8"/><circle cx="13.79" cy="11.94" r="0.46" fill="#5a68c4"/><circle cx="11.46" cy="10.36" r="0.35" fill="#8a94d8"/><circle cx="7.25" cy="4.98" r="0.31" fill="#e8eaf8"/><circle cx="0.39" cy="3.91" r="0.35" fill="#5a68c4"/><circle cx="9.70" cy="13.39" r="0.39" fill="#8a94d8"/><circle cx="13.12" cy="13.83" r="0.49" fill="#e8eaf8"/><circle cx="5.10" cy="3.09" r="0.35" fill="#5a68c4"/><circle cx="2.75" cy="2.86" r="0.42" fill="#8a94d8"/><circle cx="12.60" cy="11.77" r="0.40" fill="#e8eaf8"/><circle cx="9.14" cy="11.20" r="0.32" fill="#5a68c4"/><circle cx="9.25" cy="12.74" r="0.46" fill="#8a94d8"/><circle cx="10.50" cy="6.69" r="0.34" fill="#e8eaf8"/><circle cx="11.05" cy="4.66" r="0.46" fill="#5a68c4"/></pattern><pattern id="s1" width="14" height="14" patternUnits="userSpaceOnUse"><rect width="14" height="14" fill="#f0c4ca"/><circle cx="13.60" cy="5.54" r="0.38" fill="#d05a6a"/><circle cx="13.26" cy="10.15" r="0.33" fill="#e08a96"/><circle cx="1.78" cy="2.12" r="0.48" fill="#fff0f2"/><circle cx="11.29" cy="2.05" r="0.47" fill="#d05a6a"/><circle cx="13.72" cy="9.20" r="0.37" fill="#e08a96"/><circle cx="7.68" cy="1.83" r="0.30" fill="#fff0f2"/><circle cx="13.59" cy="9.10" r="0.41" fill="#d05a6a"/><circle cx="13.07" cy="6.07" r="0.47" fill="#e08a96"/><circle cx="11.57" cy="2.95" r="0.35" fill="#fff0f2"/><circle cx="4.10" cy="3.37" r="0.42" fill="#d05a6a"/><circle cx="3.63" cy="5.87" r="0.33" fill="#e08a96"/><circle cx="12.74" cy="4.95" r="0.39" fill="#fff0f2"/><circle cx="8.17" cy="12.66" r="0.38" fill="#d05a6a"/><circle cx="12.85" cy="7.02" r="0.41" fill="#e08a96"/><circle cx="7.33" cy="0.26" r="0.39" fill="#fff0f2"/><circle cx="2.56" cy="0.06" r="0.46" fill="#d05a6a"/><circle cx="2.41" cy="6.63" r="0.45" fill="#e08a96"/><circle cx="7.79" cy="4.56" r="0.40" fill="#fff0f2"/><circle cx="7.78" cy="10.98" r="0.32" fill="#d05a6a"/><circle cx="7.84" cy="3.48" r="0.36" fill="#e08a96"/><circle cx="10.81" cy="7.11" r="0.41" fill="#fff0f2"/><circle cx="10.64" cy="12.77" r="0.39" fill="#d05a6a"/><circle cx="8.58" cy="7.08" r="0.40" fill="#e08a96"/><circle cx="9.70" cy="6.33" r="0.41" fill="#fff0f2"/><circle cx="6.69" cy="13.18" r="0.44" fill="#d05a6a"/><circle cx="12.27" cy="13.19" r="0.35" fill="#e08a96"/><circle cx="7.83" cy="13.21" r="0.47" fill="#fff0f2"/><circle cx="1.92" cy="1.70" r="0.39" fill="#d05a6a"/><circle cx="1.02" cy="3.37" r="0.31" fill="#e08a96"/><circle cx="9.37" cy="10.98" r="0.48" fill="#fff0f2"/><circle cx="2.16" cy="10.03" r="0.43" fill="#d05a6a"/><circle cx="2.00" cy="12.36" r="0.49" fill="#e08a96"/><circle cx="3.07" cy="13.34" r="0.38" fill="#fff0f2"/><circle cx="6.82" cy="13.86" r="0.47" fill="#d05a6a"/><circle cx="2.26" cy="6.04" r="0.40" fill="#e08a96"/><circle cx="4.75" cy="2.74" r="0.36" fill="#fff0f2"/><circle cx="10.11" cy="0.27" r="0.41" fill="#d05a6a"/><circle cx="6.17" cy="0.25" r="0.37" fill="#e08a96"/><circle cx="8.73" cy="7.17" r="0.31" fill="#fff0f2"/><circle cx="13.79" cy="11.04" r="0.49" fill="#d05a6a"/><circle cx="1.47" cy="3.72" r="0.31" fill="#e08a96"/><circle cx="10.91" cy="3.79" r="0.33" fill="#fff0f2"/><circle cx="5.91" cy="12.76" r="0.46" fill="#d05a6a"/><circle cx="3.62" cy="2.09" r="0.48" fill="#e08a96"/><circle cx="7.99" cy="9.81" r="0.32" fill="#fff0f2"/><circle cx="0.81" cy="9.63" r="0.39" fill="#d05a6a"/><circle cx="1.01" cy="13.14" r="0.43" fill="#e08a96"/><circle cx="11.22" cy="1.17" r="0.47" fill="#fff0f2"/><circle cx="0.93" cy="12.08" r="0.39" fill="#d05a6a"/><circle cx="4.75" cy="7.74" r="0.49" fill="#e08a96"/><circle cx="3.75" cy="1.81" r="0.41" fill="#fff0f2"/><circle cx="3.34" cy="1.53" r="0.33" fill="#d05a6a"/><circle cx="0.71" cy="2.82" r="0.36" fill="#e08a96"/><circle cx="4.27" cy="10.63" r="0.36" fill="#fff0f2"/><circle cx="7.00" cy="2.49" r="0.37" fill="#d05a6a"/><circle cx="0.25" cy="3.51" r="0.30" fill="#e08a96"/><circle cx="10.26" cy="7.71" r="0.34" fill="#fff0f2"/><circle cx="6.65" cy="13.08" r="0.32" fill="#d05a6a"/><circle cx="11.46" cy="6.05" r="0.40" fill="#e08a96"/><circle cx="11.68" cy="5.50" r="0.40" fill="#fff0f2"/><circle cx="9.63" cy="13.75" r="0.37" fill="#d05a6a"/><circle cx="11.65" cy="9.89" r="0.43" fill="#e08a96"/><circle cx="5.67" cy="4.87" r="0.31" fill="#fff0f2"/><circle cx="1.82" cy="0.99" r="0.45" fill="#d05a6a"/><circle cx="3.58" cy="2.29" r="0.32" fill="#e08a96"/><circle cx="11.78" cy="12.19" r="0.43" fill="#fff0f2"/><circle cx="3.95" cy="3.39" r="0.36" fill="#d05a6a"/><circle cx="6.43" cy="2.21" r="0.39" fill="#e08a96"/><circle cx="3.69" cy="13.47" r="0.49" fill="#fff0f2"/><circle cx="7.66" cy="3.42" r="0.49" fill="#d05a6a"/></pattern><pattern id="s2" width="14" height="14" patternUnits="userSpaceOnUse"><rect width="14" height="14" fill="#e6e9d0"/><circle cx="4.33" cy="4.99" r="0.30" fill="#a8ac78"/><circle cx="5.34" cy="6.65" r="0.40" fill="#c8cca0"/><circle cx="2.81" cy="7.07" r="0.30" fill="#f8f8ee"/><circle cx="3.70" cy="1.26" r="0.38" fill="#a8ac78"/><circle cx="0.58" cy="0.31" r="0.36" fill="#c8cca0"/><circle cx="3.26" cy="8.20" r="0.41" fill="#f8f8ee"/><circle cx="10.51" cy="9.21" r="0.44" fill="#a8ac78"/><circle cx="12.31" cy="5.45" r="0.37" fill="#c8cca0"/><circle cx="13.79" cy="2.09" r="0.44" fill="#f8f8ee"/><circle cx="9.01" cy="0.61" r="0.47" fill="#a8ac78"/><circle cx="12.49" cy="8.78" r="0.45" fill="#c8cca0"/><circle cx="11.37" cy="1.95" r="0.40" fill="#f8f8ee"/><circle cx="7.06" cy="11.69" r="0.46" fill="#a8ac78"/><circle cx="11.57" cy="8.18" r="0.48" fill="#c8cca0"/><circle cx="9.56" cy="9.71" r="0.35" fill="#f8f8ee"/><circle cx="0.44" cy="1.86" r="0.37" fill="#a8ac78"/><circle cx="1.47" cy="11.70" r="0.41" fill="#c8cca0"/><circle cx="8.79" cy="8.77" r="0.44" fill="#f8f8ee"/><circle cx="6.85" cy="0.05" r="0.46" fill="#a8ac78"/><circle cx="10.48" cy="7.04" r="0.41" fill="#c8cca0"/><circle cx="9.23" cy="0.92" r="0.45" fill="#f8f8ee"/><circle cx="3.53" cy="1.04" r="0.35" fill="#a8ac78"/><circle cx="10.21" cy="2.87" r="0.45" fill="#c8cca0"/><circle cx="13.66" cy="6.92" r="0.38" fill="#f8f8ee"/><circle cx="6.71" cy="9.57" r="0.45" fill="#a8ac78"/><circle cx="8.64" cy="9.00" r="0.32" fill="#c8cca0"/><circle cx="2.06" cy="3.56" r="0.45" fill="#f8f8ee"/><circle cx="4.26" cy="7.95" r="0.30" fill="#a8ac78"/><circle cx="0.85" cy="3.76" r="0.43" fill="#c8cca0"/><circle cx="9.69" cy="9.46" r="0.36" fill="#f8f8ee"/><circle cx="7.23" cy="6.51" r="0.39" fill="#a8ac78"/><circle cx="1.66" cy="12.51" r="0.34" fill="#c8cca0"/><circle cx="13.69" cy="13.11" r="0.30" fill="#f8f8ee"/><circle cx="6.43" cy="11.48" r="0.49" fill="#a8ac78"/><circle cx="6.29" cy="3.76" r="0.34" fill="#c8cca0"/><circle cx="13.24" cy="2.95" r="0.42" fill="#f8f8ee"/><circle cx="1.98" cy="7.34" r="0.49" fill="#a8ac78"/><circle cx="1.86" cy="11.48" r="0.40" fill="#c8cca0"/><circle cx="12.42" cy="9.85" r="0.35" fill="#f8f8ee"/><circle cx="12.57" cy="6.81" r="0.30" fill="#a8ac78"/><circle cx="0.05" cy="6.88" r="0.39" fill="#c8cca0"/><circle cx="4.23" cy="1.97" r="0.37" fill="#f8f8ee"/><circle cx="4.43" cy="11.76" r="0.30" fill="#a8ac78"/><circle cx="10.51" cy="11.75" r="0.32" fill="#c8cca0"/><circle cx="12.97" cy="9.98" r="0.48" fill="#f8f8ee"/><circle cx="4.06" cy="5.21" r="0.38" fill="#a8ac78"/><circle cx="13.98" cy="8.25" r="0.37" fill="#c8cca0"/><circle cx="5.99" cy="3.85" r="0.31" fill="#f8f8ee"/><circle cx="1.42" cy="11.69" r="0.36" fill="#a8ac78"/><circle cx="13.10" cy="3.49" r="0.35" fill="#c8cca0"/><circle cx="7.15" cy="2.66" r="0.37" fill="#f8f8ee"/><circle cx="13.39" cy="12.38" r="0.46" fill="#a8ac78"/><circle cx="8.83" cy="12.79" r="0.49" fill="#c8cca0"/><circle cx="7.69" cy="10.07" r="0.31" fill="#f8f8ee"/><circle cx="10.25" cy="6.31" r="0.45" fill="#a8ac78"/><circle cx="9.02" cy="4.01" r="0.31" fill="#c8cca0"/><circle cx="12.97" cy="1.78" r="0.39" fill="#f8f8ee"/><circle cx="4.81" cy="4.17" r="0.45" fill="#a8ac78"/><circle cx="13.67" cy="3.64" r="0.43" fill="#c8cca0"/><circle cx="4.21" cy="7.80" r="0.38" fill="#f8f8ee"/><circle cx="2.34" cy="2.26" r="0.34" fill="#a8ac78"/><circle cx="12.68" cy="6.96" r="0.34" fill="#c8cca0"/><circle cx="12.69" cy="13.95" r="0.39" fill="#f8f8ee"/><circle cx="1.95" cy="2.69" r="0.32" fill="#a8ac78"/><circle cx="4.79" cy="1.28" r="0.35" fill="#c8cca0"/><circle cx="3.62" cy="7.97" r="0.48" fill="#f8f8ee"/><circle cx="10.50" cy="5.78" r="0.38" fill="#a8ac78"/><circle cx="7.34" cy="5.28" r="0.37" fill="#c8cca0"/><circle cx="0.87" cy="3.89" r="0.49" fill="#f8f8ee"/><circle cx="1.76" cy="7.05" r="0.43" fill="#a8ac78"/></pattern><pattern id="s4" width="14" height="14" patternUnits="userSpaceOnUse"><rect width="14" height="14" fill="#ecedea"/><circle cx="12.08" cy="3.02" r="0.35" fill="#b0b4b0"/><circle cx="3.48" cy="5.60" r="0.39" fill="#d0d4d0"/><circle cx="13.36" cy="11.88" r="0.47" fill="#ffffff"/><circle cx="0.31" cy="0.45" r="0.44" fill="#b0b4b0"/><circle cx="12.54" cy="6.63" r="0.42" fill="#d0d4d0"/><circle cx="0.00" cy="5.48" r="0.49" fill="#ffffff"/><circle cx="11.56" cy="11.98" r="0.49" fill="#b0b4b0"/><circle cx="3.48" cy="1.53" r="0.33" fill="#d0d4d0"/><circle cx="7.31" cy="9.55" r="0.49" fill="#ffffff"/><circle cx="10.10" cy="9.06" r="0.45" fill="#b0b4b0"/><circle cx="6.40" cy="7.72" r="0.31" fill="#d0d4d0"/><circle cx="10.95" cy="3.26" r="0.48" fill="#ffffff"/><circle cx="9.04" cy="4.25" r="0.33" fill="#b0b4b0"/><circle cx="3.53" cy="8.91" r="0.44" fill="#d0d4d0"/><circle cx="1.57" cy="0.98" r="0.40" fill="#ffffff"/><circle cx="8.16" cy="5.43" r="0.34" fill="#b0b4b0"/><circle cx="8.41" cy="0.15" r="0.36" fill="#d0d4d0"/><circle cx="6.45" cy="13.43" r="0.43" fill="#ffffff"/><circle cx="12.37" cy="6.65" r="0.35" fill="#b0b4b0"/><circle cx="3.46" cy="13.45" r="0.44" fill="#d0d4d0"/><circle cx="4.30" cy="0.31" r="0.40" fill="#ffffff"/><circle cx="9.44" cy="5.88" r="0.35" fill="#b0b4b0"/><circle cx="9.34" cy="12.95" r="0.35" fill="#d0d4d0"/><circle cx="0.48" cy="4.73" r="0.38" fill="#ffffff"/><circle cx="9.56" cy="2.77" r="0.46" fill="#b0b4b0"/><circle cx="10.35" cy="7.07" r="0.34" fill="#d0d4d0"/><circle cx="13.58" cy="4.36" r="0.46" fill="#ffffff"/><circle cx="3.23" cy="3.10" r="0.45" fill="#b0b4b0"/><circle cx="4.13" cy="13.33" r="0.40" fill="#d0d4d0"/><circle cx="2.62" cy="3.13" r="0.38" fill="#ffffff"/><circle cx="9.31" cy="13.28" r="0.33" fill="#b0b4b0"/><circle cx="5.51" cy="2.98" r="0.49" fill="#d0d4d0"/><circle cx="1.99" cy="0.73" r="0.31" fill="#ffffff"/><circle cx="5.51" cy="12.57" r="0.48" fill="#b0b4b0"/><circle cx="10.26" cy="13.97" r="0.49" fill="#d0d4d0"/><circle cx="4.61" cy="2.60" r="0.49" fill="#ffffff"/><circle cx="10.45" cy="0.45" r="0.43" fill="#b0b4b0"/><circle cx="5.30" cy="5.23" r="0.37" fill="#d0d4d0"/><circle cx="2.37" cy="0.04" r="0.36" fill="#ffffff"/><circle cx="4.92" cy="13.38" r="0.32" fill="#b0b4b0"/><circle cx="13.50" cy="2.90" r="0.37" fill="#d0d4d0"/><circle cx="11.50" cy="11.51" r="0.39" fill="#ffffff"/><circle cx="0.69" cy="6.63" r="0.37" fill="#b0b4b0"/><circle cx="12.87" cy="2.70" r="0.37" fill="#d0d4d0"/><circle cx="12.56" cy="0.42" r="0.38" fill="#ffffff"/><circle cx="11.37" cy="10.73" r="0.31" fill="#b0b4b0"/><circle cx="0.49" cy="0.88" r="0.48" fill="#d0d4d0"/><circle cx="3.60" cy="10.46" r="0.48" fill="#ffffff"/><circle cx="4.75" cy="3.81" r="0.49" fill="#b0b4b0"/><circle cx="8.64" cy="3.67" r="0.44" fill="#d0d4d0"/><circle cx="4.43" cy="3.86" r="0.30" fill="#ffffff"/><circle cx="10.58" cy="12.83" r="0.43" fill="#b0b4b0"/><circle cx="13.21" cy="0.34" r="0.35" fill="#d0d4d0"/><circle cx="6.65" cy="13.39" r="0.49" fill="#ffffff"/><circle cx="5.41" cy="3.51" r="0.39" fill="#b0b4b0"/><circle cx="6.91" cy="12.99" r="0.34" fill="#d0d4d0"/><circle cx="11.24" cy="10.34" r="0.46" fill="#ffffff"/><circle cx="10.82" cy="8.50" r="0.37" fill="#b0b4b0"/><circle cx="4.47" cy="5.07" r="0.46" fill="#d0d4d0"/><circle cx="1.11" cy="2.76" r="0.45" fill="#ffffff"/><circle cx="3.46" cy="0.91" r="0.31" fill="#b0b4b0"/><circle cx="7.74" cy="4.56" r="0.50" fill="#d0d4d0"/><circle cx="12.37" cy="13.83" r="0.35" fill="#ffffff"/><circle cx="1.18" cy="1.35" r="0.40" fill="#b0b4b0"/><circle cx="9.94" cy="6.26" r="0.35" fill="#d0d4d0"/><circle cx="5.84" cy="8.68" r="0.43" fill="#ffffff"/><circle cx="10.47" cy="11.86" r="0.43" fill="#b0b4b0"/><circle cx="1.70" cy="11.77" r="0.36" fill="#d0d4d0"/><circle cx="7.94" cy="5.22" r="0.45" fill="#ffffff"/><circle cx="2.79" cy="3.46" r="0.35" fill="#b0b4b0"/></pattern><pattern id="s3" width="14" height="14" patternUnits="userSpaceOnUse"><rect width="14" height="14" fill="#f0f2d2"/><circle cx="2.15" cy="12.38" r="0.42" fill="#d0d490"/><circle cx="4.57" cy="5.54" r="0.50" fill="#e0e2b0"/><circle cx="7.10" cy="3.24" r="0.46" fill="#ffffff"/><circle cx="9.15" cy="13.87" r="0.32" fill="#d0d490"/><circle cx="6.65" cy="11.47" r="0.47" fill="#e0e2b0"/><circle cx="12.80" cy="0.57" r="0.36" fill="#ffffff"/><circle cx="1.67" cy="2.65" r="0.49" fill="#d0d490"/><circle cx="8.16" cy="13.02" r="0.37" fill="#e0e2b0"/><circle cx="12.13" cy="6.29" r="0.35" fill="#ffffff"/><circle cx="10.89" cy="13.24" r="0.32" fill="#d0d490"/><circle cx="8.35" cy="8.68" r="0.34" fill="#e0e2b0"/><circle cx="5.16" cy="1.98" r="0.34" fill="#ffffff"/><circle cx="3.57" cy="8.39" r="0.43" fill="#d0d490"/><circle cx="2.85" cy="0.16" r="0.37" fill="#e0e2b0"/><circle cx="9.50" cy="2.59" r="0.36" fill="#ffffff"/><circle cx="2.85" cy="11.13" r="0.41" fill="#d0d490"/><circle cx="0.89" cy="1.42" r="0.38" fill="#e0e2b0"/><circle cx="7.70" cy="8.95" r="0.32" fill="#ffffff"/><circle cx="2.29" cy="9.74" r="0.38" fill="#d0d490"/><circle cx="3.97" cy="4.31" r="0.49" fill="#e0e2b0"/><circle cx="4.37" cy="7.93" r="0.37" fill="#ffffff"/><circle cx="5.83" cy="12.10" r="0.50" fill="#d0d490"/><circle cx="5.09" cy="2.76" r="0.45" fill="#e0e2b0"/><circle cx="2.85" cy="0.08" r="0.48" fill="#ffffff"/><circle cx="5.93" cy="11.49" r="0.38" fill="#d0d490"/><circle cx="12.36" cy="6.45" r="0.33" fill="#e0e2b0"/><circle cx="0.21" cy="7.72" r="0.43" fill="#ffffff"/><circle cx="12.74" cy="1.25" r="0.42" fill="#d0d490"/><circle cx="5.19" cy="7.06" r="0.33" fill="#e0e2b0"/><circle cx="3.97" cy="7.30" r="0.49" fill="#ffffff"/><circle cx="1.52" cy="6.87" r="0.46" fill="#d0d490"/><circle cx="13.54" cy="2.76" r="0.33" fill="#e0e2b0"/><circle cx="13.20" cy="13.66" r="0.40" fill="#ffffff"/><circle cx="0.75" cy="12.97" r="0.38" fill="#d0d490"/><circle cx="12.66" cy="8.68" r="0.46" fill="#e0e2b0"/><circle cx="2.24" cy="11.00" r="0.34" fill="#ffffff"/><circle cx="5.66" cy="11.85" r="0.47" fill="#d0d490"/><circle cx="2.56" cy="3.05" r="0.38" fill="#e0e2b0"/><circle cx="7.25" cy="5.37" r="0.32" fill="#ffffff"/><circle cx="3.46" cy="10.15" r="0.48" fill="#d0d490"/><circle cx="0.58" cy="7.87" r="0.45" fill="#e0e2b0"/><circle cx="0.53" cy="11.73" r="0.32" fill="#ffffff"/><circle cx="8.39" cy="7.70" r="0.43" fill="#d0d490"/><circle cx="4.29" cy="5.88" r="0.42" fill="#e0e2b0"/><circle cx="5.96" cy="9.22" r="0.39" fill="#ffffff"/><circle cx="6.14" cy="0.33" r="0.42" fill="#d0d490"/><circle cx="6.85" cy="3.29" r="0.45" fill="#e0e2b0"/><circle cx="10.92" cy="6.42" r="0.34" fill="#ffffff"/><circle cx="6.63" cy="1.50" r="0.33" fill="#d0d490"/><circle cx="6.03" cy="1.28" r="0.39" fill="#e0e2b0"/><circle cx="7.14" cy="0.57" r="0.43" fill="#ffffff"/><circle cx="1.15" cy="10.27" r="0.46" fill="#d0d490"/><circle cx="7.16" cy="0.76" r="0.40" fill="#e0e2b0"/><circle cx="5.29" cy="13.31" r="0.33" fill="#ffffff"/><circle cx="12.00" cy="13.95" r="0.45" fill="#d0d490"/><circle cx="11.41" cy="2.71" r="0.50" fill="#e0e2b0"/><circle cx="6.89" cy="13.39" r="0.48" fill="#ffffff"/><circle cx="2.31" cy="11.04" r="0.49" fill="#d0d490"/><circle cx="0.92" cy="4.91" r="0.45" fill="#e0e2b0"/><circle cx="2.22" cy="12.55" r="0.35" fill="#ffffff"/><circle cx="11.42" cy="2.01" r="0.40" fill="#d0d490"/><circle cx="12.88" cy="2.92" r="0.35" fill="#e0e2b0"/><circle cx="7.08" cy="4.47" r="0.31" fill="#ffffff"/><circle cx="2.55" cy="2.26" r="0.49" fill="#d0d490"/><circle cx="9.52" cy="12.54" r="0.33" fill="#e0e2b0"/><circle cx="10.99" cy="1.61" r="0.41" fill="#ffffff"/><circle cx="8.91" cy="5.04" r="0.47" fill="#d0d490"/><circle cx="7.77" cy="8.12" r="0.48" fill="#e0e2b0"/><circle cx="1.46" cy="13.90" r="0.43" fill="#ffffff"/><circle cx="5.52" cy="11.17" r="0.35" fill="#d0d490"/></pattern><pattern id="s5" width="14" height="14" patternUnits="userSpaceOnUse"><rect width="14" height="14" fill="#e8dedc"/><circle cx="13.87" cy="8.08" r="0.37" fill="#a08078"/><circle cx="10.70" cy="6.19" r="0.34" fill="#c8b4b0"/><circle cx="10.41" cy="0.68" r="0.46" fill="#ffffff"/><circle cx="3.55" cy="8.95" r="0.50" fill="#a08078"/><circle cx="8.20" cy="9.29" r="0.36" fill="#c8b4b0"/><circle cx="0.03" cy="0.47" r="0.33" fill="#ffffff"/><circle cx="8.62" cy="6.05" r="0.40" fill="#a08078"/><circle cx="12.54" cy="1.85" r="0.35" fill="#c8b4b0"/><circle cx="9.14" cy="0.31" r="0.30" fill="#ffffff"/><circle cx="4.97" cy="1.49" r="0.37" fill="#a08078"/><circle cx="3.14" cy="8.17" r="0.42" fill="#c8b4b0"/><circle cx="2.86" cy="8.74" r="0.39" fill="#ffffff"/><circle cx="1.89" cy="13.11" r="0.35" fill="#a08078"/><circle cx="2.09" cy="1.34" r="0.43" fill="#c8b4b0"/><circle cx="12.20" cy="10.95" r="0.38" fill="#ffffff"/><circle cx="3.70" cy="0.16" r="0.43" fill="#a08078"/><circle cx="7.87" cy="4.90" r="0.43" fill="#c8b4b0"/><circle cx="6.21" cy="13.12" r="0.45" fill="#ffffff"/><circle cx="3.48" cy="12.65" r="0.31" fill="#a08078"/><circle cx="7.44" cy="5.68" r="0.35" fill="#c8b4b0"/><circle cx="0.82" cy="10.90" r="0.30" fill="#ffffff"/><circle cx="7.71" cy="13.17" r="0.33" fill="#a08078"/><circle cx="2.79" cy="8.51" r="0.40" fill="#c8b4b0"/><circle cx="8.98" cy="11.39" r="0.33" fill="#ffffff"/><circle cx="4.33" cy="4.20" r="0.31" fill="#a08078"/><circle cx="12.45" cy="10.96" r="0.44" fill="#c8b4b0"/><circle cx="0.09" cy="11.82" r="0.45" fill="#ffffff"/><circle cx="6.51" cy="10.38" r="0.39" fill="#a08078"/><circle cx="3.16" cy="1.47" r="0.35" fill="#c8b4b0"/><circle cx="0.54" cy="4.70" r="0.45" fill="#ffffff"/><circle cx="9.73" cy="11.83" r="0.44" fill="#a08078"/><circle cx="3.72" cy="7.75" r="0.39" fill="#c8b4b0"/><circle cx="11.04" cy="7.33" r="0.35" fill="#ffffff"/><circle cx="8.99" cy="13.51" r="0.34" fill="#a08078"/><circle cx="12.32" cy="0.21" r="0.35" fill="#c8b4b0"/><circle cx="3.31" cy="10.41" r="0.49" fill="#ffffff"/><circle cx="10.45" cy="4.58" r="0.48" fill="#a08078"/><circle cx="4.60" cy="3.35" r="0.48" fill="#c8b4b0"/><circle cx="8.83" cy="9.70" r="0.43" fill="#ffffff"/><circle cx="13.71" cy="6.57" r="0.47" fill="#a08078"/><circle cx="9.77" cy="12.01" r="0.39" fill="#c8b4b0"/><circle cx="10.14" cy="7.98" r="0.36" fill="#ffffff"/><circle cx="2.97" cy="8.72" r="0.32" fill="#a08078"/><circle cx="12.75" cy="2.02" r="0.31" fill="#c8b4b0"/><circle cx="1.49" cy="13.01" r="0.37" fill="#ffffff"/><circle cx="1.99" cy="0.40" r="0.31" fill="#a08078"/><circle cx="9.70" cy="8.87" r="0.44" fill="#c8b4b0"/><circle cx="10.31" cy="0.92" r="0.42" fill="#ffffff"/><circle cx="5.09" cy="11.45" r="0.46" fill="#a08078"/><circle cx="12.48" cy="0.92" r="0.47" fill="#c8b4b0"/><circle cx="12.80" cy="13.22" r="0.32" fill="#ffffff"/><circle cx="2.88" cy="1.57" r="0.31" fill="#a08078"/><circle cx="11.87" cy="11.37" r="0.43" fill="#c8b4b0"/><circle cx="11.55" cy="8.84" r="0.36" fill="#ffffff"/><circle cx="1.40" cy="1.37" r="0.45" fill="#a08078"/><circle cx="2.87" cy="4.47" r="0.38" fill="#c8b4b0"/><circle cx="0.29" cy="3.59" r="0.36" fill="#ffffff"/><circle cx="10.02" cy="5.15" r="0.36" fill="#a08078"/><circle cx="13.50" cy="7.05" r="0.47" fill="#c8b4b0"/><circle cx="8.66" cy="0.43" r="0.38" fill="#ffffff"/><circle cx="6.11" cy="10.82" r="0.37" fill="#a08078"/><circle cx="9.87" cy="7.53" r="0.34" fill="#c8b4b0"/><circle cx="12.07" cy="1.27" r="0.46" fill="#ffffff"/><circle cx="2.39" cy="0.02" r="0.34" fill="#a08078"/><circle cx="10.67" cy="13.69" r="0.30" fill="#c8b4b0"/><circle cx="6.87" cy="6.88" r="0.46" fill="#ffffff"/><circle cx="2.58" cy="6.92" r="0.37" fill="#a08078"/><circle cx="11.65" cy="3.65" r="0.49" fill="#c8b4b0"/><circle cx="3.97" cy="3.01" r="0.44" fill="#ffffff"/><circle cx="6.98" cy="1.54" r="0.43" fill="#a08078"/></pattern></defs>
<path d="M51.10,561.40 C50.85,560.67 53.53,559.42 54.80,559.40 C56.07,559.38 57.42,560.17 58.70,561.30 C59.98,562.43 61.55,564.43 62.50,566.20 C63.45,567.97 63.60,570.30 64.40,571.90 C65.20,573.50 67.03,574.37 67.30,575.80 C67.57,577.23 66.80,578.90 66.00,580.50 C65.20,582.10 63.32,584.27 62.50,585.40 C61.68,586.53 61.07,588.05 61.10,587.30 C61.13,586.55 62.43,583.17 62.70,580.90 C62.97,578.63 63.10,575.83 62.70,573.70 C62.30,571.57 61.37,569.75 60.30,568.10 C59.23,566.45 57.83,564.92 56.30,563.80 C54.77,562.68 51.35,562.13 51.10,561.40Z" fill="#dfe2f2"/>
<path d="M51.40,557.50 C51.23,556.70 52.58,555.48 53.80,554.60 C55.02,553.72 56.93,552.75 58.70,552.20 C60.47,551.65 62.65,551.22 64.40,551.30 C66.15,551.38 67.92,551.98 69.20,552.70 C70.48,553.42 70.82,554.72 72.10,555.60 C73.38,556.48 75.13,557.12 76.90,558.00 C78.67,558.88 81.02,559.87 82.70,560.90 C84.38,561.93 85.97,562.85 87.00,564.20 C88.03,565.55 88.73,567.47 88.90,569.00 C89.07,570.53 88.87,572.12 88.00,573.40 C87.13,574.68 85.38,575.90 83.70,576.70 C82.02,577.50 79.83,578.03 77.90,578.20 C75.97,578.37 73.87,578.10 72.10,577.70 C70.33,577.30 68.58,576.77 67.30,575.80 C66.02,574.83 65.20,573.50 64.40,571.90 C63.60,570.30 63.45,567.97 62.50,566.20 C61.55,564.43 59.98,562.43 58.70,561.30 C57.42,560.17 56.02,560.03 54.80,559.40 C53.58,558.77 51.57,558.30 51.40,557.50Z" fill="url(#s2)" stroke="#333" stroke-width="0.65" stroke-dasharray="1.1 0.8"/>
<path d="M51.40,557.50 C51.23,556.70 52.58,555.48 53.80,554.60 C55.02,553.72 56.93,552.75 58.70,552.20 C60.47,551.65 62.65,551.22 64.40,551.30 C66.15,551.38 67.92,551.98 69.20,552.70 C70.48,553.42 72.05,554.58 72.10,555.60 C72.15,556.62 70.60,557.77 69.50,558.80 C68.40,559.83 66.75,560.97 65.50,561.80 C64.25,562.63 63.13,563.88 62.00,563.80 C60.87,563.72 59.90,562.03 58.70,561.30 C57.50,560.57 56.02,560.03 54.80,559.40 C53.58,558.77 51.57,558.30 51.40,557.50Z" fill="url(#s4)"/>
<path d="M51.10,561.40 C52.82,561.40 54.77,562.68 56.30,563.80 C57.83,564.92 59.23,566.45 60.30,568.10 C61.37,569.75 62.30,571.57 62.70,573.70 C63.10,575.83 62.97,578.63 62.70,580.90 C62.43,583.17 62.03,585.30 61.10,587.30 C60.17,589.30 58.70,591.50 57.10,592.90 C55.50,594.30 53.48,595.30 51.50,595.70 C49.52,596.10 47.18,595.90 45.20,595.30 C43.22,594.70 41.13,593.57 39.60,592.10 C38.07,590.63 36.73,588.50 36.00,586.50 C35.27,584.50 35.07,582.23 35.20,580.10 C35.33,577.97 35.80,575.70 36.80,573.70 C37.80,571.70 39.67,569.75 41.20,568.10 C42.73,566.45 44.35,564.92 46.00,563.80 C47.65,562.68 49.38,561.40 51.10,561.40Z" fill="url(#s0)" stroke="#333" stroke-width="0.65" stroke-dasharray="1.1 0.8"/>
<path d="M62.50,585.40 C63.62,584.35 65.03,582.88 66.80,582.00 C68.57,581.12 70.77,580.50 73.10,580.10 C75.43,579.70 78.23,579.52 80.80,579.60 C83.37,579.68 86.27,580.12 88.50,580.60 C90.73,581.08 92.68,581.55 94.20,582.50 C95.72,583.45 97.03,584.53 97.60,586.30 C98.17,588.07 98.00,590.85 97.60,593.10 C97.20,595.35 96.40,597.88 95.20,599.80 C94.00,601.72 92.48,603.48 90.40,604.60 C88.32,605.72 85.27,606.33 82.70,606.50 C80.13,606.67 77.40,606.23 75.00,605.60 C72.60,604.97 70.38,603.90 68.30,602.70 C66.22,601.50 63.87,600.00 62.50,598.40 C61.13,596.80 60.50,594.78 60.10,593.10 C59.70,591.42 59.70,589.58 60.10,588.30 C60.50,587.02 61.38,586.45 62.50,585.40Z" fill="url(#s1)" stroke="#333" stroke-width="0.65" stroke-dasharray="1.1 0.8"/>
<path d="M45.40,604.40 C46.20,603.57 48.35,602.42 49.80,602.30 C51.25,602.18 53.15,602.62 54.10,603.70 C55.05,604.78 55.62,607.12 55.50,608.80 C55.38,610.48 54.48,612.85 53.40,613.80 C52.32,614.75 50.25,614.87 49.00,614.50 C47.75,614.13 46.57,612.80 45.90,611.60 C45.23,610.40 45.08,608.50 45.00,607.30 C44.92,606.10 44.60,605.23 45.40,604.40Z" fill="url(#s5)" stroke="#333" stroke-width="0.65" stroke-dasharray="1.1 0.8"/>
<path d="M61.00,612.80 C61.67,611.25 62.80,609.47 64.60,608.50 C66.40,607.53 69.52,607.00 71.80,607.00 C74.08,607.00 76.97,607.30 78.30,608.50 C79.63,609.70 79.92,612.05 79.80,614.20 C79.68,616.35 79.17,619.72 77.60,621.40 C76.03,623.08 72.68,624.05 70.40,624.30 C68.12,624.55 65.53,623.98 63.90,622.90 C62.27,621.82 61.08,619.48 60.60,617.80 C60.12,616.12 60.33,614.35 61.00,612.80Z" fill="url(#s3)" stroke="#333" stroke-width="0.65" stroke-dasharray="1.1 0.8"/>
<text x="62.50" y="559.00" font-size="6.6" text-anchor="middle" fill="#444">4</text>
<text x="75.20" y="572.70" font-size="6.6" text-anchor="middle" fill="#3a3a20">2</text>
<text x="51.30" y="582.20" font-size="6.6" text-anchor="middle" fill="#1a2060">0</text>
<text x="80.30" y="594.30" font-size="6.6" text-anchor="middle" fill="#601020">1</text>
<text x="49.80" y="612.40" font-size="6.6" text-anchor="middle" fill="#402820">5</text>
<text x="68.90" y="615.70" font-size="6.6" text-anchor="middle" fill="#444">3</text>
<text x="84.80" y="551.90" font-size="6.6" textLength="26.60" lengthAdjust="spacingAndGlyphs">BCL2A1+</text>
<text x="84.80" y="559.20" font-size="6.6" textLength="24.70" lengthAdjust="spacingAndGlyphs">MCL1++</text>
<text x="22.40" y="602.30" font-size="6.6" textLength="25.20" lengthAdjust="spacingAndGlyphs">MCL1++</text>
<text x="91.50" y="609.40" font-size="6.6" textLength="31.50" lengthAdjust="spacingAndGlyphs">BCL2A1++</text>
<text x="91.50" y="617.00" font-size="6.6" textLength="25.00" lengthAdjust="spacingAndGlyphs">MCL1++</text>
<text x="75.80" y="625.40" font-size="6.6" textLength="26.90" lengthAdjust="spacingAndGlyphs">BCL2A1+</text>
<text x="75.80" y="633.00" font-size="6.6" textLength="25.00" lengthAdjust="spacingAndGlyphs">MCL1++</text>
<text x="117.20" y="563.00" font-size="6.8" textLength="21.30" lengthAdjust="spacingAndGlyphs">Identity</text>
<circle cx="124.9" cy="570.10" r="1.9" fill="#3b49ad"/>
<text x="129.30" y="572.50" font-size="6.8">0</text>
<circle cx="124.9" cy="578.32" r="1.9" fill="#c84a58"/>
<text x="129.30" y="580.72" font-size="6.8">1</text>
<circle cx="124.9" cy="586.54" r="1.9" fill="#7b7852"/>
<text x="129.30" y="588.94" font-size="6.8">2</text>
<circle cx="124.9" cy="594.76" r="1.9" fill="#d9d98f"/>
<text x="129.30" y="597.16" font-size="6.8">3</text>
<circle cx="124.9" cy="602.98" r="1.9" fill="#929c98"/>
<text x="129.30" y="605.38" font-size="6.8">4</text>
<circle cx="124.9" cy="611.20" r="1.9" fill="#7a6052"/>
<text x="129.30" y="613.60" font-size="6.8">5</text>
<line x1="10.40" y1="647.00" x2="10.40" y2="626.00" stroke="#111" stroke-width="0.9"/>
<line x1="10.00" y1="647.00" x2="38.50" y2="647.00" stroke="#111" stroke-width="0.9"/>
<path d="M10.4,622.6 L8.6,626.6 L12.2,626.6Z" fill="#111"/>
<path d="M41.3,647 L37.3,645.2 L37.3,648.8Z" fill="#111"/>
<text x="13.60" y="607.00" font-size="6.8" text-anchor="middle" textLength="25.30" lengthAdjust="spacingAndGlyphs" transform="rotate(-90 13.60 607.00)">UMAP_2</text>
<text x="44.70" y="649.10" font-size="6.8" textLength="25.30" lengthAdjust="spacingAndGlyphs">UMAP_1</text>
<line x1="166.60" y1="523.00" x2="166.60" y2="539.60" stroke="#222" stroke-width="1.0"/>
<line x1="166.10" y1="539.10" x2="230.00" y2="539.10" stroke="#222" stroke-width="1.1"/>
<line x1="163.80" y1="526.40" x2="166.60" y2="526.40" stroke="#222" stroke-width="0.8"/>
<line x1="163.80" y1="529.90" x2="166.60" y2="529.90" stroke="#222" stroke-width="0.8"/>
<line x1="163.80" y1="533.40" x2="166.60" y2="533.40" stroke="#222" stroke-width="0.8"/>
<line x1="163.80" y1="536.90" x2="166.60" y2="536.90" stroke="#222" stroke-width="0.8"/>
<text x="161.40" y="528.70" font-size="6.8" text-anchor="end">0.2</text>
<text x="161.40" y="535.70" font-size="6.8" text-anchor="end">0.0</text>
<line x1="172.30" y1="539.10" x2="172.30" y2="541.50" stroke="#222" stroke-width="0.8"/>
<text x="172.30" y="550.30" font-size="7.2" text-anchor="middle">0</text>
<line x1="182.70" y1="539.10" x2="182.70" y2="541.50" stroke="#222" stroke-width="0.8"/>
<text x="182.70" y="550.30" font-size="7.2" text-anchor="middle">1</text>
<line x1="193.80" y1="539.10" x2="193.80" y2="541.50" stroke="#222" stroke-width="0.8"/>
<text x="193.80" y="550.30" font-size="7.2" text-anchor="middle">2</text>
<line x1="204.20" y1="539.10" x2="204.20" y2="541.50" stroke="#222" stroke-width="0.8"/>
<text x="204.20" y="550.30" font-size="7.2" text-anchor="middle">3</text>
<line x1="214.60" y1="539.10" x2="214.60" y2="541.50" stroke="#222" stroke-width="0.8"/>
<text x="214.60" y="550.30" font-size="7.2" text-anchor="middle">4</text>
<line x1="225.50" y1="539.10" x2="225.50" y2="541.50" stroke="#222" stroke-width="0.8"/>
<text x="225.50" y="550.30" font-size="7.2" text-anchor="middle">5</text>
<text x="173.60" y="520.40" font-size="6.6" textLength="51.90" lengthAdjust="spacingAndGlyphs">1q21 (MCL1) amp</text>
<line x1="172.30" y1="525.60" x2="172.30" y2="531.00" stroke="#3b49b0" stroke-width="0.7" opacity="0.6"/>
<path d="M172.30,529.80 L172.48,530.03 L172.71,530.26 L172.96,530.49 L173.23,530.71 L173.52,530.94 L173.82,531.17 L174.13,531.40 L174.45,531.63 L174.77,531.86 L175.10,532.09 L175.44,532.31 L175.79,532.54 L176.14,532.77 L176.50,533.00 L176.26,533.25 L176.01,533.50 L175.76,533.75 L175.51,534.00 L175.25,534.25 L174.98,534.50 L174.71,534.75 L174.43,535.00 L174.14,535.25 L173.84,535.50 L173.52,535.75 L173.19,536.00 L172.81,536.25 L172.30,536.50 L172.30,536.50 L171.79,536.25 L171.41,536.00 L171.08,535.75 L170.76,535.50 L170.46,535.25 L170.17,535.00 L169.89,534.75 L169.62,534.50 L169.35,534.25 L169.09,534.00 L168.84,533.75 L168.59,533.50 L168.34,533.25 L168.10,533.00 L168.46,532.77 L168.81,532.54 L169.16,532.31 L169.50,532.09 L169.83,531.86 L170.15,531.63 L170.47,531.40 L170.78,531.17 L171.08,530.94 L171.37,530.71 L171.64,530.49 L171.89,530.26 L172.12,530.03 L172.30,529.80Z" fill="#3b49b0"/>
<line x1="182.70" y1="526.50" x2="182.70" y2="531.00" stroke="#d03a4a" stroke-width="0.7" opacity="0.6"/>
<path d="M182.70,529.80 L182.87,530.03 L183.09,530.26 L183.33,530.49 L183.59,530.71 L183.86,530.94 L184.15,531.17 L184.44,531.40 L184.74,531.63 L185.05,531.86 L185.37,532.09 L185.69,532.31 L186.02,532.54 L186.36,532.77 L186.70,533.00 L186.47,533.24 L186.24,533.47 L186.00,533.71 L185.76,533.94 L185.51,534.18 L185.26,534.41 L185.00,534.65 L184.73,534.89 L184.46,535.12 L184.17,535.36 L183.87,535.59 L183.54,535.83 L183.18,536.06 L182.70,536.30 L182.70,536.30 L182.22,536.06 L181.86,535.83 L181.53,535.59 L181.23,535.36 L180.94,535.12 L180.67,534.89 L180.40,534.65 L180.14,534.41 L179.89,534.18 L179.64,533.94 L179.40,533.71 L179.16,533.47 L178.93,533.24 L178.70,533.00 L179.04,532.77 L179.38,532.54 L179.71,532.31 L180.03,532.09 L180.35,531.86 L180.66,531.63 L180.96,531.40 L181.25,531.17 L181.54,530.94 L181.81,530.71 L182.07,530.49 L182.31,530.26 L182.53,530.03 L182.70,529.80Z" fill="#d03a4a"/>
<line x1="193.80" y1="527.50" x2="193.80" y2="531.00" stroke="#6f6f4a" stroke-width="0.7" opacity="0.6"/>
<path d="M193.80,529.80 L193.98,530.00 L194.21,530.20 L194.46,530.40 L194.73,530.60 L195.02,530.80 L195.32,531.00 L195.63,531.20 L195.95,531.40 L196.27,531.60 L196.60,531.80 L196.94,532.00 L197.29,532.20 L197.64,532.40 L198.00,532.60 L197.76,532.84 L197.51,533.09 L197.26,533.33 L197.01,533.57 L196.75,533.81 L196.48,534.06 L196.21,534.30 L195.93,534.54 L195.64,534.79 L195.34,535.03 L195.02,535.27 L194.69,535.51 L194.31,535.76 L193.80,536.00 L193.80,536.00 L193.29,535.76 L192.91,535.51 L192.58,535.27 L192.26,535.03 L191.96,534.79 L191.67,534.54 L191.39,534.30 L191.12,534.06 L190.85,533.81 L190.59,533.57 L190.34,533.33 L190.09,533.09 L189.84,532.84 L189.60,532.60 L189.96,532.40 L190.31,532.20 L190.66,532.00 L191.00,531.80 L191.33,531.60 L191.65,531.40 L191.97,531.20 L192.28,531.00 L192.58,530.80 L192.87,530.60 L193.14,530.40 L193.39,530.20 L193.62,530.00 L193.80,529.80Z" fill="#6f6f4a"/>
<line x1="204.20" y1="528.50" x2="204.20" y2="531.00" stroke="#c8d98c" stroke-width="0.7" opacity="0.6"/>
<path d="M204.20,529.80 L204.38,530.04 L204.62,530.29 L204.88,530.53 L205.16,530.77 L205.45,531.01 L205.76,531.26 L206.07,531.50 L206.40,531.74 L206.73,531.99 L207.07,532.23 L207.42,532.47 L207.77,532.71 L208.13,532.96 L208.50,533.20 L208.25,533.44 L208.00,533.67 L207.75,533.91 L207.49,534.14 L207.22,534.38 L206.95,534.61 L206.67,534.85 L206.38,535.09 L206.09,535.32 L205.78,535.56 L205.45,535.79 L205.11,536.03 L204.72,536.26 L204.20,536.50 L204.20,536.50 L203.68,536.26 L203.29,536.03 L202.95,535.79 L202.62,535.56 L202.31,535.32 L202.02,535.09 L201.73,534.85 L201.45,534.61 L201.18,534.38 L200.91,534.14 L200.65,533.91 L200.40,533.67 L200.15,533.44 L199.90,533.20 L200.27,532.96 L200.63,532.71 L200.98,532.47 L201.33,532.23 L201.67,531.99 L202.00,531.74 L202.33,531.50 L202.64,531.26 L202.95,531.01 L203.24,530.77 L203.52,530.53 L203.78,530.29 L204.02,530.04 L204.20,529.80Z" fill="#c8d98c"/>
<line x1="214.60" y1="527.00" x2="214.60" y2="531.00" stroke="#7f9474" stroke-width="0.7" opacity="0.6"/>
<path d="M214.60,529.80 L214.77,530.03 L214.99,530.26 L215.23,530.49 L215.49,530.71 L215.76,530.94 L216.05,531.17 L216.34,531.40 L216.64,531.63 L216.95,531.86 L217.27,532.09 L217.59,532.31 L217.92,532.54 L218.26,532.77 L218.60,533.00 L218.37,533.24 L218.14,533.47 L217.90,533.71 L217.66,533.94 L217.41,534.18 L217.16,534.41 L216.90,534.65 L216.63,534.89 L216.36,535.12 L216.07,535.36 L215.77,535.59 L215.44,535.83 L215.08,536.06 L214.60,536.30 L214.60,536.30 L214.12,536.06 L213.76,535.83 L213.43,535.59 L213.13,535.36 L212.84,535.12 L212.57,534.89 L212.30,534.65 L212.04,534.41 L211.79,534.18 L211.54,533.94 L211.30,533.71 L211.06,533.47 L210.83,533.24 L210.60,533.00 L210.94,532.77 L211.28,532.54 L211.61,532.31 L211.93,532.09 L212.25,531.86 L212.56,531.63 L212.86,531.40 L213.15,531.17 L213.44,530.94 L213.71,530.71 L213.97,530.49 L214.21,530.26 L214.43,530.03 L214.60,529.80Z" fill="#7f9474"/>
<line x1="225.50" y1="528.50" x2="225.50" y2="531.00" stroke="#7b5a52" stroke-width="0.7" opacity="0.6"/>
<path d="M225.50,529.80 L225.67,530.04 L225.89,530.29 L226.13,530.53 L226.39,530.77 L226.66,531.01 L226.95,531.26 L227.24,531.50 L227.54,531.74 L227.85,531.99 L228.17,532.23 L228.49,532.47 L228.82,532.71 L229.16,532.96 L229.50,533.20 L229.27,533.42 L229.04,533.64 L228.80,533.86 L228.56,534.09 L228.31,534.31 L228.06,534.53 L227.80,534.75 L227.53,534.97 L227.26,535.19 L226.97,535.41 L226.67,535.64 L226.34,535.86 L225.98,536.08 L225.50,536.30 L225.50,536.30 L225.02,536.08 L224.66,535.86 L224.33,535.64 L224.03,535.41 L223.74,535.19 L223.47,534.97 L223.20,534.75 L222.94,534.53 L222.69,534.31 L222.44,534.09 L222.20,533.86 L221.96,533.64 L221.73,533.42 L221.50,533.20 L221.84,532.96 L222.18,532.71 L222.51,532.47 L222.83,532.23 L223.15,531.99 L223.46,531.74 L223.76,531.50 L224.05,531.26 L224.34,531.01 L224.61,530.77 L224.87,530.53 L225.11,530.29 L225.33,530.04 L225.50,529.80Z" fill="#7b5a52"/>
<line x1="166.60" y1="565.50" x2="166.60" y2="582.90" stroke="#222" stroke-width="1.0"/>
<line x1="166.10" y1="582.40" x2="230.00" y2="582.40" stroke="#222" stroke-width="1.1"/>
<line x1="163.80" y1="570.30" x2="166.60" y2="570.30" stroke="#222" stroke-width="0.8"/>
<line x1="163.80" y1="572.90" x2="166.60" y2="572.90" stroke="#222" stroke-width="0.8"/>
<line x1="163.80" y1="575.50" x2="166.60" y2="575.50" stroke="#222" stroke-width="0.8"/>
<line x1="163.80" y1="578.10" x2="166.60" y2="578.10" stroke="#222" stroke-width="0.8"/>
<line x1="163.80" y1="580.70" x2="166.60" y2="580.70" stroke="#222" stroke-width="0.8"/>
<text x="160.60" y="570.30" font-size="6.4" text-anchor="middle" transform="rotate(-90 160.60 570.30)">4</text>
<text x="160.60" y="575.50" font-size="6.4" text-anchor="middle" transform="rotate(-90 160.60 575.50)">2</text>
<text x="160.60" y="580.70" font-size="6.4" text-anchor="middle" transform="rotate(-90 160.60 580.70)">0</text>
<line x1="172.30" y1="582.40" x2="172.30" y2="584.80" stroke="#222" stroke-width="0.8"/>
<text x="172.30" y="593.60" font-size="7.2" text-anchor="middle">0</text>
<line x1="182.70" y1="582.40" x2="182.70" y2="584.80" stroke="#222" stroke-width="0.8"/>
<text x="182.70" y="593.60" font-size="7.2" text-anchor="middle">1</text>
<line x1="193.80" y1="582.40" x2="193.80" y2="584.80" stroke="#222" stroke-width="0.8"/>
<text x="193.80" y="593.60" font-size="7.2" text-anchor="middle">2</text>
<line x1="204.20" y1="582.40" x2="204.20" y2="584.80" stroke="#222" stroke-width="0.8"/>
<text x="204.20" y="593.60" font-size="7.2" text-anchor="middle">3</text>
<line x1="214.60" y1="582.40" x2="214.60" y2="584.80" stroke="#222" stroke-width="0.8"/>
<text x="214.60" y="593.60" font-size="7.2" text-anchor="middle">4</text>
<line x1="225.50" y1="582.40" x2="225.50" y2="584.80" stroke="#222" stroke-width="0.8"/>
<text x="225.50" y="593.60" font-size="7.2" text-anchor="middle">5</text>
<text x="190.90" y="561.70" font-size="6.6" textLength="15.00" lengthAdjust="spacingAndGlyphs">MCL1</text>
<path d="M172.30,568.30 L172.38,568.86 L172.53,569.41 L172.73,569.97 L172.96,570.53 L173.22,571.09 L173.51,571.64 L173.82,572.20 L174.16,572.76 L174.52,573.31 L174.90,573.87 L175.29,574.43 L175.71,574.99 L176.15,575.54 L176.60,576.10 L176.35,576.45 L176.10,576.80 L175.85,577.15 L175.59,577.50 L175.32,577.85 L175.05,578.20 L174.77,578.55 L174.48,578.90 L174.19,579.25 L173.88,579.60 L173.55,579.95 L173.21,580.30 L172.82,580.65 L172.30,581.00 L172.30,581.00 L171.78,580.65 L171.39,580.30 L171.05,579.95 L170.72,579.60 L170.41,579.25 L170.12,578.90 L169.83,578.55 L169.55,578.20 L169.28,577.85 L169.01,577.50 L168.75,577.15 L168.50,576.80 L168.25,576.45 L168.00,576.10 L168.45,575.54 L168.89,574.99 L169.31,574.43 L169.70,573.87 L170.08,573.31 L170.44,572.76 L170.78,572.20 L171.09,571.64 L171.38,571.09 L171.64,570.53 L171.87,569.97 L172.07,569.41 L172.22,568.86 L172.30,568.30Z" fill="#3b49b0"/>
<line x1="172.30" y1="580.00" x2="172.30" y2="582.40" stroke="#3b49b0" stroke-width="0.8"/>
<path d="M182.70,569.00 L182.79,569.49 L182.96,569.97 L183.18,570.46 L183.43,570.94 L183.72,571.43 L184.05,571.91 L184.40,572.40 L184.77,572.89 L185.17,573.37 L185.60,573.86 L186.04,574.34 L186.51,574.83 L187.00,575.31 L187.50,575.80 L187.22,576.17 L186.94,576.54 L186.66,576.91 L186.37,577.29 L186.07,577.66 L185.77,578.03 L185.46,578.40 L185.14,578.77 L184.81,579.14 L184.46,579.51 L184.10,579.89 L183.71,580.26 L183.28,580.63 L182.70,581.00 L182.70,581.00 L182.12,580.63 L181.69,580.26 L181.30,579.89 L180.94,579.51 L180.59,579.14 L180.26,578.77 L179.94,578.40 L179.63,578.03 L179.33,577.66 L179.03,577.29 L178.74,576.91 L178.46,576.54 L178.18,576.17 L177.90,575.80 L178.40,575.31 L178.89,574.83 L179.36,574.34 L179.80,573.86 L180.23,573.37 L180.63,572.89 L181.00,572.40 L181.35,571.91 L181.68,571.43 L181.97,570.94 L182.22,570.46 L182.44,569.97 L182.61,569.49 L182.70,569.00Z" fill="#d03a4a"/>
<line x1="182.70" y1="580.00" x2="182.70" y2="582.40" stroke="#d03a4a" stroke-width="0.8"/>
<path d="M193.80,569.00 L193.89,569.49 L194.06,569.97 L194.28,570.46 L194.53,570.94 L194.82,571.43 L195.15,571.91 L195.50,572.40 L195.87,572.89 L196.27,573.37 L196.70,573.86 L197.14,574.34 L197.61,574.83 L198.10,575.31 L198.60,575.80 L198.32,576.17 L198.04,576.54 L197.76,576.91 L197.47,577.29 L197.17,577.66 L196.87,578.03 L196.56,578.40 L196.24,578.77 L195.91,579.14 L195.56,579.51 L195.20,579.89 L194.81,580.26 L194.38,580.63 L193.80,581.00 L193.80,581.00 L193.22,580.63 L192.79,580.26 L192.40,579.89 L192.04,579.51 L191.69,579.14 L191.36,578.77 L191.04,578.40 L190.73,578.03 L190.43,577.66 L190.13,577.29 L189.84,576.91 L189.56,576.54 L189.28,576.17 L189.00,575.80 L189.50,575.31 L189.99,574.83 L190.46,574.34 L190.90,573.86 L191.33,573.37 L191.73,572.89 L192.10,572.40 L192.45,571.91 L192.78,571.43 L193.07,570.94 L193.32,570.46 L193.54,569.97 L193.71,569.49 L193.80,569.00Z" fill="#6f6f3e"/>
<line x1="193.80" y1="580.00" x2="193.80" y2="582.40" stroke="#6f6f3e" stroke-width="0.8"/>
<path d="M204.20,569.00 L204.29,569.49 L204.45,569.97 L204.67,570.46 L204.92,570.94 L205.20,571.43 L205.52,571.91 L205.86,572.40 L206.23,572.89 L206.62,573.37 L207.04,573.86 L207.47,574.34 L207.93,574.83 L208.41,575.31 L208.90,575.80 L208.63,576.14 L208.35,576.47 L208.08,576.81 L207.79,577.14 L207.50,577.48 L207.20,577.81 L206.90,578.15 L206.59,578.49 L206.26,578.82 L205.93,579.16 L205.57,579.49 L205.19,579.83 L204.77,580.16 L204.20,580.50 L204.20,580.50 L203.63,580.16 L203.21,579.83 L202.83,579.49 L202.47,579.16 L202.14,578.82 L201.81,578.49 L201.50,578.15 L201.20,577.81 L200.90,577.48 L200.61,577.14 L200.32,576.81 L200.05,576.47 L199.77,576.14 L199.50,575.80 L199.99,575.31 L200.47,574.83 L200.93,574.34 L201.36,573.86 L201.78,573.37 L202.17,572.89 L202.54,572.40 L202.88,571.91 L203.20,571.43 L203.48,570.94 L203.73,570.46 L203.95,569.97 L204.11,569.49 L204.20,569.00Z" fill="#c8d884"/>
<line x1="204.20" y1="579.50" x2="204.20" y2="582.40" stroke="#c8d884" stroke-width="0.8"/>
<path d="M214.60,569.50 L214.69,569.99 L214.85,570.47 L215.06,570.96 L215.30,571.44 L215.58,571.93 L215.89,572.41 L216.23,572.90 L216.59,573.39 L216.97,573.87 L217.38,574.36 L217.80,574.84 L218.25,575.33 L218.72,575.81 L219.20,576.30 L218.94,576.64 L218.67,576.97 L218.39,577.31 L218.11,577.64 L217.83,577.98 L217.54,578.31 L217.24,578.65 L216.94,578.99 L216.62,579.32 L216.29,579.66 L215.94,579.99 L215.57,580.33 L215.16,580.66 L214.60,581.00 L214.60,581.00 L214.04,580.66 L213.63,580.33 L213.26,579.99 L212.91,579.66 L212.58,579.32 L212.26,578.99 L211.96,578.65 L211.66,578.31 L211.37,577.98 L211.09,577.64 L210.81,577.31 L210.53,576.97 L210.26,576.64 L210.00,576.30 L210.48,575.81 L210.95,575.33 L211.40,574.84 L211.82,574.36 L212.23,573.87 L212.61,573.39 L212.97,572.90 L213.31,572.41 L213.62,571.93 L213.90,571.44 L214.14,570.96 L214.35,570.47 L214.51,569.99 L214.60,569.50Z" fill="#7f9a76"/>
<line x1="214.60" y1="580.00" x2="214.60" y2="582.40" stroke="#7f9a76" stroke-width="0.8"/>
<path d="M225.50,569.50 L225.59,569.95 L225.75,570.40 L225.96,570.85 L226.20,571.30 L226.48,571.75 L226.79,572.20 L227.13,572.65 L227.49,573.10 L227.87,573.55 L228.28,574.00 L228.70,574.45 L229.15,574.90 L229.62,575.35 L230.10,575.80 L229.84,576.06 L229.57,576.33 L229.29,576.59 L229.01,576.86 L228.73,577.12 L228.44,577.39 L228.14,577.65 L227.84,577.91 L227.52,578.18 L227.19,578.44 L226.84,578.71 L226.47,578.97 L226.06,579.24 L225.50,579.50 L225.50,579.50 L224.94,579.24 L224.53,578.97 L224.16,578.71 L223.81,578.44 L223.48,578.18 L223.16,577.91 L222.86,577.65 L222.56,577.39 L222.27,577.12 L221.99,576.86 L221.71,576.59 L221.43,576.33 L221.16,576.06 L220.90,575.80 L221.38,575.35 L221.85,574.90 L222.30,574.45 L222.72,574.00 L223.13,573.55 L223.51,573.10 L223.87,572.65 L224.21,572.20 L224.52,571.75 L224.80,571.30 L225.04,570.85 L225.25,570.40 L225.41,569.95 L225.50,569.50Z" fill="#7b5a52"/>
<line x1="225.50" y1="578.50" x2="225.50" y2="582.40" stroke="#7b5a52" stroke-width="0.8"/>
<line x1="166.60" y1="609.00" x2="166.60" y2="623.70" stroke="#222" stroke-width="1.0"/>
<line x1="166.10" y1="623.20" x2="230.00" y2="623.20" stroke="#222" stroke-width="1.1"/>
<line x1="163.80" y1="611.50" x2="166.60" y2="611.50" stroke="#222" stroke-width="0.8"/>
<line x1="163.80" y1="614.00" x2="166.60" y2="614.00" stroke="#222" stroke-width="0.8"/>
<line x1="163.80" y1="616.50" x2="166.60" y2="616.50" stroke="#222" stroke-width="0.8"/>
<line x1="163.80" y1="619.00" x2="166.60" y2="619.00" stroke="#222" stroke-width="0.8"/>
<line x1="163.80" y1="621.50" x2="166.60" y2="621.50" stroke="#222" stroke-width="0.8"/>
<text x="160.60" y="616.00" font-size="6.4" text-anchor="middle" transform="rotate(-90 160.60 616.00)">2</text>
<text x="160.60" y="622.30" font-size="6.4" text-anchor="middle" transform="rotate(-90 160.60 622.30)">0</text>
<line x1="172.30" y1="623.20" x2="172.30" y2="625.60" stroke="#222" stroke-width="0.8"/>
<text x="172.30" y="634.40" font-size="7.2" text-anchor="middle">0</text>
<line x1="182.70" y1="623.20" x2="182.70" y2="625.60" stroke="#222" stroke-width="0.8"/>
<text x="182.70" y="634.40" font-size="7.2" text-anchor="middle">1</text>
<line x1="193.80" y1="623.20" x2="193.80" y2="625.60" stroke="#222" stroke-width="0.8"/>
<text x="193.80" y="634.40" font-size="7.2" text-anchor="middle">2</text>
<line x1="204.20" y1="623.20" x2="204.20" y2="625.60" stroke="#222" stroke-width="0.8"/>
<text x="204.20" y="634.40" font-size="7.2" text-anchor="middle">3</text>
<line x1="214.60" y1="623.20" x2="214.60" y2="625.60" stroke="#222" stroke-width="0.8"/>
<text x="214.60" y="634.40" font-size="7.2" text-anchor="middle">4</text>
<line x1="225.50" y1="623.20" x2="225.50" y2="625.60" stroke="#222" stroke-width="0.8"/>
<text x="225.50" y="634.40" font-size="7.2" text-anchor="middle">5</text>
<text x="188.30" y="606.00" font-size="6.6" textLength="23.00" lengthAdjust="spacingAndGlyphs">BCL2A1</text>
<line x1="172.30" y1="609.80" x2="172.30" y2="623.20" stroke="#a8a8a8" stroke-width="0.9"/>
<line x1="182.70" y1="608.00" x2="182.70" y2="623.20" stroke="#e0a0b0" stroke-width="0.9"/>
<line x1="193.80" y1="614.20" x2="193.80" y2="623.20" stroke="#8a8a5a" stroke-width="0.9"/>
<line x1="204.20" y1="616.00" x2="204.20" y2="623.20" stroke="#d0dc90" stroke-width="0.9"/>
<line x1="214.60" y1="613.30" x2="214.60" y2="623.20" stroke="#9aa09a" stroke-width="0.9"/>
<line x1="225.50" y1="609.50" x2="225.50" y2="623.20" stroke="#b0b0b0" stroke-width="0.9"/>
<path d="M182.70,612.40 L182.78,612.81 L182.91,613.23 L183.05,613.64 L183.21,614.06 L183.38,614.47 L183.56,614.89 L183.76,615.30 L183.96,615.71 L184.16,616.13 L184.38,616.54 L184.60,616.96 L184.83,617.37 L185.06,617.79 L185.30,618.20 L185.17,618.53 L185.03,618.86 L184.90,619.19 L184.75,619.51 L184.61,619.84 L184.46,620.17 L184.30,620.50 L184.14,620.83 L183.96,621.16 L183.78,621.49 L183.58,621.81 L183.37,622.14 L183.11,622.47 L182.70,622.80 L182.70,622.80 L182.29,622.47 L182.03,622.14 L181.82,621.81 L181.62,621.49 L181.44,621.16 L181.26,620.83 L181.10,620.50 L180.94,620.17 L180.79,619.84 L180.65,619.51 L180.50,619.19 L180.37,618.86 L180.23,618.53 L180.10,618.20 L180.34,617.79 L180.57,617.37 L180.80,616.96 L181.02,616.54 L181.24,616.13 L181.44,615.71 L181.64,615.30 L181.84,614.89 L182.02,614.47 L182.19,614.06 L182.35,613.64 L182.49,613.23 L182.62,612.81 L182.70,612.40Z" fill="#c8284a"/>
<path d="M193.80,616.50 L193.83,616.71 L193.88,616.93 L193.93,617.14 L194.00,617.36 L194.06,617.57 L194.13,617.79 L194.21,618.00 L194.28,618.21 L194.36,618.43 L194.45,618.64 L194.53,618.86 L194.62,619.07 L194.71,619.29 L194.80,619.50 L194.75,619.71 L194.70,619.93 L194.64,620.14 L194.59,620.36 L194.53,620.57 L194.48,620.79 L194.42,621.00 L194.35,621.21 L194.29,621.43 L194.22,621.64 L194.14,621.86 L194.06,622.07 L193.96,622.29 L193.80,622.50 L193.80,622.50 L193.64,622.29 L193.54,622.07 L193.46,621.86 L193.38,621.64 L193.31,621.43 L193.25,621.21 L193.18,621.00 L193.12,620.79 L193.07,620.57 L193.01,620.36 L192.96,620.14 L192.90,619.93 L192.85,619.71 L192.80,619.50 L192.89,619.29 L192.98,619.07 L193.07,618.86 L193.15,618.64 L193.24,618.43 L193.32,618.21 L193.39,618.00 L193.47,617.79 L193.54,617.57 L193.60,617.36 L193.67,617.14 L193.72,616.93 L193.77,616.71 L193.80,616.50Z" fill="#6f6f3e"/>
<path d="M204.20,617.50 L204.23,617.68 L204.28,617.86 L204.33,618.04 L204.40,618.21 L204.46,618.39 L204.53,618.57 L204.61,618.75 L204.68,618.93 L204.76,619.11 L204.85,619.29 L204.93,619.46 L205.02,619.64 L205.11,619.82 L205.20,620.00 L205.15,620.18 L205.10,620.36 L205.04,620.54 L204.99,620.71 L204.93,620.89 L204.88,621.07 L204.82,621.25 L204.75,621.43 L204.69,621.61 L204.62,621.79 L204.54,621.96 L204.46,622.14 L204.36,622.32 L204.20,622.50 L204.20,622.50 L204.04,622.32 L203.94,622.14 L203.86,621.96 L203.78,621.79 L203.71,621.61 L203.65,621.43 L203.58,621.25 L203.52,621.07 L203.47,620.89 L203.41,620.71 L203.36,620.54 L203.30,620.36 L203.25,620.18 L203.20,620.00 L203.29,619.82 L203.38,619.64 L203.47,619.46 L203.55,619.29 L203.64,619.11 L203.72,618.93 L203.79,618.75 L203.87,618.57 L203.94,618.39 L204.00,618.21 L204.07,618.04 L204.12,617.86 L204.17,617.68 L204.20,617.50Z" fill="#c8d884"/>
<line x1="166.60" y1="650.50" x2="166.60" y2="664.80" stroke="#222" stroke-width="1.0"/>
<line x1="166.10" y1="664.30" x2="230.00" y2="664.30" stroke="#222" stroke-width="1.1"/>
<line x1="163.80" y1="653.00" x2="166.60" y2="653.00" stroke="#222" stroke-width="0.8"/>
<line x1="163.80" y1="655.80" x2="166.60" y2="655.80" stroke="#222" stroke-width="0.8"/>
<line x1="163.80" y1="658.50" x2="166.60" y2="658.50" stroke="#222" stroke-width="0.8"/>
<line x1="163.80" y1="661.20" x2="166.60" y2="661.20" stroke="#222" stroke-width="0.8"/>
<text x="161.40" y="658.10" font-size="6.8" text-anchor="end">1.0</text>
<text x="161.40" y="664.60" font-size="6.8" text-anchor="end">0.0</text>
<line x1="172.30" y1="664.30" x2="172.30" y2="666.70" stroke="#222" stroke-width="0.8"/>
<text x="172.30" y="675.50" font-size="7.2" text-anchor="middle">0</text>
<line x1="182.70" y1="664.30" x2="182.70" y2="666.70" stroke="#222" stroke-width="0.8"/>
<text x="182.70" y="675.50" font-size="7.2" text-anchor="middle">1</text>
<line x1="193.80" y1="664.30" x2="193.80" y2="666.70" stroke="#222" stroke-width="0.8"/>
<text x="193.80" y="675.50" font-size="7.2" text-anchor="middle">2</text>
<line x1="204.20" y1="664.30" x2="204.20" y2="666.70" stroke="#222" stroke-width="0.8"/>
<text x="204.20" y="675.50" font-size="7.2" text-anchor="middle">3</text>
<line x1="214.60" y1="664.30" x2="214.60" y2="666.70" stroke="#222" stroke-width="0.8"/>
<text x="214.60" y="675.50" font-size="7.2" text-anchor="middle">4</text>
<line x1="225.50" y1="664.30" x2="225.50" y2="666.70" stroke="#222" stroke-width="0.8"/>
<text x="225.50" y="675.50" font-size="7.2" text-anchor="middle">5</text>
<text x="177.90" y="646.70" font-size="6.6" textLength="43.30" lengthAdjust="spacingAndGlyphs">BCL2L1/BCLxL</text>
<line x1="172.30" y1="650.10" x2="172.30" y2="664.30" stroke="#8c8c8c" stroke-width="0.8"/>
<line x1="182.70" y1="650.10" x2="182.70" y2="664.30" stroke="#8c8c8c" stroke-width="0.8"/>
<line x1="193.80" y1="653.60" x2="193.80" y2="664.30" stroke="#8c8c8c" stroke-width="0.8"/>
<line x1="204.20" y1="650.10" x2="204.20" y2="664.30" stroke="#8c8c8c" stroke-width="0.8"/>
<line x1="214.60" y1="654.40" x2="214.60" y2="664.30" stroke="#8c8c8c" stroke-width="0.8"/>
<text x="148.00" y="531.90" font-size="7.4" text-anchor="middle" textLength="32.70" lengthAdjust="spacingAndGlyphs" transform="rotate(-90 148.00 531.90)">Relative CN</text>
<text x="147.60" y="615.50" font-size="7.4" text-anchor="middle" textLength="48.40" lengthAdjust="spacingAndGlyphs" transform="rotate(-90 147.60 615.50)">Expression level</text>
<text x="187.40" y="685.60" font-size="8.2" textLength="23.70" lengthAdjust="spacingAndGlyphs">Identity</text>
<text x="327.70" y="519.40" font-size="9.6" textLength="21.90" lengthAdjust="spacingAndGlyphs" font-weight="bold" fill="#111">CLL7</text>
<text x="323.10" y="534.40" font-size="8.2" textLength="30.40" lengthAdjust="spacingAndGlyphs">BCL2A1</text>
<line x1="292.90" y1="543.40" x2="292.90" y2="582.50" stroke="#222" stroke-width="1.0"/>
<line x1="292.40" y1="582.00" x2="385.20" y2="582.00" stroke="#222" stroke-width="1.1"/>
<line x1="289.60" y1="550.50" x2="292.90" y2="550.50" stroke="#222" stroke-width="0.8"/>
<text x="286.00" y="552.70" font-size="6.4" text-anchor="end">7.5</text>
<line x1="289.60" y1="560.90" x2="292.90" y2="560.90" stroke="#222" stroke-width="0.8"/>
<text x="286.00" y="563.10" font-size="6.4" text-anchor="end">5.0</text>
<line x1="289.60" y1="570.70" x2="292.90" y2="570.70" stroke="#222" stroke-width="0.8"/>
<text x="286.00" y="572.90" font-size="6.4" text-anchor="end">2.5</text>
<line x1="289.60" y1="580.60" x2="292.90" y2="580.60" stroke="#222" stroke-width="0.8"/>
<text x="286.00" y="582.80" font-size="6.4" text-anchor="end">0.0</text>
<line x1="296.90" y1="582.00" x2="296.90" y2="584.50" stroke="#222" stroke-width="0.8"/>
<line x1="334.90" y1="582.00" x2="334.90" y2="584.50" stroke="#222" stroke-width="0.8"/>
<line x1="342.30" y1="582.00" x2="342.30" y2="584.50" stroke="#222" stroke-width="0.8"/>
<line x1="380.40" y1="582.00" x2="380.40" y2="584.50" stroke="#222" stroke-width="0.8"/>
<text x="296.30" y="548.70" font-size="5.6" textLength="26.50" lengthAdjust="spacingAndGlyphs">c-REL ChIP</text>
<path d="M296.60,580.60 L297.20,571.60 L297.80,580.60" fill="#ddd" stroke="#a0a0a0" stroke-width="0.6" fill-opacity="0.55" stroke-linejoin="round"/>
<path d="M303.60,580.60 L304.60,568.50 L305.60,580.60" fill="#cfe2f2" stroke="#88b6dc" stroke-width="0.6" fill-opacity="0.55" stroke-linejoin="round"/>
<path d="M306.10,580.60 L307.00,572.30 L307.90,580.60" fill="#cfe2f2" stroke="#88b6dc" stroke-width="0.6" fill-opacity="0.55" stroke-linejoin="round"/>
<path d="M310.10,580.60 L311.30,576.30 L312.50,580.60" fill="#e0d8d0" stroke="#b8a8a0" stroke-width="0.6" fill-opacity="0.55" stroke-linejoin="round"/>
<path d="M328.30,580.60 L329.50,568.30 L330.70,580.60" fill="#f0c0c8" stroke="#c0707e" stroke-width="0.6" fill-opacity="0.55" stroke-linejoin="round"/>
<path d="M332.20,580.60 L334.20,548.30 L336.20,580.60" fill="#f0c0c8" stroke="#c0707e" stroke-width="0.6" fill-opacity="0.55" stroke-linejoin="round"/>
<path d="M335.60,580.60 L337.60,544.70 L339.60,580.60" fill="#f0c0c8" stroke="#c0707e" stroke-width="0.6" fill-opacity="0.55" stroke-linejoin="round"/>
<path d="M334.9,580.6 C335.8,578 336.4,573.6 337.2,573.6 C338,573.6 338.6,578 339.6,580.6Z" fill="#7a2030" fill-opacity="0.8"/>
<path d="M357.20,580.60 L358.30,564.60 L359.40,580.60" fill="#f0c0c8" stroke="#c0707e" stroke-width="0.6" fill-opacity="0.55" stroke-linejoin="round"/>
<path d="M361.40,580.60 L362.50,564.60 L363.60,580.60" fill="#f0c0c8" stroke="#c0707e" stroke-width="0.6" fill-opacity="0.55" stroke-linejoin="round"/>
<path d="M375.40,580.60 L376.50,573.00 L377.60,580.60" fill="#cfe2f2" stroke="#88b6dc" stroke-width="0.6" fill-opacity="0.55" stroke-linejoin="round"/>
<path d="M374.60,580.60 L375.40,576.50 L376.20,580.60" fill="#cfe2f2" stroke="#88b6dc" stroke-width="0.6" fill-opacity="0.55" stroke-linejoin="round"/>
<text x="297.10" y="592.80" font-size="5.8" text-anchor="middle" textLength="13.50" lengthAdjust="spacingAndGlyphs">-5000</text>
<text x="338.60" y="592.80" font-size="5.8" text-anchor="middle" textLength="20.50" lengthAdjust="spacingAndGlyphs">TSS TES</text>
<text x="381.20" y="592.80" font-size="5.8" text-anchor="middle" textLength="11.00" lengthAdjust="spacingAndGlyphs">5000</text>
<text x="327.00" y="605.80" font-size="9.0" textLength="22.10" lengthAdjust="spacingAndGlyphs">BCL2A1</text>
<text x="271.00" y="563.20" font-size="8.8" text-anchor="middle" textLength="28.10" lengthAdjust="spacingAndGlyphs" transform="rotate(-90 271.00 563.20)">Coverage</text>
<line x1="292.70" y1="627.00" x2="292.70" y2="664.00" stroke="#222" stroke-width="1.0"/>
<line x1="292.20" y1="663.50" x2="382.30" y2="663.50" stroke="#222" stroke-width="1.1"/>
<line x1="289.40" y1="637.40" x2="292.70" y2="637.40" stroke="#222" stroke-width="0.8"/>
<text x="285.80" y="639.60" font-size="6.4" text-anchor="end">400</text>
<line x1="289.40" y1="650.20" x2="292.70" y2="650.20" stroke="#222" stroke-width="0.8"/>
<text x="285.80" y="652.40" font-size="6.4" text-anchor="end">200</text>
<line x1="289.40" y1="662.40" x2="292.70" y2="662.40" stroke="#222" stroke-width="0.8"/>
<text x="285.80" y="664.60" font-size="6.4" text-anchor="end">0</text>
<line x1="297.10" y1="663.50" x2="297.10" y2="666.00" stroke="#222" stroke-width="0.8"/>
<line x1="334.90" y1="663.50" x2="334.90" y2="666.00" stroke="#222" stroke-width="0.8"/>
<line x1="342.30" y1="663.50" x2="342.30" y2="666.00" stroke="#222" stroke-width="0.8"/>
<line x1="380.40" y1="663.50" x2="380.40" y2="666.00" stroke="#222" stroke-width="0.8"/>
<text x="296.00" y="633.30" font-size="5.8" textLength="24.30" lengthAdjust="spacingAndGlyphs">ATAC-seq</text>
<line x1="293.00" y1="662.80" x2="382.00" y2="662.80" stroke="#c8a0a8" stroke-width="0.8"/>
<path d="M333.00,662.80 L334.30,628.10 L335.60,662.80" fill="#f0c0c8" stroke="#c0707e" stroke-width="0.7" fill-opacity="0.7" stroke-linejoin="round"/>
<path d="M336.80,662.80 L337.60,656.90 L338.40,662.80" fill="#f0c0c8" stroke="#c0707e" stroke-width="0.6" fill-opacity="0.55" stroke-linejoin="round"/>
<path d="M329.90,662.80 L331.40,659.70 L332.90,662.80" fill="#ddd" stroke="#999" stroke-width="0.6" fill-opacity="0.55" stroke-linejoin="round"/>
<text x="297.10" y="674.60" font-size="5.8" text-anchor="middle" textLength="13.50" lengthAdjust="spacingAndGlyphs">-5000</text>
<text x="338.60" y="674.60" font-size="5.8" text-anchor="middle" textLength="20.50" lengthAdjust="spacingAndGlyphs">TSS TES</text>
<text x="381.20" y="674.60" font-size="5.8" text-anchor="middle" textLength="11.00" lengthAdjust="spacingAndGlyphs">5000</text>
<text x="327.00" y="686.30" font-size="9.0" textLength="22.10" lengthAdjust="spacingAndGlyphs">BCL2A1</text>
<text x="269.50" y="646.20" font-size="8.8" text-anchor="middle" textLength="28.10" lengthAdjust="spacingAndGlyphs" transform="rotate(-90 269.50 646.20)">Coverage</text>
<text x="460.40" y="519.40" font-size="9.6" textLength="21.60" lengthAdjust="spacingAndGlyphs" font-weight="bold" fill="#111">CLL7</text>
<text x="460.10" y="534.40" font-size="8.2" textLength="21.90" lengthAdjust="spacingAndGlyphs">MCL1</text>
<line x1="425.20" y1="543.00" x2="425.20" y2="582.10" stroke="#222" stroke-width="1.0"/>
<line x1="424.70" y1="581.60" x2="518.70" y2="581.60" stroke="#222" stroke-width="1.1"/>
<line x1="421.90" y1="554.20" x2="425.20" y2="554.20" stroke="#222" stroke-width="0.8"/>
<text x="418.30" y="556.40" font-size="6.4" text-anchor="end">10</text>
<line x1="421.90" y1="567.70" x2="425.20" y2="567.70" stroke="#222" stroke-width="0.8"/>
<text x="418.30" y="569.90" font-size="6.4" text-anchor="end">5</text>
<line x1="421.90" y1="580.20" x2="425.20" y2="580.20" stroke="#222" stroke-width="0.8"/>
<text x="418.30" y="582.40" font-size="6.4" text-anchor="end">0</text>
<line x1="428.70" y1="581.60" x2="428.70" y2="584.10" stroke="#222" stroke-width="0.8"/>
<line x1="467.40" y1="581.60" x2="467.40" y2="584.10" stroke="#222" stroke-width="0.8"/>
<line x1="474.00" y1="581.60" x2="474.00" y2="584.10" stroke="#222" stroke-width="0.8"/>
<line x1="514.50" y1="581.60" x2="514.50" y2="584.10" stroke="#222" stroke-width="0.8"/>
<text x="427.80" y="548.70" font-size="5.6" textLength="26.00" lengthAdjust="spacingAndGlyphs">c-REL ChIP</text>
<line x1="429.00" y1="580.30" x2="514.00" y2="580.30" stroke="#c9dcee" stroke-width="1.2"/>
<path d="M444.40,580.30 L445.50,575.10 L446.60,580.30" fill="#f0c0c8" stroke="#c0707e" stroke-width="0.6" fill-opacity="0.55" stroke-linejoin="round"/>
<path d="M445.80,580.30 L446.90,577.50 L448.00,580.30" fill="#f0c0c8" stroke="#c0707e" stroke-width="0.6" fill-opacity="0.55" stroke-linejoin="round"/>
<path d="M453.60,580.30 L454.60,578.40 L455.60,580.30" fill="#cfe2f2" stroke="#88b6dc" stroke-width="0.6" fill-opacity="0.55" stroke-linejoin="round"/>
<path d="M464.60,580.30 L465.60,572.90 L466.60,580.30" fill="#cfe2f2" stroke="#88b6dc" stroke-width="0.6" fill-opacity="0.55" stroke-linejoin="round"/>
<path d="M465.70,580.30 L466.70,575.60 L467.70,580.30" fill="#cfe2f2" stroke="#88b6dc" stroke-width="0.6" fill-opacity="0.55" stroke-linejoin="round"/>
<path d="M469.60,580.30 L470.70,566.50 L471.80,580.30" fill="#f0c0c8" stroke="#c0707e" stroke-width="0.6" fill-opacity="0.55" stroke-linejoin="round"/>
<path d="M471.10,580.30 L472.10,571.00 L473.10,580.30" fill="#cfe2f2" stroke="#88b6dc" stroke-width="0.6" fill-opacity="0.55" stroke-linejoin="round"/>
<path d="M473.20,580.30 L474.30,562.80 L475.40,580.30" fill="#f0c0c8" stroke="#c0707e" stroke-width="0.6" fill-opacity="0.55" stroke-linejoin="round"/>
<path d="M474.20,580.30 L475.20,574.70 L476.20,580.30" fill="#cfe2f2" stroke="#88b6dc" stroke-width="0.6" fill-opacity="0.55" stroke-linejoin="round"/>
<path d="M477.20,580.30 L478.30,570.10 L479.40,580.30" fill="#f0c0c8" stroke="#c0707e" stroke-width="0.6" fill-opacity="0.55" stroke-linejoin="round"/>
<path d="M481.40,580.30 L482.50,568.30 L483.60,580.30" fill="#f0c0c8" stroke="#c0707e" stroke-width="0.6" fill-opacity="0.55" stroke-linejoin="round"/>
<path d="M482.40,580.30 L483.50,572.90 L484.60,580.30" fill="#f0c0c8" stroke="#c0707e" stroke-width="0.6" fill-opacity="0.55" stroke-linejoin="round"/>
<path d="M488.90,580.30 L489.90,572.50 L490.90,580.30" fill="#cfe2f2" stroke="#88b6dc" stroke-width="0.6" fill-opacity="0.55" stroke-linejoin="round"/>
<path d="M492.50,580.30 L493.50,575.60 L494.50,580.30" fill="#cfe2f2" stroke="#88b6dc" stroke-width="0.6" fill-opacity="0.55" stroke-linejoin="round"/>
<path d="M512.60,580.30 L513.60,570.10 L514.60,580.30" fill="#cfe2f2" stroke="#88b6dc" stroke-width="0.6" fill-opacity="0.55" stroke-linejoin="round"/>
<path d="M463.00,580.30 L464.00,578.00 L465.00,580.30" fill="#cfe2f2" stroke="#88b6dc" stroke-width="0.6" fill-opacity="0.55" stroke-linejoin="round"/>
<path d="M466.50,580.30 L467.60,543.70 L468.70,580.30" fill="#f0c0c8" stroke="#c0707e" stroke-width="0.6" fill-opacity="0.55" stroke-linejoin="round"/>
<path d="M466,580.3 L468,576 L470,574.5 L472,577 L474,575 L476,580.3Z" fill="#7a2030" fill-opacity="0.55"/>
<line x1="481.60" y1="546.40" x2="486.20" y2="546.40" stroke="#7eb0d8" stroke-width="1.2"/>
<line x1="481.60" y1="554.20" x2="486.20" y2="554.20" stroke="#c06070" stroke-width="1.2"/>
<text x="489.30" y="548.90" font-size="7.6" textLength="30.50" lengthAdjust="spacingAndGlyphs">Screening</text>
<text x="489.30" y="556.70" font-size="7.6" textLength="24.50" lengthAdjust="spacingAndGlyphs">Relapse</text>
<text x="430.40" y="593.00" font-size="5.8" text-anchor="middle" textLength="13.50" lengthAdjust="spacingAndGlyphs">-5000</text>
<text x="470.70" y="593.00" font-size="5.8" text-anchor="middle" textLength="20.50" lengthAdjust="spacingAndGlyphs">TSS TES</text>
<text x="514.50" y="593.00" font-size="5.8" text-anchor="middle" textLength="11.00" lengthAdjust="spacingAndGlyphs">5000</text>
<text x="462.60" y="605.00" font-size="9.4" textLength="17.30" lengthAdjust="spacingAndGlyphs">MCL1</text>
<text x="405.30" y="562.70" font-size="8.8" text-anchor="middle" textLength="28.10" lengthAdjust="spacingAndGlyphs" transform="rotate(-90 405.30 562.70)">Coverage</text>
<line x1="425.20" y1="627.60" x2="425.20" y2="664.30" stroke="#222" stroke-width="1.0"/>
<line x1="424.70" y1="663.80" x2="516.20" y2="663.80" stroke="#222" stroke-width="1.1"/>
<line x1="421.90" y1="635.40" x2="425.20" y2="635.40" stroke="#222" stroke-width="0.8"/>
<text x="418.30" y="637.60" font-size="6.4" text-anchor="end">200</text>
<line x1="421.90" y1="649.20" x2="425.20" y2="649.20" stroke="#222" stroke-width="0.8"/>
<text x="418.30" y="651.40" font-size="6.4" text-anchor="end">100</text>
<line x1="421.90" y1="662.70" x2="425.20" y2="662.70" stroke="#222" stroke-width="0.8"/>
<text x="418.30" y="664.90" font-size="6.4" text-anchor="end">0</text>
<line x1="429.20" y1="663.80" x2="429.20" y2="666.30" stroke="#222" stroke-width="0.8"/>
<line x1="467.10" y1="663.80" x2="467.10" y2="666.30" stroke="#222" stroke-width="0.8"/>
<line x1="474.40" y1="663.80" x2="474.40" y2="666.30" stroke="#222" stroke-width="0.8"/>
<line x1="513.80" y1="663.80" x2="513.80" y2="666.30" stroke="#222" stroke-width="0.8"/>
<text x="428.10" y="633.80" font-size="5.8" textLength="24.60" lengthAdjust="spacingAndGlyphs">ATAC-seq</text>
<line x1="426.00" y1="662.80" x2="515.00" y2="662.80" stroke="#c9dcee" stroke-width="1.0"/>
<path d="M438.40,662.80 L440.00,661.50 L441.60,662.80" fill="#cfe2f2" stroke="#88b6dc" stroke-width="0.5" fill-opacity="0.55" stroke-linejoin="round"/>
<path d="M446.40,662.80 L448.00,661.20 L449.60,662.80" fill="#cfe2f2" stroke="#88b6dc" stroke-width="0.5" fill-opacity="0.55" stroke-linejoin="round"/>
<path d="M455.40,662.80 L457.00,660.50 L458.60,662.80" fill="#cfe2f2" stroke="#88b6dc" stroke-width="0.5" fill-opacity="0.55" stroke-linejoin="round"/>
<path d="M459.40,662.80 L461.00,661.00 L462.60,662.80" fill="#cfe2f2" stroke="#88b6dc" stroke-width="0.5" fill-opacity="0.55" stroke-linejoin="round"/>
<path d="M488.40,662.80 L490.00,661.50 L491.60,662.80" fill="#cfe2f2" stroke="#88b6dc" stroke-width="0.5" fill-opacity="0.55" stroke-linejoin="round"/>
<path d="M495.40,662.80 L497.00,661.30 L498.60,662.80" fill="#cfe2f2" stroke="#88b6dc" stroke-width="0.5" fill-opacity="0.55" stroke-linejoin="round"/>
<path d="M503.40,662.80 L505.00,661.50 L506.60,662.80" fill="#cfe2f2" stroke="#88b6dc" stroke-width="0.5" fill-opacity="0.55" stroke-linejoin="round"/>
<path d="M426,662.8 L426,662.5 L438,662.3 L440,661.3 L442,662.3 L456,662.2 L458,660.8 L460,662 L464,661.2 L466,659.5 L468,658 L470,655.6 L471.5,658.5 L473,660.5 L475,661.5 L478,661 L480,660 L482,661.5 L485,662.2 L496,662.2 L498,661.2 L500,662.3 L515,662.5 L515,662.8Z" fill="#cfe2f2" fill-opacity="0.6"/>
<path d="M426,662.5 L438,662.3 L440,661.3 L442,662.3 L456,662.2 L458,660.8 L460,662 L464,661.2 L466,659.5 L468,658 L470,655.6 L471.5,658.5 L473,660.5 L475,661.5 L478,661 L480,660 L482,661.5 L485,662.2 L496,662.2 L498,661.2 L500,662.3 L515,662.5" fill="none" stroke="#88b6dc" stroke-width="0.6" stroke-linejoin="round"/>
<path d="M426,662.8 L426,662.6 L455,662.4 L460,662 L463,661 L465,657.5 L466.2,650 L466.8,640 L467.1,630 L467.3,627.3 L467.5,630 L467.8,640 L468.3,650 L469,657 L470,660 L471.2,656 L472.3,648.8 L473.2,656 L473.8,648 L474.1,636 L474.4,628.1 L474.7,636 L475.1,648 L475.8,658 L477.5,660 L479.5,654 L481.2,648.5 L482.8,654 L484,659.5 L486,662 L490,662.5 L515,662.6 L515,662.8Z" fill="#e89aa6" fill-opacity="0.3"/>
<path d="M426,662.6 L455,662.4 L460,662 L463,661 L465,657.5 L466.2,650 L466.8,640 L467.1,630 L467.3,627.3 L467.5,630 L467.8,640 L468.3,650 L469,657 L470,660 L471.2,656 L472.3,648.8 L473.2,656 L473.8,648 L474.1,636 L474.4,628.1 L474.7,636 L475.1,648 L475.8,658 L477.5,660 L479.5,654 L481.2,648.5 L482.8,654 L484,659.5 L486,662 L490,662.5 L515,662.6" fill="none" stroke="#a83c4e" stroke-width="0.6" stroke-linejoin="round"/>
<path d="M465.2,662.8 L466,656 L466.8,650 L467.4,652 L468.2,658 L469,662.8Z" fill="#7a2030" fill-opacity="0.85"/>
<line x1="481.20" y1="630.00" x2="486.30" y2="630.00" stroke="#7eb0d8" stroke-width="1.2"/>
<line x1="481.20" y1="639.20" x2="486.30" y2="639.20" stroke="#c06070" stroke-width="1.2"/>
<text x="489.60" y="632.30" font-size="7.6" textLength="28.90" lengthAdjust="spacingAndGlyphs">Screening</text>
<text x="489.60" y="641.70" font-size="7.6" textLength="23.10" lengthAdjust="spacingAndGlyphs">Relapse</text>
<text x="430.40" y="674.80" font-size="5.8" text-anchor="middle" textLength="13.50" lengthAdjust="spacingAndGlyphs">-5000</text>
<text x="470.75" y="674.80" font-size="5.8" text-anchor="middle" textLength="20.50" lengthAdjust="spacingAndGlyphs">TSS TES</text>
<text x="513.80" y="674.80" font-size="5.8" text-anchor="middle" textLength="11.00" lengthAdjust="spacingAndGlyphs">5000</text>
<text x="462.90" y="685.60" font-size="9.4" textLength="17.30" lengthAdjust="spacingAndGlyphs">MCL1</text>
<text x="402.60" y="646.00" font-size="8.8" text-anchor="middle" textLength="27.50" lengthAdjust="spacingAndGlyphs" transform="rotate(-90 402.60 646.00)">Coverage</text>
</svg></body></html>
